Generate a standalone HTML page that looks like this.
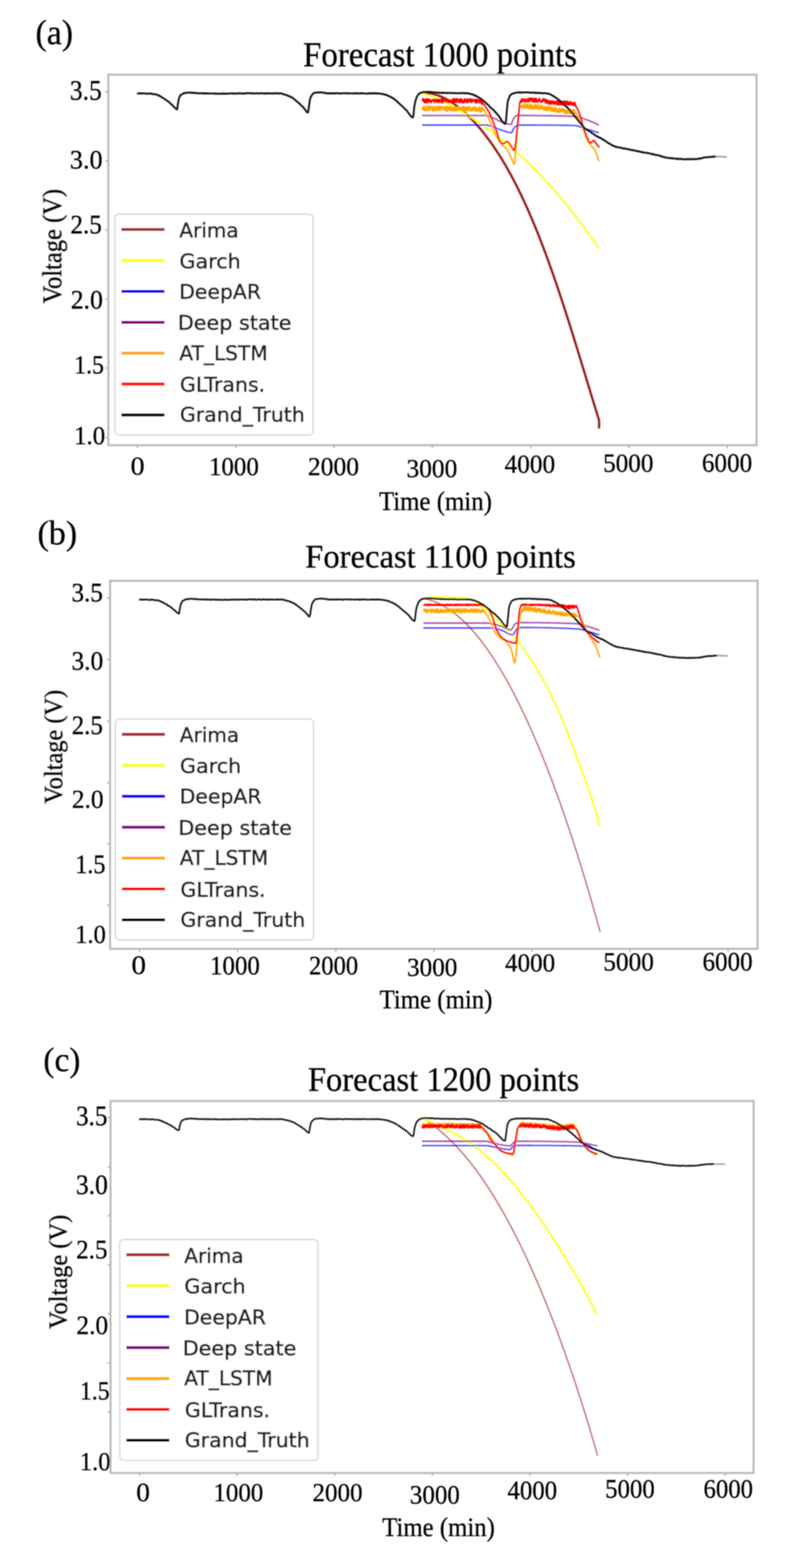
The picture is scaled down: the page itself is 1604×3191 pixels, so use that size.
<!DOCTYPE html>
<html><head><meta charset="utf-8"><title>Forecast comparison</title>
<style>
html,body{margin:0;padding:0;background:#fff;}
body{width:1604px;height:3191px;overflow:hidden;}
svg{display:block;}
</style></head>
<body>
<svg width="1604" height="3191" viewBox="0 0 1604 3191">
<defs><filter id="soft" x="0" y="0" width="1604" height="3191" filterUnits="userSpaceOnUse"><feGaussianBlur stdDeviation="0.9"/></filter></defs>
<rect width="1604" height="3191" fill="#fff"/>
<g filter="url(#soft)">
<g id="chart-a">
<path d="M280.0,907.5v4.5 M480.0,907.5v4.5 M680.0,907.5v4.5 M880.0,907.5v4.5 M1080.0,907.5v4.5 M1280.0,907.5v4.5 M1480.0,907.5v4.5 M219.0,186.6h-4.5 M219.0,327.6h-4.5 M219.0,468.0h-4.5 M219.0,609.0h-4.5 M219.0,749.0h-4.5 M219.0,891.0h-4.5" stroke="#9a9a9a" stroke-width="2.2" fill="none"/>
<rect x="220.5" y="152.0" width="1319.5" height="754.0" fill="none" stroke="#b8b8b8" stroke-width="4"/>
<polyline points="862.0,189.5 863.5,189.5 865.0,189.4 866.5,189.4 868.0,189.5 869.5,189.6 871.0,189.7 872.5,189.8 874.0,190.0 875.5,190.2 877.0,190.4 878.5,190.7 880.0,191.0 881.5,191.3 883.0,191.7 884.5,192.1 886.0,192.5 887.5,192.9 889.0,193.4 890.5,193.9 892.0,194.4 893.5,195.0 895.0,195.5 896.5,196.2 898.0,196.8 899.5,197.4 901.0,198.1 902.5,198.8 904.0,199.6 905.5,200.3 907.0,201.1 908.5,201.9 910.0,202.7 911.5,203.6 913.0,204.4 914.5,205.3 916.0,206.2 917.5,207.2 919.0,208.1 920.5,209.1 922.0,210.1 923.5,211.2 925.0,212.2 926.5,213.3 928.0,214.4 929.5,215.5 931.0,216.6 932.5,217.8 934.0,218.9 935.5,220.1 937.0,221.4 938.5,222.6 940.0,223.9 941.5,225.1 943.0,226.4 944.5,227.8 946.0,229.1 947.5,230.5 949.0,231.8 950.5,233.2 952.0,234.7 953.5,236.1 955.0,237.6 956.5,239.1 958.0,240.6 959.5,242.1 961.0,243.6 962.5,245.2 964.0,246.8 965.5,248.4 967.0,250.0 968.5,251.7 970.0,253.4 971.5,255.0 973.0,256.8 974.5,258.5 976.0,260.2 977.5,262.0 979.0,263.8 980.5,265.6 982.0,267.5 983.5,269.3 985.0,271.2 986.5,273.1 988.0,275.1 989.5,277.0 991.0,279.0 992.5,281.0 994.0,283.0 995.5,285.0 997.0,287.1 998.5,289.2 1000.0,291.3 1001.5,293.4 1003.0,295.5 1004.5,297.7 1006.0,299.9 1007.5,302.1 1009.0,304.4 1010.5,306.6 1012.0,308.9 1013.5,311.2 1015.0,313.6 1016.5,315.9 1018.0,318.3 1019.5,320.7 1021.0,323.2 1022.5,325.6 1024.0,328.1 1025.5,330.6 1027.0,333.1 1028.5,335.7 1030.0,338.3 1031.5,340.9 1033.0,343.5 1034.5,346.2 1036.0,348.9 1037.5,351.6 1039.0,354.3 1040.5,357.1 1042.0,359.8 1043.5,362.7 1045.0,365.5 1046.5,368.4 1048.0,371.3 1049.5,374.2 1051.0,377.1 1052.5,380.1 1054.0,383.1 1055.5,386.1 1057.0,389.2 1058.5,392.3 1060.0,395.4 1061.5,398.5 1063.0,401.7 1064.5,404.8 1066.0,408.1 1067.5,411.3 1069.0,414.6 1070.5,417.9 1072.0,421.2 1073.5,424.5 1075.0,427.9 1076.5,431.3 1078.0,434.8 1079.5,438.2 1081.0,441.7 1082.5,445.2 1084.0,448.8 1085.5,452.4 1087.0,456.0 1088.5,459.6 1090.0,463.2 1091.5,466.9 1093.0,470.6 1094.5,474.4 1096.0,478.1 1097.5,481.9 1099.0,485.7 1100.5,489.6 1102.0,493.5 1103.5,497.4 1105.0,501.3 1106.5,505.2 1108.0,509.2 1109.5,513.2 1111.0,517.2 1112.5,521.3 1114.0,525.4 1115.5,529.5 1117.0,533.6 1118.5,537.8 1120.0,542.0 1121.5,546.2 1123.0,550.4 1124.5,554.7 1126.0,559.0 1127.5,563.3 1129.0,567.6 1130.5,572.0 1132.0,576.3 1133.5,580.7 1135.0,585.2 1136.5,589.6 1138.0,594.1 1139.5,598.6 1141.0,603.1 1142.5,607.6 1144.0,612.1 1145.5,616.7 1147.0,621.3 1148.5,625.9 1150.0,630.5 1151.5,635.2 1153.0,639.9 1154.5,644.5 1156.0,649.2 1157.5,654.0 1159.0,658.7 1160.5,663.4 1162.0,668.2 1163.5,673.0 1165.0,677.8 1166.5,682.6 1168.0,687.4 1169.5,692.2 1171.0,697.1 1172.5,701.9 1174.0,706.8 1175.5,711.7 1177.0,716.6 1178.5,721.5 1180.0,726.4 1181.5,731.3 1183.0,736.2 1184.5,741.1 1186.0,746.0 1187.5,751.0 1189.0,755.9 1190.5,760.8 1192.0,765.8 1193.5,770.7 1195.0,775.6 1196.5,780.6 1198.0,785.5 1199.5,790.5 1201.0,795.4 1202.5,800.3 1204.0,805.2 1205.5,810.1 1207.0,815.0 1208.5,819.9 1210.0,824.8 1211.5,829.7 1213.0,834.6 1214.5,839.4 1216.0,844.3 1217.5,849.1 1219.0,853.9 1219.5,855.5 1219.6,864.0 1219.2,872.0" fill="none" stroke="#981e1e" stroke-width="4.6" stroke-opacity="1.0" stroke-linejoin="round" stroke-linecap="butt"/>
<polyline points="862.0,191.0 863.5,191.4 865.0,191.7 866.5,192.1 868.0,192.6 869.5,193.0 871.0,193.4 872.5,193.9 874.0,194.4 875.5,194.9 877.0,195.4 878.5,195.9 880.0,196.5 881.5,197.0 883.0,197.6 884.5,198.2 886.0,198.8 887.5,199.4 889.0,200.0 890.5,200.6 892.0,201.3 893.5,201.9 895.0,202.6 896.5,203.2 898.0,203.9 899.5,204.6 901.0,205.3 902.5,206.1 904.0,206.8 905.5,207.5 907.0,208.3 908.5,209.0 910.0,209.8 911.5,210.6 913.0,211.4 914.5,212.2 916.0,213.0 917.5,213.8 919.0,214.6 920.5,215.4 922.0,216.3 923.5,217.1 925.0,217.9 926.5,218.8 928.0,219.7 929.5,220.5 931.0,221.4 932.5,222.3 934.0,223.2 935.5,224.1 937.0,225.0 938.5,225.9 940.0,226.8 941.5,227.8 943.0,228.7 944.5,229.6 946.0,230.6 947.5,231.5 949.0,232.5 950.5,233.4 952.0,234.4 953.5,235.4 955.0,236.3 956.5,237.3 958.0,238.3 959.5,239.3 961.0,240.3 962.5,241.3 964.0,242.3 965.5,243.3 967.0,244.3 968.5,245.4 970.0,246.4 971.5,247.4 973.0,248.5 974.5,249.5 976.0,250.6 977.5,251.6 979.0,252.7 980.5,253.7 982.0,254.8 983.5,255.9 985.0,257.0 986.5,258.0 988.0,259.1 989.5,260.2 991.0,261.3 992.5,262.4 994.0,263.5 995.5,264.6 997.0,265.8 998.5,266.9 1000.0,268.0 1001.5,269.1 1003.0,270.3 1004.5,271.4 1006.0,272.6 1007.5,273.7 1009.0,274.9 1010.5,276.0 1012.0,277.2 1013.5,278.4 1015.0,279.5 1016.5,280.7 1018.0,281.9 1019.5,283.1 1021.0,284.3 1022.5,285.5 1024.0,286.7 1025.5,287.9 1027.0,289.2 1028.5,290.4 1030.0,291.6 1031.5,292.8 1033.0,294.1 1034.5,295.3 1036.0,296.6 1037.5,297.9 1039.0,299.1 1040.5,300.4 1042.0,301.7 1043.5,303.0 1045.0,304.2 1046.5,305.5 1048.0,306.8 1049.5,308.1 1051.0,309.5 1052.5,310.8 1054.0,312.1 1055.5,313.4 1057.0,314.8 1058.5,316.1 1060.0,317.5 1061.5,318.9 1063.0,320.2 1064.5,321.6 1066.0,323.0 1067.5,324.4 1069.0,325.8 1070.5,327.2 1072.0,328.6 1073.5,330.0 1075.0,331.4 1076.5,332.8 1078.0,334.3 1079.5,335.7 1081.0,337.2 1082.5,338.6 1084.0,340.1 1085.5,341.6 1087.0,343.1 1088.5,344.6 1090.0,346.1 1091.5,347.6 1093.0,349.1 1094.5,350.6 1096.0,352.1 1097.5,353.7 1099.0,355.2 1100.5,356.8 1102.0,358.4 1103.5,359.9 1105.0,361.5 1106.5,363.1 1108.0,364.7 1109.5,366.3 1111.0,367.9 1112.5,369.5 1114.0,371.2 1115.5,372.8 1117.0,374.4 1118.5,376.1 1120.0,377.8 1121.5,379.4 1123.0,381.1 1124.5,382.8 1126.0,384.5 1127.5,386.2 1129.0,387.9 1130.5,389.7 1132.0,391.4 1133.5,393.1 1135.0,394.9 1136.5,396.6 1138.0,398.4 1139.5,400.2 1141.0,402.0 1142.5,403.7 1144.0,405.5 1145.5,407.4 1147.0,409.2 1148.5,411.0 1150.0,412.8 1151.5,414.7 1153.0,416.5 1154.5,418.4 1156.0,420.2 1157.5,422.1 1159.0,424.0 1160.5,425.9 1162.0,427.8 1163.5,429.7 1165.0,431.6 1166.5,433.5 1168.0,435.5 1169.5,437.4 1171.0,439.4 1172.5,441.3 1174.0,443.3 1175.5,445.2 1177.0,447.2 1178.5,449.2 1180.0,451.2 1181.5,453.2 1183.0,455.2 1184.5,457.2 1186.0,459.2 1187.5,461.2 1189.0,463.3 1190.5,465.3 1192.0,467.4 1193.5,469.4 1195.0,471.5 1196.5,473.5 1198.0,475.6 1199.5,477.6 1201.0,479.7 1202.5,481.8 1204.0,483.9 1205.5,486.0 1207.0,488.1 1208.5,490.2 1210.0,492.3 1211.5,494.4 1213.0,496.5 1214.5,498.6 1216.0,500.7 1217.5,502.9 1219.0,505.0" fill="none" stroke="#ffff00" stroke-width="3.2" stroke-opacity="1.0" stroke-linejoin="round" stroke-linecap="butt"/>
<polyline points="859.0,254.5 860.5,254.5 862.0,254.5 863.5,254.5 865.0,254.5 866.5,254.5 868.0,254.5 869.5,254.5 871.0,254.5 872.5,254.5 874.0,254.5 875.5,254.5 877.0,254.5 878.5,254.5 880.0,254.5 881.5,254.5 883.0,254.5 884.5,254.5 886.0,254.5 887.5,254.5 889.0,254.5 890.5,254.5 892.0,254.5 893.5,254.5 895.0,254.5 896.5,254.5 898.0,254.5 899.5,254.5 901.0,254.5 902.5,254.5 904.0,254.5 905.5,254.5 907.0,254.5 908.5,254.5 910.0,254.5 911.5,254.5 913.0,254.5 914.5,254.5 916.0,254.5 917.5,254.5 919.0,254.5 920.5,254.5 922.0,254.5 923.5,254.5 925.0,254.5 926.5,254.5 928.0,254.5 929.5,254.5 931.0,254.5 932.5,254.5 934.0,254.5 935.5,254.5 937.0,254.5 938.5,254.5 940.0,254.5 941.5,254.5 943.0,254.5 944.5,254.5 946.0,254.5 947.5,254.5 949.0,254.5 950.5,254.5 952.0,254.5 953.5,254.5 955.0,254.5 956.5,254.5 958.0,254.5 959.5,254.5 961.0,254.5 962.5,254.5 964.0,254.5 965.5,254.5 967.0,254.5 968.5,254.5 970.0,254.5 971.5,254.5 973.0,254.5 974.5,254.5 976.0,254.5 977.5,254.5 979.0,254.5 980.5,254.5 982.0,254.5 983.5,254.5 985.0,254.5 986.5,254.5 988.0,254.5 989.5,254.5 991.0,254.6 992.5,254.8 994.0,255.2 995.5,255.6 997.0,256.0 998.5,256.5 1000.0,257.0 1001.5,257.6 1003.0,258.1 1004.5,258.6 1006.0,259.1 1007.5,259.6 1009.0,260.2 1010.5,260.9 1012.0,261.5 1013.5,262.1 1015.0,262.8 1016.5,263.4 1018.0,263.9 1019.5,264.4 1021.0,264.9 1022.5,265.4 1024.0,265.9 1025.5,266.4 1027.0,266.9 1028.5,267.4 1030.0,267.9 1031.5,268.3 1033.0,268.8 1034.5,269.1 1036.0,269.4 1037.5,269.7 1039.0,269.9 1040.5,270.0 1042.0,269.6 1043.5,265.7 1045.0,262.4 1046.5,260.4 1048.0,258.7 1049.5,257.4 1051.0,256.3 1052.5,255.2 1054.0,254.6 1055.5,254.5 1057.0,254.5 1058.5,254.5 1060.0,254.5 1061.5,254.5 1063.0,254.5 1064.5,254.5 1066.0,254.5 1067.5,254.5 1069.0,254.5 1070.5,254.5 1072.0,254.5 1073.5,254.5 1075.0,254.5 1076.5,254.5 1078.0,254.5 1079.5,254.5 1081.0,254.5 1082.5,254.5 1084.0,254.5 1085.5,254.5 1087.0,254.5 1088.5,254.5 1090.0,254.5 1091.5,254.6 1093.0,254.6 1094.5,254.6 1096.0,254.6 1097.5,254.6 1099.0,254.6 1100.5,254.6 1102.0,254.6 1103.5,254.6 1105.0,254.6 1106.5,254.6 1108.0,254.6 1109.5,254.6 1111.0,254.6 1112.5,254.6 1114.0,254.7 1115.5,254.7 1117.0,254.7 1118.5,254.7 1120.0,254.7 1121.5,254.7 1123.0,254.7 1124.5,254.7 1126.0,254.7 1127.5,254.8 1129.0,254.8 1130.5,254.8 1132.0,254.8 1133.5,254.8 1135.0,254.8 1136.5,254.8 1138.0,254.9 1139.5,254.9 1141.0,254.9 1142.5,254.9 1144.0,254.9 1145.5,254.9 1147.0,255.0 1148.5,255.0 1150.0,255.0 1151.5,255.0 1153.0,255.0 1154.5,255.1 1156.0,255.1 1157.5,255.1 1159.0,255.1 1160.5,255.2 1162.0,255.2 1163.5,255.2 1165.0,255.2 1166.5,255.3 1168.0,255.3 1169.5,255.3 1171.0,255.4 1172.5,255.7 1174.0,256.0 1175.5,256.4 1177.0,256.8 1178.5,257.3 1180.0,257.8 1181.5,258.3 1183.0,258.8 1184.5,259.2 1186.0,259.7 1187.5,260.2 1189.0,260.7 1190.5,261.2 1192.0,261.8 1193.5,262.3 1195.0,262.9 1196.5,263.4 1198.0,263.9 1199.5,264.4 1201.0,264.9 1202.5,265.4 1204.0,265.8 1205.5,266.3 1207.0,266.7 1208.5,267.1 1210.0,267.6 1211.5,268.0 1213.0,268.4 1214.5,268.8 1216.0,269.2 1217.5,269.6 1219.0,270.0 1219.2,270.0" fill="none" stroke="#0000ff" stroke-width="2.8" stroke-opacity="0.72" stroke-linejoin="round" stroke-linecap="butt"/>
<polyline points="859.0,235.2 860.5,235.2 862.0,235.2 863.5,235.2 865.0,235.2 866.5,235.2 868.0,235.2 869.5,235.2 871.0,235.2 872.5,235.2 874.0,235.2 875.5,235.2 877.0,235.2 878.5,235.2 880.0,235.2 881.5,235.2 883.0,235.2 884.5,235.2 886.0,235.2 887.5,235.2 889.0,235.2 890.5,235.2 892.0,235.2 893.5,235.2 895.0,235.2 896.5,235.2 898.0,235.2 899.5,235.2 901.0,235.2 902.5,235.2 904.0,235.2 905.5,235.2 907.0,235.2 908.5,235.2 910.0,235.2 911.5,235.2 913.0,235.2 914.5,235.2 916.0,235.2 917.5,235.2 919.0,235.2 920.5,235.2 922.0,235.2 923.5,235.2 925.0,235.2 926.5,235.2 928.0,235.2 929.5,235.2 931.0,235.2 932.5,235.2 934.0,235.2 935.5,235.2 937.0,235.2 938.5,235.2 940.0,235.2 941.5,235.2 943.0,235.2 944.5,235.2 946.0,235.2 947.5,235.2 949.0,235.2 950.5,235.2 952.0,235.2 953.5,235.2 955.0,235.2 956.5,235.2 958.0,235.2 959.5,235.2 961.0,235.2 962.5,235.2 964.0,235.2 965.5,235.2 967.0,235.2 968.5,235.2 970.0,235.2 971.5,235.2 973.0,235.2 974.5,235.2 976.0,235.2 977.5,235.2 979.0,235.2 980.5,235.2 982.0,235.2 983.5,235.2 985.0,235.2 986.5,235.2 988.0,235.2 989.5,235.2 991.0,235.3 992.5,235.6 994.0,236.0 995.5,236.5 997.0,237.1 998.5,237.7 1000.0,238.3 1001.5,239.0 1003.0,239.6 1004.5,240.2 1006.0,240.8 1007.5,241.5 1009.0,242.3 1010.5,243.1 1012.0,243.9 1013.5,244.7 1015.0,245.4 1016.5,246.2 1018.0,246.8 1019.5,247.4 1021.0,248.0 1022.5,248.5 1024.0,249.1 1025.5,249.6 1027.0,250.2 1028.5,250.7 1030.0,251.2 1031.5,251.6 1033.0,252.0 1034.5,252.4 1036.0,252.7 1037.5,252.9 1039.0,253.0 1040.5,252.8 1042.0,249.8 1043.5,245.5 1045.0,242.3 1046.5,239.8 1048.0,237.6 1049.5,236.1 1051.0,235.4 1052.5,235.0 1054.0,235.0 1055.5,235.0 1057.0,235.0 1058.5,235.0 1060.0,235.0 1061.5,235.0 1063.0,235.0 1064.5,235.0 1066.0,235.0 1067.5,235.0 1069.0,235.0 1070.5,235.0 1072.0,235.0 1073.5,235.0 1075.0,235.0 1076.5,235.1 1078.0,235.1 1079.5,235.1 1081.0,235.1 1082.5,235.1 1084.0,235.1 1085.5,235.1 1087.0,235.1 1088.5,235.1 1090.0,235.1 1091.5,235.2 1093.0,235.2 1094.5,235.2 1096.0,235.2 1097.5,235.2 1099.0,235.2 1100.5,235.2 1102.0,235.3 1103.5,235.3 1105.0,235.3 1106.5,235.3 1108.0,235.3 1109.5,235.3 1111.0,235.4 1112.5,235.4 1114.0,235.4 1115.5,235.4 1117.0,235.5 1118.5,235.5 1120.0,235.5 1121.5,235.5 1123.0,235.6 1124.5,235.6 1126.0,235.6 1127.5,235.6 1129.0,235.7 1130.5,235.7 1132.0,235.7 1133.5,235.8 1135.0,235.8 1136.5,235.8 1138.0,235.9 1139.5,235.9 1141.0,235.9 1142.5,236.0 1144.0,236.0 1145.5,236.1 1147.0,236.1 1148.5,236.1 1150.0,236.2 1151.5,236.2 1153.0,236.3 1154.5,236.3 1156.0,236.4 1157.5,236.4 1159.0,236.5 1160.5,236.5 1162.0,236.6 1163.5,236.6 1165.0,236.7 1166.5,236.7 1168.0,236.8 1169.5,236.8 1171.0,236.9 1172.5,237.1 1174.0,237.4 1175.5,237.7 1177.0,238.1 1178.5,238.5 1180.0,238.9 1181.5,239.4 1183.0,239.9 1184.5,240.4 1186.0,240.9 1187.5,241.5 1189.0,242.0 1190.5,242.5 1192.0,243.0 1193.5,243.5 1195.0,244.0 1196.5,244.6 1198.0,245.1 1199.5,245.7 1201.0,246.3 1202.5,246.9 1204.0,247.6 1205.5,248.2 1207.0,248.8 1208.5,249.5 1210.0,250.1 1211.5,250.8 1213.0,251.5 1214.5,252.2 1216.0,252.9 1217.5,253.7 1219.0,254.4 1219.2,254.5" fill="none" stroke="#800080" stroke-width="2.8" stroke-opacity="0.72" stroke-linejoin="round" stroke-linecap="butt"/>
<polyline points="859.0,221.0 859.5,221.0 860.0,222.9 860.5,219.2 861.0,223.5 861.5,219.2 862.0,217.1 862.5,218.9 863.0,221.3 863.5,216.3 864.0,225.3 864.5,223.6 865.0,220.3 865.5,225.0 866.0,219.9 866.5,219.6 867.0,218.5 867.5,219.3 868.0,218.3 868.5,224.0 869.0,217.7 869.5,216.2 870.0,220.8 870.5,217.9 871.0,224.6 871.5,219.9 872.0,224.5 872.5,217.9 873.0,219.4 873.5,216.1 874.0,223.8 874.5,223.9 875.0,221.0 875.5,223.9 876.0,217.4 876.5,218.2 877.0,222.0 877.5,218.9 878.0,216.8 878.5,219.5 879.0,219.5 879.5,218.3 880.0,224.9 880.5,222.2 881.0,218.9 881.5,219.3 882.0,216.8 882.5,225.8 883.0,224.6 883.5,220.5 884.0,224.7 884.5,217.1 885.0,222.9 885.5,222.6 886.0,220.4 886.5,218.2 887.0,220.6 887.5,225.8 888.0,220.1 888.5,221.2 889.0,223.4 889.5,216.6 890.0,216.8 890.5,224.1 891.0,217.4 891.5,216.9 892.0,218.3 892.5,223.9 893.0,217.5 893.5,224.8 894.0,218.2 894.5,216.3 895.0,223.6 895.5,216.8 896.0,216.7 896.5,224.7 897.0,220.7 897.5,223.6 898.0,216.8 898.5,218.8 899.0,220.7 899.5,217.7 900.0,217.7 900.5,219.9 901.0,219.1 901.5,217.4 902.0,221.9 902.5,219.8 903.0,223.0 903.5,218.5 904.0,220.9 904.5,221.1 905.0,223.9 905.5,217.4 906.0,223.1 906.5,225.0 907.0,217.3 907.5,219.5 908.0,222.0 908.5,217.0 909.0,220.2 909.5,225.8 910.0,217.4 910.5,224.1 911.0,226.2 911.5,216.3 912.0,224.8 912.5,218.9 913.0,221.5 913.5,218.4 914.0,220.5 914.5,221.2 915.0,218.6 915.5,218.8 916.0,224.4 916.5,217.4 917.0,225.1 917.5,217.1 918.0,218.8 918.5,223.9 919.0,218.4 919.5,218.8 920.0,225.2 920.5,220.3 921.0,219.3 921.5,222.0 922.0,220.7 922.5,222.0 923.0,218.9 923.5,226.3 924.0,219.4 924.5,220.0 925.0,226.1 925.5,219.8 926.0,216.8 926.5,224.0 927.0,222.4 927.5,219.3 928.0,223.5 928.5,223.6 929.0,225.7 929.5,223.1 930.0,222.7 930.5,222.9 931.0,223.7 931.5,220.0 932.0,216.9 932.5,222.6 933.0,224.8 933.5,222.1 934.0,217.5 934.5,222.0 935.0,222.0 935.5,223.1 936.0,222.8 936.5,218.3 937.0,223.1 937.5,221.8 938.0,221.4 938.5,221.1 939.0,219.9 939.5,220.3 940.0,217.8 940.5,219.6 941.0,217.6 941.5,224.7 942.0,219.1 942.5,216.9 943.0,226.4 943.5,216.6 944.0,220.9 944.5,221.8 945.0,225.0 945.5,224.9 946.0,219.1 946.5,218.5 947.0,220.8 947.5,223.5 948.0,222.9 948.5,224.7 949.0,217.5 949.5,225.4 950.0,220.9 950.5,219.3 951.0,218.1 951.5,225.5 952.0,219.8 952.5,225.4 953.0,224.0 953.5,224.4 954.0,219.0 954.5,217.8 955.0,219.0 955.5,217.1 956.0,219.2 956.5,218.3 957.0,219.9 957.5,226.0 958.0,221.8 958.5,220.7 959.0,224.2 959.5,225.3 960.0,222.1 960.5,220.9 961.0,225.9 961.5,218.5 962.0,219.2 962.5,224.1 963.0,223.4 963.5,224.7 964.0,220.3 964.5,221.0 965.0,218.3 965.5,219.9 966.0,217.7 966.5,219.4 967.0,225.4 967.5,225.3 968.0,217.3 968.5,218.5 969.0,226.9 969.5,221.2 970.0,221.7 970.5,226.5 971.0,224.3 971.5,220.7 972.0,221.1 972.5,220.8 973.0,223.0 973.5,225.1 974.0,224.5 974.5,221.3 975.0,223.7 975.5,219.1 976.0,226.8 976.5,217.6 977.0,225.8 977.5,222.4 978.0,227.2 978.5,225.2 979.0,226.8 979.5,220.8 980.0,222.3 980.5,227.0 981.0,224.7 981.5,226.9 982.0,217.9 982.5,222.9 983.0,222.9 983.5,223.0 984.0,223.0 984.5,223.1 985.0,223.5 985.5,224.0 986.0,224.6 986.5,225.4 987.0,226.3 987.5,227.2 988.0,228.2 988.5,229.2 989.0,230.2 989.5,231.1 990.0,232.0 990.5,232.9 991.0,233.8 991.5,234.7 992.0,235.7 992.5,236.7 993.0,237.7 993.5,238.7 994.0,239.8 994.5,240.8 995.0,241.9 995.5,242.9 996.0,244.0 996.5,245.1 997.0,246.2 997.5,247.3 998.0,248.4 998.5,249.6 999.0,250.7 999.5,251.9 1000.0,253.1 1000.5,254.2 1001.0,255.4 1001.5,256.6 1002.0,257.7 1002.5,258.9 1003.0,260.0 1003.5,261.1 1004.0,262.3 1004.5,263.5 1005.0,264.7 1005.5,265.8 1006.0,267.0 1006.5,268.2 1007.0,269.4 1007.5,270.6 1008.0,271.8 1008.5,272.9 1009.0,274.0 1009.5,275.1 1010.0,276.2 1010.5,277.2 1011.0,278.2 1011.5,279.1 1012.0,280.0 1012.5,280.9 1013.0,281.7 1013.5,282.5 1014.0,283.3 1014.5,284.1 1015.0,284.8 1015.5,285.6 1016.0,286.3 1016.5,287.0 1017.0,287.7 1017.5,288.4 1018.0,289.0 1018.5,289.7 1019.0,290.3 1019.5,291.0 1020.0,291.6 1020.5,292.2 1021.0,292.8 1021.5,293.4 1022.0,294.0 1022.5,294.6 1023.0,295.1 1023.5,295.6 1024.0,296.1 1024.5,296.6 1025.0,297.0 1025.5,297.5 1026.0,297.9 1026.5,298.3 1027.0,298.8 1027.5,299.2 1028.0,299.7 1028.5,300.1 1029.0,300.6 1029.5,301.1 1030.0,301.6 1030.5,302.2 1031.0,302.7 1031.5,303.3 1032.0,304.0 1032.5,304.7 1033.0,305.5 1033.5,306.4 1034.0,307.3 1034.5,308.2 1035.0,309.2 1035.5,310.3 1036.0,311.4 1036.5,312.4 1037.0,313.5 1037.5,314.7 1038.0,315.8 1038.5,316.9 1039.0,317.9 1039.5,319.0 1040.0,320.0 1040.5,321.1 1041.0,322.2 1041.5,323.5 1042.0,324.8 1042.5,326.1 1043.0,327.5 1043.5,328.8 1044.0,330.0 1044.5,331.1 1045.0,332.0 1045.5,332.9 1046.0,333.5 1046.5,333.9 1047.0,334.0 1047.5,331.9 1048.0,326.7 1048.5,320.2 1049.0,314.0 1049.5,308.4 1050.0,302.5 1050.5,296.4 1051.0,290.0 1051.5,283.1 1052.0,275.8 1052.5,268.6 1053.0,262.0 1053.5,255.9 1054.0,250.0 1054.5,244.5 1055.0,239.4 1055.5,235.0 1056.0,230.8 1056.5,226.7 1057.0,223.0 1057.5,220.3 1058.0,219.0 1058.5,218.6 1059.0,218.1 1059.5,217.8 1060.0,216.2 1060.5,215.3 1061.0,216.8 1061.5,215.5 1062.0,217.8 1062.5,213.8 1063.0,216.6 1063.5,217.4 1064.0,216.4 1064.5,213.3 1065.0,219.6 1065.5,216.5 1066.0,216.7 1066.5,217.4 1067.0,217.5 1067.5,219.0 1068.0,219.2 1068.5,211.2 1069.0,216.3 1069.5,218.8 1070.0,212.6 1070.5,216.0 1071.0,218.5 1071.5,213.4 1072.0,220.1 1072.5,219.6 1073.0,214.0 1073.5,214.0 1074.0,218.9 1074.5,211.5 1075.0,216.1 1075.5,221.3 1076.0,220.0 1076.5,220.8 1077.0,215.6 1077.5,220.9 1078.0,218.4 1078.5,220.7 1079.0,212.1 1079.5,218.3 1080.0,216.8 1080.5,219.0 1081.0,216.7 1081.5,221.7 1082.0,213.7 1082.5,221.2 1083.0,221.7 1083.5,221.4 1084.0,214.3 1084.5,220.0 1085.0,216.5 1085.5,219.7 1086.0,220.7 1086.5,219.5 1087.0,221.9 1087.5,220.5 1088.0,214.5 1088.5,218.5 1089.0,214.4 1089.5,221.1 1090.0,216.6 1090.5,212.8 1091.0,217.9 1091.5,216.0 1092.0,221.9 1092.5,215.7 1093.0,215.7 1093.5,217.8 1094.0,219.7 1094.5,213.9 1095.0,220.9 1095.5,215.4 1096.0,213.4 1096.5,219.3 1097.0,218.9 1097.5,222.8 1098.0,217.3 1098.5,218.7 1099.0,219.9 1099.5,220.4 1100.0,221.1 1100.5,219.1 1101.0,214.6 1101.5,221.2 1102.0,216.1 1102.5,217.9 1103.0,214.9 1103.5,221.0 1104.0,215.8 1104.5,221.7 1105.0,220.0 1105.5,224.0 1106.0,222.4 1106.5,218.1 1107.0,218.0 1107.5,220.4 1108.0,220.8 1108.5,220.0 1109.0,224.1 1109.5,216.5 1110.0,224.4 1110.5,221.1 1111.0,216.4 1111.5,220.3 1112.0,224.6 1112.5,220.9 1113.0,221.3 1113.5,219.8 1114.0,224.9 1114.5,220.8 1115.0,216.5 1115.5,219.2 1116.0,223.1 1116.5,216.7 1117.0,222.3 1117.5,224.9 1118.0,221.9 1118.5,220.6 1119.0,217.8 1119.5,221.1 1120.0,220.0 1120.5,219.4 1121.0,221.9 1121.5,217.6 1122.0,226.3 1122.5,224.6 1123.0,221.3 1123.5,220.3 1124.0,219.8 1124.5,219.2 1125.0,226.0 1125.5,220.0 1126.0,223.9 1126.5,220.7 1127.0,222.0 1127.5,227.3 1128.0,225.4 1128.5,226.2 1129.0,218.9 1129.5,219.1 1130.0,224.0 1130.5,226.4 1131.0,219.3 1131.5,223.9 1132.0,222.0 1132.5,226.6 1133.0,222.4 1133.5,221.8 1134.0,225.2 1134.5,222.4 1135.0,228.4 1135.5,227.6 1136.0,226.1 1136.5,228.8 1137.0,227.9 1137.5,221.8 1138.0,220.3 1138.5,226.6 1139.0,227.5 1139.5,223.3 1140.0,228.0 1140.5,224.0 1141.0,223.7 1141.5,226.3 1142.0,225.7 1142.5,221.1 1143.0,221.6 1143.5,221.2 1144.0,223.3 1144.5,227.5 1145.0,225.4 1145.5,226.2 1146.0,221.8 1146.5,220.8 1147.0,225.7 1147.5,226.7 1148.0,224.4 1148.5,229.0 1149.0,229.7 1149.5,223.7 1150.0,227.1 1150.5,223.9 1151.0,230.4 1151.5,230.0 1152.0,222.4 1152.5,230.8 1153.0,230.2 1153.5,229.8 1154.0,229.5 1154.5,231.3 1155.0,228.7 1155.5,228.8 1156.0,224.8 1156.5,226.7 1157.0,229.7 1157.5,224.3 1158.0,228.0 1158.5,228.9 1159.0,225.3 1159.5,221.9 1160.0,223.7 1160.5,223.4 1161.0,231.7 1161.5,229.9 1162.0,228.8 1162.5,230.6 1163.0,224.5 1163.5,229.4 1164.0,227.9 1164.5,227.9 1165.0,230.4 1165.5,227.6 1166.0,223.2 1166.5,228.5 1167.0,224.6 1167.5,232.5 1168.0,229.2 1168.5,230.1 1169.0,229.0 1169.5,223.7 1170.0,231.9 1170.5,228.2 1171.0,228.5 1171.5,228.9 1172.0,229.4 1172.5,230.0 1173.0,230.7 1173.5,231.5 1174.0,232.3 1174.5,233.3 1175.0,234.2 1175.5,235.2 1176.0,236.3 1176.5,237.4 1177.0,238.5 1177.5,239.6 1178.0,240.7 1178.5,241.8 1179.0,242.9 1179.5,244.0 1180.0,245.0 1180.5,246.0 1181.0,247.1 1181.5,248.2 1182.0,249.3 1182.5,250.5 1183.0,251.7 1183.5,252.9 1184.0,254.2 1184.5,255.4 1185.0,256.7 1185.5,258.0 1186.0,259.3 1186.5,260.6 1187.0,262.0 1187.5,263.3 1188.0,264.6 1188.5,266.0 1189.0,267.3 1189.5,268.7 1190.0,270.0 1190.5,271.4 1191.0,272.8 1191.5,274.3 1192.0,275.9 1192.5,277.4 1193.0,278.9 1193.5,280.3 1194.0,281.7 1194.5,282.9 1195.0,284.0 1195.5,285.0 1196.0,285.9 1196.5,286.8 1197.0,287.6 1197.5,288.4 1198.0,289.2 1198.5,289.9 1199.0,290.6 1199.5,291.3 1200.0,292.0 1200.5,292.7 1201.0,293.3 1201.5,294.0 1202.0,294.7 1202.5,295.3 1203.0,296.0 1203.5,296.7 1204.0,297.3 1204.5,297.9 1205.0,298.5 1205.5,299.0 1206.0,299.6 1206.5,300.1 1207.0,300.6 1207.5,301.2 1208.0,301.8 1208.5,302.4 1209.0,303.0 1209.5,303.7 1210.0,304.4 1210.5,305.2 1211.0,306.0 1211.5,306.9 1212.0,307.9 1212.5,308.9 1213.0,310.1 1213.5,311.3 1214.0,312.5 1214.5,313.8 1215.0,315.2 1215.5,316.7 1216.0,318.1 1216.5,319.7 1217.0,321.3 1217.5,322.9 1218.0,324.6 1218.5,326.3 1219.0,328.0" fill="none" stroke="#ffa500" stroke-width="3.0" stroke-opacity="1.0" stroke-linejoin="round" stroke-linecap="butt"/>
<polyline points="859.0,205.0 859.5,205.0 860.0,205.0 860.5,201.0 861.0,203.2 861.5,200.9 862.0,202.3 862.5,206.5 863.0,203.7 863.5,208.1 864.0,202.3 864.5,207.9 865.0,209.2 865.5,204.0 866.0,208.9 866.5,203.3 867.0,209.2 867.5,201.0 868.0,208.6 868.5,208.5 869.0,203.9 869.5,201.9 870.0,209.2 870.5,203.6 871.0,207.7 871.5,202.2 872.0,203.8 872.5,201.7 873.0,201.2 873.5,206.7 874.0,205.1 874.5,206.3 875.0,207.9 875.5,203.3 876.0,205.2 876.5,206.3 877.0,205.7 877.5,205.9 878.0,208.7 878.5,204.7 879.0,204.0 879.5,204.6 880.0,204.5 880.5,203.2 881.0,204.2 881.5,203.4 882.0,201.9 882.5,205.4 883.0,204.3 883.5,204.0 884.0,206.7 884.5,209.1 885.0,202.5 885.5,202.2 886.0,203.4 886.5,205.3 887.0,205.1 887.5,202.9 888.0,203.7 888.5,201.9 889.0,207.8 889.5,207.7 890.0,203.5 890.5,207.9 891.0,202.2 891.5,207.2 892.0,207.3 892.5,207.6 893.0,204.9 893.5,208.8 894.0,202.1 894.5,202.2 895.0,206.0 895.5,204.9 896.0,204.8 896.5,203.0 897.0,202.5 897.5,202.3 898.0,208.4 898.5,203.5 899.0,206.5 899.5,201.6 900.0,208.7 900.5,204.0 901.0,201.6 901.5,208.1 902.0,208.9 902.5,202.1 903.0,205.5 903.5,204.1 904.0,201.9 904.5,204.4 905.0,205.0 905.5,203.2 906.0,201.6 906.5,201.0 907.0,206.6 907.5,202.3 908.0,203.1 908.5,207.2 909.0,204.8 909.5,201.1 910.0,201.9 910.5,204.4 911.0,204.4 911.5,208.6 912.0,205.8 912.5,207.6 913.0,208.5 913.5,203.8 914.0,208.6 914.5,206.3 915.0,205.6 915.5,207.4 916.0,203.3 916.5,208.5 917.0,207.4 917.5,204.3 918.0,205.6 918.5,207.8 919.0,206.1 919.5,207.6 920.0,208.2 920.5,204.2 921.0,202.8 921.5,202.5 922.0,204.2 922.5,201.1 923.0,207.7 923.5,209.1 924.0,201.0 924.5,204.2 925.0,204.1 925.5,201.5 926.0,207.6 926.5,206.4 927.0,201.7 927.5,201.6 928.0,206.1 928.5,208.5 929.0,204.3 929.5,201.0 930.0,207.6 930.5,206.8 931.0,204.6 931.5,202.1 932.0,204.8 932.5,201.9 933.0,205.5 933.5,205.0 934.0,201.8 934.5,208.5 935.0,202.7 935.5,205.8 936.0,209.0 936.5,201.9 937.0,207.0 937.5,205.7 938.0,206.1 938.5,201.6 939.0,207.3 939.5,201.2 940.0,203.5 940.5,204.6 941.0,209.4 941.5,204.0 942.0,208.6 942.5,208.0 943.0,207.0 943.5,209.2 944.0,207.5 944.5,203.3 945.0,205.1 945.5,205.5 946.0,201.2 946.5,208.1 947.0,201.4 947.5,207.3 948.0,202.7 948.5,206.2 949.0,206.8 949.5,207.1 950.0,203.7 950.5,206.0 951.0,209.1 951.5,201.3 952.0,206.1 952.5,203.1 953.0,207.4 953.5,202.2 954.0,206.9 954.5,202.9 955.0,202.3 955.5,205.3 956.0,201.8 956.5,204.3 957.0,203.8 957.5,207.6 958.0,201.4 958.5,208.1 959.0,201.5 959.5,208.3 960.0,205.3 960.5,207.2 961.0,203.6 961.5,202.7 962.0,205.7 962.5,202.7 963.0,204.4 963.5,203.4 964.0,204.0 964.5,203.5 965.0,205.3 965.5,206.5 966.0,206.8 966.5,207.2 967.0,205.5 967.5,202.1 968.0,202.4 968.5,209.1 969.0,202.7 969.5,202.6 970.0,205.2 970.5,208.9 971.0,209.3 971.5,204.1 972.0,202.3 972.5,204.8 973.0,206.5 973.5,205.6 974.0,206.1 974.5,206.9 975.0,204.6 975.5,208.9 976.0,203.5 976.5,205.1 977.0,203.3 977.5,208.3 978.0,208.9 978.5,208.7 979.0,206.0 979.5,204.4 980.0,208.6 980.5,206.5 981.0,211.3 981.5,212.7 982.0,206.1 982.5,209.6 983.0,210.0 983.5,210.4 984.0,210.9 984.5,211.5 985.0,212.1 985.5,212.8 986.0,213.5 986.5,214.2 987.0,214.9 987.5,215.7 988.0,216.5 988.5,217.2 989.0,218.0 989.5,218.8 990.0,219.5 990.5,220.3 991.0,221.1 991.5,221.9 992.0,222.8 992.5,223.6 993.0,224.5 993.5,225.3 994.0,226.2 994.5,227.1 995.0,228.1 995.5,229.0 996.0,230.0 996.5,230.9 997.0,231.9 997.5,233.0 998.0,234.0 998.5,235.1 999.0,236.2 999.5,237.4 1000.0,238.6 1000.5,239.9 1001.0,241.1 1001.5,242.4 1002.0,243.7 1002.5,245.1 1003.0,246.4 1003.5,247.7 1004.0,249.0 1004.5,250.3 1005.0,251.6 1005.5,252.9 1006.0,254.3 1006.5,255.6 1007.0,257.0 1007.5,258.3 1008.0,259.7 1008.5,261.1 1009.0,262.5 1009.5,263.8 1010.0,265.2 1010.5,266.6 1011.0,268.0 1011.5,269.5 1012.0,271.0 1012.5,272.7 1013.0,274.4 1013.5,276.1 1014.0,277.8 1014.5,279.5 1015.0,281.1 1015.5,282.6 1016.0,284.1 1016.5,285.3 1017.0,286.4 1017.5,287.3 1018.0,288.0 1018.5,288.5 1019.0,289.1 1019.5,289.6 1020.0,290.0 1020.5,290.5 1021.0,290.9 1021.5,291.3 1022.0,291.6 1022.5,291.9 1023.0,292.1 1023.5,292.3 1024.0,292.4 1024.5,292.4 1025.0,292.3 1025.5,292.2 1026.0,291.9 1026.5,291.6 1027.0,291.3 1027.5,290.9 1028.0,290.4 1028.5,290.0 1029.0,289.5 1029.5,289.1 1030.0,288.8 1030.5,288.5 1031.0,288.2 1031.5,288.1 1032.0,288.0 1032.5,288.1 1033.0,288.3 1033.5,288.6 1034.0,289.0 1034.5,289.4 1035.0,290.0 1035.5,290.6 1036.0,291.3 1036.5,292.0 1037.0,292.7 1037.5,293.5 1038.0,294.2 1038.5,295.0 1039.0,295.7 1039.5,296.4 1040.0,297.0 1040.5,297.6 1041.0,298.4 1041.5,299.2 1042.0,300.0 1042.5,300.9 1043.0,301.7 1043.5,302.6 1044.0,303.3 1044.5,304.1 1045.0,304.7 1045.5,305.2 1046.0,305.6 1046.5,305.9 1047.0,306.0 1047.5,305.1 1048.0,302.9 1048.5,300.0 1049.0,297.0 1049.5,293.8 1050.0,290.1 1050.5,286.0 1051.0,281.4 1051.5,276.2 1052.0,270.8 1052.5,265.3 1053.0,260.0 1053.5,254.9 1054.0,249.7 1054.5,244.5 1055.0,239.5 1055.5,234.6 1056.0,230.0 1056.5,225.2 1057.0,220.1 1057.5,215.0 1058.0,210.7 1058.5,207.5 1059.0,206.0 1059.5,205.5 1060.0,206.0 1060.5,207.5 1061.0,202.9 1061.5,206.1 1062.0,201.4 1062.5,207.7 1063.0,206.8 1063.5,202.4 1064.0,204.9 1064.5,204.6 1065.0,201.4 1065.5,201.3 1066.0,205.2 1066.5,201.5 1067.0,201.6 1067.5,204.0 1068.0,205.5 1068.5,207.8 1069.0,205.1 1069.5,204.4 1070.0,203.2 1070.5,206.7 1071.0,205.8 1071.5,206.2 1072.0,201.3 1072.5,204.8 1073.0,201.5 1073.5,206.0 1074.0,204.7 1074.5,207.1 1075.0,203.8 1075.5,205.9 1076.0,206.4 1076.5,200.1 1077.0,200.7 1077.5,200.1 1078.0,204.9 1078.5,206.0 1079.0,205.0 1079.5,199.7 1080.0,202.5 1080.5,203.3 1081.0,203.3 1081.5,202.2 1082.0,200.4 1082.5,201.7 1083.0,205.0 1083.5,199.5 1084.0,207.0 1084.5,202.0 1085.0,201.9 1085.5,204.8 1086.0,207.2 1086.5,205.1 1087.0,201.4 1087.5,202.3 1088.0,199.8 1088.5,203.7 1089.0,207.9 1089.5,202.6 1090.0,201.6 1090.5,200.8 1091.0,206.9 1091.5,200.6 1092.0,205.2 1092.5,201.9 1093.0,205.9 1093.5,203.4 1094.0,207.6 1094.5,207.6 1095.0,204.4 1095.5,207.8 1096.0,205.2 1096.5,205.4 1097.0,204.9 1097.5,200.6 1098.0,200.1 1098.5,202.0 1099.0,204.8 1099.5,204.5 1100.0,206.4 1100.5,206.6 1101.0,206.0 1101.5,208.0 1102.0,208.3 1102.5,205.6 1103.0,207.4 1103.5,205.2 1104.0,206.1 1104.5,206.5 1105.0,201.5 1105.5,204.0 1106.0,203.0 1106.5,205.6 1107.0,201.1 1107.5,204.6 1108.0,202.4 1108.5,203.4 1109.0,203.7 1109.5,206.8 1110.0,202.1 1110.5,209.6 1111.0,205.3 1111.5,208.0 1112.0,205.9 1112.5,203.1 1113.0,203.0 1113.5,206.7 1114.0,210.7 1114.5,208.7 1115.0,207.9 1115.5,204.7 1116.0,207.6 1116.5,209.1 1117.0,209.5 1117.5,205.3 1118.0,212.0 1118.5,212.5 1119.0,207.5 1119.5,205.6 1120.0,207.8 1120.5,209.9 1121.0,205.5 1121.5,210.1 1122.0,208.4 1122.5,209.3 1123.0,212.3 1123.5,209.5 1124.0,205.6 1124.5,210.0 1125.0,211.0 1125.5,208.6 1126.0,206.9 1126.5,207.8 1127.0,205.7 1127.5,208.1 1128.0,211.3 1128.5,206.8 1129.0,212.6 1129.5,212.3 1130.0,208.0 1130.5,210.9 1131.0,210.5 1131.5,208.6 1132.0,206.3 1132.5,207.0 1133.0,211.0 1133.5,211.3 1134.0,207.8 1134.5,213.5 1135.0,205.2 1135.5,205.6 1136.0,210.4 1136.5,212.6 1137.0,205.6 1137.5,212.9 1138.0,205.3 1138.5,212.2 1139.0,205.5 1139.5,213.3 1140.0,213.2 1140.5,211.5 1141.0,205.9 1141.5,210.8 1142.0,212.3 1142.5,212.7 1143.0,207.8 1143.5,206.7 1144.0,213.6 1144.5,210.5 1145.0,211.2 1145.5,213.7 1146.0,206.5 1146.5,211.4 1147.0,207.5 1147.5,207.2 1148.0,206.6 1148.5,210.9 1149.0,213.5 1149.5,205.7 1150.0,207.9 1150.5,206.3 1151.0,211.0 1151.5,207.5 1152.0,210.3 1152.5,212.0 1153.0,206.9 1153.5,208.9 1154.0,212.6 1154.5,206.8 1155.0,205.8 1155.5,213.0 1156.0,212.4 1156.5,208.4 1157.0,211.5 1157.5,213.8 1158.0,207.7 1158.5,210.9 1159.0,212.9 1159.5,212.8 1160.0,211.1 1160.5,210.4 1161.0,208.7 1161.5,206.6 1162.0,210.2 1162.5,209.6 1163.0,213.8 1163.5,209.4 1164.0,211.0 1164.5,212.5 1165.0,209.5 1165.5,213.6 1166.0,209.3 1166.5,211.3 1167.0,213.6 1167.5,210.3 1168.0,213.2 1168.5,209.0 1169.0,210.5 1169.5,215.5 1170.0,208.1 1170.5,212.5 1171.0,213.1 1171.5,213.9 1172.0,214.8 1172.5,215.8 1173.0,216.8 1173.5,217.8 1174.0,218.8 1174.5,219.8 1175.0,220.8 1175.5,221.9 1176.0,223.0 1176.5,224.1 1177.0,225.3 1177.5,226.5 1178.0,227.7 1178.5,229.0 1179.0,230.3 1179.5,231.6 1180.0,233.0 1180.5,234.4 1181.0,235.8 1181.5,237.3 1182.0,238.9 1182.5,240.7 1183.0,242.6 1183.5,244.5 1184.0,246.6 1184.5,248.6 1185.0,250.7 1185.5,252.7 1186.0,254.7 1186.5,256.6 1187.0,258.4 1187.5,260.0 1188.0,261.5 1188.5,263.0 1189.0,264.5 1189.5,265.9 1190.0,267.3 1190.5,268.6 1191.0,269.9 1191.5,271.2 1192.0,272.5 1192.5,273.7 1193.0,274.9 1193.5,276.0 1194.0,277.2 1194.5,278.3 1195.0,279.4 1195.5,280.4 1196.0,281.6 1196.5,282.7 1197.0,283.9 1197.5,285.2 1198.0,286.3 1198.5,287.4 1199.0,288.4 1199.5,289.3 1200.0,290.0 1200.5,290.6 1201.0,290.9 1201.5,291.0 1202.0,290.9 1202.5,290.7 1203.0,290.4 1203.5,290.1 1204.0,289.6 1204.5,289.2 1205.0,288.7 1205.5,288.2 1206.0,287.7 1206.5,287.3 1207.0,286.9 1207.5,286.5 1208.0,286.2 1208.5,286.1 1209.0,286.0 1209.5,286.2 1210.0,286.7 1210.5,287.5 1211.0,288.4 1211.5,289.3 1212.0,290.0 1212.5,290.6 1213.0,291.3 1213.5,291.9 1214.0,292.6 1214.5,293.2 1215.0,293.8 1215.5,294.5 1216.0,295.1 1216.5,295.7 1217.0,296.4 1217.5,297.0 1218.0,297.6 1218.5,298.2 1219.0,298.8 1219.5,299.4 1220.0,300.0" fill="none" stroke="#ff0000" stroke-width="3.0" stroke-opacity="1.0" stroke-linejoin="round" stroke-linecap="butt"/>
<polyline points="279.0,190.1 280.2,190.4 281.4,190.3 282.6,189.7 283.8,189.8 285.0,190.4 286.2,189.5 287.4,190.4 288.6,190.4 289.8,190.1 291.0,189.9 292.2,189.9 293.4,189.9 294.6,190.2 295.8,190.3 297.0,190.4 298.2,190.9 299.4,190.7 300.6,190.6 301.8,191.0 303.0,190.2 304.2,190.2 305.4,190.8 306.6,190.3 307.8,190.4 309.0,191.1 310.2,191.1 311.4,191.8 312.6,191.6 313.8,191.7 315.0,191.8 316.2,191.8 317.4,191.8 318.6,192.3 319.8,193.3 321.0,193.2 322.2,193.9 323.4,194.1 324.6,195.6 325.8,195.5 327.0,196.2 328.2,197.5 329.4,197.8 330.6,198.8 331.8,199.4 333.0,200.3 334.2,200.4 335.4,201.7 336.6,202.5 337.8,203.8 339.0,204.1 340.2,205.3 341.4,205.6 342.6,206.8 343.8,207.7 345.0,208.5 346.2,210.2 347.4,210.7 348.6,212.3 349.8,212.9 351.0,214.1 352.2,215.4 353.4,216.9 354.6,217.7 355.8,219.4 357.0,220.4 358.2,221.5 359.4,221.8 360.6,222.7 361.8,213.9 363.0,206.9 364.2,200.4 365.4,197.6 366.6,195.2 367.8,193.0 369.0,192.7 370.2,192.0 371.4,191.4 372.6,190.5 373.8,189.6 375.0,189.3 376.2,189.8 377.4,189.2 378.6,188.5 379.8,189.1 381.0,188.6 382.2,188.5 383.4,188.3 384.6,188.4 385.8,188.2 387.0,188.1 388.2,189.1 389.4,188.7 390.6,188.9 391.8,188.7 393.0,189.3 394.2,188.6 395.4,189.1 396.6,188.8 397.8,189.0 399.0,190.0 400.2,189.7 401.4,189.5 402.6,189.6 403.8,190.0 405.0,189.5 406.2,189.8 407.4,189.9 408.6,189.6 409.8,189.8 411.0,190.1 412.2,190.3 413.4,189.5 414.6,190.4 415.8,189.4 417.0,190.3 418.2,190.4 419.4,189.7 420.6,190.0 421.8,190.5 423.0,189.6 424.2,190.3 425.4,190.5 426.6,190.3 427.8,190.5 429.0,190.0 430.2,190.0 431.4,190.2 432.6,190.0 433.8,190.2 435.0,190.9 436.2,190.5 437.4,190.2 438.6,190.2 439.8,190.9 441.0,190.4 442.2,191.0 443.4,190.5 444.6,190.5 445.8,190.9 447.0,190.8 448.2,190.6 449.4,190.4 450.6,190.9 451.8,190.4 453.0,191.0 454.2,190.0 455.4,190.4 456.6,190.5 457.8,191.0 459.0,190.2 460.2,190.8 461.4,190.6 462.6,190.7 463.8,190.5 465.0,190.9 466.2,190.2 467.4,190.2 468.6,190.0 469.8,189.8 471.0,190.0 472.2,190.7 473.4,190.6 474.6,189.8 475.8,190.4 477.0,190.2 478.2,190.3 479.4,190.4 480.6,190.0 481.8,190.7 483.0,190.1 484.2,190.3 485.4,190.3 486.6,189.7 487.8,189.6 489.0,190.0 490.2,190.3 491.4,190.4 492.6,190.3 493.8,189.6 495.0,190.5 496.2,190.3 497.4,190.4 498.6,190.0 499.8,190.5 501.0,189.5 502.2,189.5 503.4,189.5 504.6,189.7 505.8,189.7 507.0,189.7 508.2,190.1 509.4,189.5 510.6,190.1 511.8,189.6 513.0,190.2 514.2,189.5 515.4,189.8 516.6,190.5 517.8,190.0 519.0,190.3 520.2,190.2 521.4,190.1 522.6,189.7 523.8,190.1 525.0,189.5 526.2,190.3 527.4,190.5 528.6,190.4 529.8,189.5 531.0,189.8 532.2,189.8 533.4,189.6 534.6,190.1 535.8,190.3 537.0,189.8 538.2,190.4 539.4,190.3 540.6,189.6 541.8,190.3 543.0,190.4 544.2,189.7 545.4,190.1 546.6,190.2 547.8,190.1 549.0,189.6 550.2,190.2 551.4,190.1 552.6,190.4 553.8,190.3 555.0,189.8 556.2,190.2 557.4,190.4 558.6,190.4 559.8,189.6 561.0,189.5 562.2,190.2 563.4,189.7 564.6,190.1 565.8,190.5 567.0,189.9 568.2,189.7 569.4,190.0 570.6,190.3 571.8,189.8 573.0,190.4 574.2,190.4 575.4,191.3 576.6,191.9 577.8,191.8 579.0,192.2 580.2,192.8 581.4,192.8 582.6,193.2 583.8,193.7 585.0,194.3 586.2,194.4 587.4,195.6 588.6,195.9 589.8,196.2 591.0,196.5 592.2,197.9 593.4,197.8 594.6,198.5 595.8,199.3 597.0,200.1 598.2,201.9 599.4,202.1 600.6,203.1 601.8,204.7 603.0,205.5 604.2,206.0 605.4,207.3 606.6,208.8 607.8,209.2 609.0,210.7 610.2,211.1 611.4,212.9 612.6,214.0 613.8,215.2 615.0,216.2 616.2,217.1 617.4,217.9 618.6,219.9 619.8,221.8 621.0,223.0 622.2,224.8 623.4,226.6 624.6,228.1 625.8,229.1 627.0,228.6 628.2,222.2 629.4,213.4 630.6,204.1 631.8,199.6 633.0,196.8 634.2,194.6 635.4,192.9 636.6,191.5 637.8,190.0 639.0,189.5 640.2,188.6 641.4,189.1 642.6,188.9 643.8,188.7 645.0,188.3 646.2,188.1 647.4,188.1 648.6,187.6 649.8,188.4 651.0,188.1 652.2,187.9 653.4,188.1 654.6,188.3 655.8,188.0 657.0,188.7 658.2,189.0 659.4,188.6 660.6,188.5 661.8,189.4 663.0,189.9 664.2,189.2 665.4,190.0 666.6,190.2 667.8,190.4 669.0,189.6 670.2,189.6 671.4,190.5 672.6,189.6 673.8,189.6 675.0,190.1 676.2,189.9 677.4,190.3 678.6,189.7 679.8,190.5 681.0,189.7 682.2,190.3 683.4,189.5 684.6,190.0 685.8,189.5 687.0,189.8 688.2,189.8 689.4,190.2 690.6,190.0 691.8,189.5 693.0,190.5 694.2,190.4 695.4,190.5 696.6,189.7 697.8,189.9 699.0,189.7 700.2,189.6 701.4,189.5 702.6,190.0 703.8,189.6 705.0,189.6 706.2,190.4 707.4,190.0 708.6,189.7 709.8,190.2 711.0,189.7 712.2,190.0 713.4,189.8 714.6,190.0 715.8,190.1 717.0,190.0 718.2,189.9 719.4,190.3 720.6,190.4 721.8,189.6 723.0,189.6 724.2,189.6 725.4,190.5 726.6,190.5 727.8,189.7 729.0,190.5 730.2,189.7 731.4,190.0 732.6,190.0 733.8,190.5 735.0,189.5 736.2,189.8 737.4,190.1 738.6,189.5 739.8,189.7 741.0,190.0 742.2,190.4 743.4,190.3 744.6,190.4 745.8,190.3 747.0,190.2 748.2,190.4 749.4,190.2 750.6,190.3 751.8,189.8 753.0,189.6 754.2,190.3 755.4,189.6 756.6,190.5 757.8,190.1 759.0,189.8 760.2,190.5 761.4,189.6 762.6,190.0 763.8,189.6 765.0,190.5 766.2,190.1 767.4,190.3 768.6,189.8 769.8,190.3 771.0,190.3 772.2,190.3 773.4,190.8 774.6,190.4 775.8,190.6 777.0,191.1 778.2,191.5 779.4,191.2 780.6,191.9 781.8,191.6 783.0,192.3 784.2,192.9 785.4,192.5 786.6,193.6 787.8,193.3 789.0,194.8 790.2,194.8 791.4,195.3 792.6,196.2 793.8,196.6 795.0,197.4 796.2,197.4 797.4,198.6 798.6,199.2 799.8,200.4 801.0,200.1 802.2,201.4 803.4,202.5 804.6,203.4 805.8,203.9 807.0,205.6 808.2,206.3 809.4,207.3 810.6,209.2 811.8,209.5 813.0,210.8 814.2,212.2 815.4,213.2 816.6,214.2 817.8,215.5 819.0,216.3 820.2,217.5 821.4,218.9 822.6,219.9 823.8,221.0 825.0,221.9 826.2,223.3 827.4,224.4 828.6,226.3 829.8,227.5 831.0,229.3 832.2,231.3 833.4,232.7 834.6,234.1 835.8,236.1 837.0,236.8 838.2,238.3 839.4,239.0 840.6,238.9 841.8,233.9 843.0,219.5 844.2,212.2 845.4,206.6 846.6,202.2 847.8,198.9 849.0,196.3 850.2,194.2 851.4,192.7 852.6,191.4 853.8,190.2 855.0,189.5 856.2,188.8 857.4,188.5 858.6,188.8 859.8,187.8 861.0,187.6 862.2,187.2 863.4,187.3 864.6,187.5 865.8,187.4 867.0,186.9 868.2,186.8 869.4,187.5 870.6,187.1 871.8,187.3 873.0,186.7 874.2,187.6 875.4,187.1 876.6,187.4 877.8,187.1 879.0,187.5 880.2,188.0 881.4,188.1 882.6,187.8 883.8,188.2 885.0,188.0 886.2,188.0 887.4,188.3 888.6,188.0 889.8,188.2 891.0,188.7 892.2,188.9 893.4,188.2 894.6,189.0 895.8,189.2 897.0,188.8 898.2,188.5 899.4,189.2 900.6,188.7 901.8,189.2 903.0,188.9 904.2,189.3 905.4,188.9 906.6,189.1 907.8,189.2 909.0,189.4 910.2,188.9 911.4,189.8 912.6,189.0 913.8,189.1 915.0,189.0 916.2,188.8 917.4,189.3 918.6,189.6 919.8,189.6 921.0,189.0 922.2,189.0 923.4,189.2 924.6,189.7 925.8,189.4 927.0,189.9 928.2,189.6 929.4,189.6 930.6,189.8 931.8,189.8 933.0,189.4 934.2,189.3 935.4,189.5 936.6,189.6 937.8,189.2 939.0,189.6 940.2,189.8 941.4,189.3 942.6,189.3 943.8,189.4 945.0,189.6 946.2,190.4 947.4,189.4 948.6,189.6 949.8,189.6 951.0,190.0 952.2,189.6 953.4,190.3 954.6,190.2 955.8,190.5 957.0,191.3 958.2,191.0 959.4,191.7 960.6,191.8 961.8,192.1 963.0,192.9 964.2,192.6 965.4,194.0 966.6,194.4 967.8,194.8 969.0,194.7 970.2,196.0 971.4,196.6 972.6,197.5 973.8,197.6 975.0,199.1 976.2,199.8 977.4,199.8 978.6,200.8 979.8,201.3 981.0,203.0 982.2,203.9 983.4,204.9 984.6,205.4 985.8,206.5 987.0,207.6 988.2,208.6 989.4,210.1 990.6,210.9 991.8,211.8 993.0,213.1 994.2,213.8 995.4,215.7 996.6,216.8 997.8,217.7 999.0,219.3 1000.2,220.3 1001.4,221.0 1002.6,221.9 1003.8,223.1 1005.0,224.3 1006.2,225.7 1007.4,227.0 1008.6,228.8 1009.8,229.3 1011.0,231.3 1012.2,232.3 1013.4,233.9 1014.6,235.0 1015.8,236.3 1017.0,239.0 1018.2,240.3 1019.4,242.1 1020.6,244.7 1021.8,246.3 1023.0,247.4 1024.2,248.9 1025.4,250.9 1026.6,251.1 1027.8,252.2 1029.0,251.8 1030.2,243.0 1031.4,228.7 1032.6,215.1 1033.8,205.4 1035.0,202.0 1036.2,199.1 1037.4,195.7 1038.6,193.9 1039.8,193.1 1041.0,192.0 1042.2,191.0 1043.4,190.8 1044.6,190.1 1045.8,190.2 1047.0,189.2 1048.2,189.4 1049.4,189.0 1050.6,188.8 1051.8,188.1 1053.0,188.4 1054.2,188.3 1055.4,188.0 1056.6,187.6 1057.8,188.6 1059.0,188.4 1060.2,187.8 1061.4,188.4 1062.6,187.9 1063.8,188.1 1065.0,188.6 1066.2,188.1 1067.4,188.0 1068.6,188.0 1069.8,187.8 1071.0,187.9 1072.2,188.0 1073.4,187.9 1074.6,187.9 1075.8,188.3 1077.0,188.1 1078.2,188.7 1079.4,188.9 1080.6,188.2 1081.8,188.6 1083.0,188.6 1084.2,188.1 1085.4,188.2 1086.6,189.1 1087.8,188.7 1089.0,189.1 1090.2,188.4 1091.4,189.0 1092.6,189.4 1093.8,189.4 1095.0,188.5 1096.2,189.2 1097.4,189.1 1098.6,189.5 1099.8,188.9 1101.0,189.1 1102.2,189.8 1103.4,189.5 1104.6,189.6 1105.8,190.2 1107.0,189.6 1108.2,189.4 1109.4,189.8 1110.6,189.7 1111.8,189.7 1113.0,190.3 1114.2,190.8 1115.4,190.5 1116.6,190.8 1117.8,190.8 1119.0,191.5 1120.2,192.2 1121.4,192.7 1122.6,193.6 1123.8,194.0 1125.0,194.4 1126.2,195.6 1127.4,196.3 1128.6,196.7 1129.8,198.0 1131.0,198.9 1132.2,199.0 1133.4,200.3 1134.6,201.3 1135.8,201.9 1137.0,202.7 1138.2,203.8 1139.4,205.0 1140.6,206.1 1141.8,207.0 1143.0,207.6 1144.2,209.4 1145.4,210.6 1146.6,210.8 1147.8,212.0 1149.0,213.1 1150.2,214.9 1151.4,216.2 1152.6,216.4 1153.8,217.9 1155.0,219.0 1156.2,220.5 1157.4,222.3 1158.6,222.6 1159.8,224.0 1161.0,225.7 1162.2,227.0 1163.4,228.6 1164.6,229.7 1165.8,230.8 1167.0,232.4 1168.2,234.6 1169.4,235.8 1170.6,236.6 1171.8,238.8 1173.0,239.8 1174.2,241.8 1175.4,242.4 1176.6,244.8 1177.8,245.5 1179.0,247.4 1180.2,249.2 1181.4,250.6 1182.6,251.9 1183.8,253.5 1185.0,255.2 1186.2,256.5 1187.4,258.1 1188.6,259.4 1189.8,261.0 1191.0,261.9 1192.2,263.1 1193.4,263.5 1194.6,263.9 1195.8,264.8 1197.0,265.8 1198.2,265.8 1199.4,266.6 1200.6,267.6 1201.8,268.1 1203.0,269.5 1204.2,270.4 1205.4,270.7 1206.6,272.1 1207.8,272.5 1209.0,273.3 1210.2,274.4 1211.4,275.4 1212.6,276.4 1213.8,276.2 1215.0,277.5 1216.2,277.9 1217.4,278.1 1218.6,279.6 1219.8,279.9 1221.0,279.9 1222.2,281.4 1223.4,281.1 1224.6,281.8 1225.8,282.7 1227.0,284.1 1228.2,283.8 1229.4,285.6 1230.6,286.0 1231.8,286.3 1233.0,287.6 1234.2,288.3 1235.4,289.2 1236.6,290.2 1237.8,290.9 1239.0,292.0 1240.2,291.7 1241.4,293.1 1242.6,293.4 1243.8,294.5 1245.0,295.3 1246.2,296.0 1247.4,295.8 1248.6,296.6 1249.8,297.7 1251.0,298.1 1252.2,297.9 1253.4,298.9 1254.6,298.7 1255.8,299.0 1257.0,299.7 1258.2,299.7 1259.4,299.9 1260.6,300.2 1261.8,300.5 1263.0,300.4 1264.2,300.5 1265.4,301.5 1266.6,301.6 1267.8,301.9 1269.0,302.3 1270.2,301.9 1271.4,302.1 1272.6,302.4 1273.8,302.6 1275.0,303.3 1276.2,303.1 1277.4,303.3 1278.6,303.9 1279.8,303.7 1281.0,303.8 1282.2,304.7 1283.4,305.0 1284.6,304.8 1285.8,305.4 1287.0,305.0 1288.2,305.6 1289.4,306.1 1290.6,305.9 1291.8,306.3 1293.0,306.8 1294.2,307.0 1295.4,306.8 1296.6,307.6 1297.8,307.2 1299.0,308.4 1300.2,307.8 1301.4,308.1 1302.6,308.3 1303.8,309.4 1305.0,308.9 1306.2,309.5 1307.4,310.1 1308.6,310.3 1309.8,309.6 1311.0,310.3 1312.2,310.7 1313.4,311.0 1314.6,310.8 1315.8,311.1 1317.0,311.0 1318.2,311.2 1319.4,312.0 1320.6,311.8 1321.8,312.1 1323.0,312.5 1324.2,312.5 1325.4,312.7 1326.6,313.9 1327.8,313.6 1329.0,313.6 1330.2,314.4 1331.4,313.9 1332.6,314.4 1333.8,315.5 1335.0,315.7 1336.2,315.7 1337.4,315.4 1338.6,315.9 1339.8,315.9 1341.0,316.5 1342.2,316.6 1343.4,317.0 1344.6,318.0 1345.8,317.7 1347.0,318.1 1348.2,319.3 1349.4,319.0 1350.6,319.3 1351.8,319.4 1353.0,320.4 1354.2,320.5 1355.4,320.6 1356.6,320.9 1357.8,320.5 1359.0,320.8 1360.2,321.3 1361.4,321.9 1362.6,321.9 1363.8,321.8 1365.0,321.8 1366.2,321.4 1367.4,322.5 1368.6,321.7 1369.8,321.9 1371.0,322.7 1372.2,322.9 1373.4,323.0 1374.6,322.8 1375.8,322.6 1377.0,322.5 1378.2,323.5 1379.4,323.8 1380.6,323.1 1381.8,323.8 1383.0,323.4 1384.2,323.4 1385.4,323.7 1386.6,323.2 1387.8,323.7 1389.0,323.5 1390.2,324.1 1391.4,323.9 1392.6,324.4 1393.8,324.4 1395.0,323.8 1396.2,323.8 1397.4,324.5 1398.6,324.0 1399.8,323.5 1401.0,323.5 1402.2,324.5 1403.4,324.0 1404.6,323.4 1405.8,323.9 1407.0,323.9 1408.2,323.8 1409.4,324.3 1410.6,324.3 1411.8,323.3 1413.0,323.3 1414.2,323.5 1415.4,324.0 1416.6,323.7 1417.8,323.8 1419.0,323.5 1420.2,323.0 1421.4,323.5 1422.6,322.5 1423.8,323.0 1425.0,322.2 1426.2,322.3 1427.4,322.6 1428.6,321.8 1429.8,321.1 1431.0,321.2 1432.2,321.2 1433.4,320.3 1434.6,320.4 1435.8,319.9 1437.0,320.4 1438.2,320.0 1439.4,320.0 1440.6,319.7 1441.8,319.9 1443.0,319.3 1444.2,320.0 1445.4,319.9 1446.6,319.3 1447.8,319.1 1449.0,319.5 1450.2,318.7 1451.4,319.2 1452.6,318.6 1453.8,318.9 1455.0,318.4 1456.2,318.7 1457.3,319.0" fill="none" stroke="#111" stroke-width="3.7" stroke-linejoin="round"/>
<polyline points="1457.3,318.5 1479.6,319.4" fill="none" stroke="#9c9c9c" stroke-width="3"/>
<rect x="233.8" y="435.8" width="403.5" height="449.5" rx="8" ry="8" fill="#fff" fill-opacity="0.85" stroke="#dadada" stroke-width="3"/>
<line x1="247.2" y1="466.9" x2="334.8" y2="466.9" stroke="#a52a2a" stroke-width="6"/>
<text transform="translate(364.99,482.90) scale(0.9802,1)" font-family="'DejaVu Sans','Liberation Sans',sans-serif" font-size="41.7" fill="#222" stroke="#222" stroke-width="1.1" stroke-linejoin="round">Arima</text>
<line x1="247.2" y1="530.0" x2="334.8" y2="530.0" stroke="#ffff00" stroke-width="6"/>
<text transform="translate(365.27,545.70) scale(1.0111,1)" font-family="'DejaVu Sans','Liberation Sans',sans-serif" font-size="41.7" fill="#222" stroke="#222" stroke-width="1.1" stroke-linejoin="round">Garch</text>
<line x1="247.2" y1="593.0" x2="334.8" y2="593.0" stroke="#0000ff" stroke-width="6"/>
<text transform="translate(364.65,607.90) scale(0.9957,1)" font-family="'DejaVu Sans','Liberation Sans',sans-serif" font-size="41.7" fill="#222" stroke="#222" stroke-width="1.1" stroke-linejoin="round">DeepAR</text>
<line x1="247.2" y1="655.9" x2="334.8" y2="655.9" stroke="#800080" stroke-width="6"/>
<text transform="translate(361.88,671.40) scale(1.0119,1)" font-family="'DejaVu Sans','Liberation Sans',sans-serif" font-size="41.7" fill="#222" stroke="#222" stroke-width="1.1" stroke-linejoin="round">Deep state</text>
<line x1="247.2" y1="718.8" x2="334.8" y2="718.8" stroke="#ffa500" stroke-width="6"/>
<text transform="translate(364.99,732.60) scale(0.9844,1)" font-family="'DejaVu Sans','Liberation Sans',sans-serif" font-size="41.7" fill="#222" stroke="#222" stroke-width="1.1" stroke-linejoin="round">AT_LSTM</text>
<line x1="247.2" y1="781.6" x2="334.8" y2="781.6" stroke="#ff0000" stroke-width="6"/>
<text transform="translate(366.30,797.20) scale(1.0007,1)" font-family="'DejaVu Sans','Liberation Sans',sans-serif" font-size="41.7" fill="#222" stroke="#222" stroke-width="1.1" stroke-linejoin="round">GLTrans.</text>
<line x1="247.2" y1="844.5" x2="334.8" y2="844.5" stroke="#000000" stroke-width="6"/>
<text transform="translate(366.30,858.30) scale(0.9983,1)" font-family="'DejaVu Sans','Liberation Sans',sans-serif" font-size="41.7" fill="#222" stroke="#222" stroke-width="1.1" stroke-linejoin="round">Grand_Truth</text>
</g>
<g id="chart-b">
<path d="M284.0,1932.5v4.5 M483.7,1932.5v4.5 M683.4,1932.5v4.5 M883.1,1932.5v4.5 M1082.8,1932.5v4.5 M1282.5,1932.5v4.5 M1482.2,1932.5v4.5 M222.5,1216.6h-4.5 M222.5,1342.0h-4.5 M222.5,1468.0h-4.5 M222.5,1593.0h-4.5 M222.5,1717.0h-4.5 M222.5,1842.0h-4.5" stroke="#9a9a9a" stroke-width="2.2" fill="none"/>
<rect x="224.0" y="1182.0" width="1318.0" height="749.0" fill="none" stroke="#b8b8b8" stroke-width="4"/>
<polyline points="862.0,1218.0 863.5,1218.3 865.0,1218.6 866.5,1218.9 868.0,1219.3 869.5,1219.6 871.0,1220.0 872.5,1220.4 874.0,1220.9 875.5,1221.3 877.0,1221.8 878.5,1222.3 880.0,1222.8 881.5,1223.3 883.0,1223.9 884.5,1224.4 886.0,1225.0 887.5,1225.7 889.0,1226.3 890.5,1227.0 892.0,1227.6 893.5,1228.4 895.0,1229.1 896.5,1229.8 898.0,1230.6 899.5,1231.4 901.0,1232.2 902.5,1233.0 904.0,1233.9 905.5,1234.7 907.0,1235.6 908.5,1236.6 910.0,1237.5 911.5,1238.5 913.0,1239.4 914.5,1240.4 916.0,1241.5 917.5,1242.5 919.0,1243.6 920.5,1244.7 922.0,1245.8 923.5,1246.9 925.0,1248.0 926.5,1249.2 928.0,1250.4 929.5,1251.6 931.0,1252.9 932.5,1254.1 934.0,1255.4 935.5,1256.7 937.0,1258.0 938.5,1259.4 940.0,1260.7 941.5,1262.1 943.0,1263.5 944.5,1265.0 946.0,1266.4 947.5,1267.9 949.0,1269.4 950.5,1270.9 952.0,1272.5 953.5,1274.0 955.0,1275.6 956.5,1277.2 958.0,1278.8 959.5,1280.5 961.0,1282.1 962.5,1283.8 964.0,1285.5 965.5,1287.3 967.0,1289.0 968.5,1290.8 970.0,1292.6 971.5,1294.4 973.0,1296.3 974.5,1298.1 976.0,1300.0 977.5,1301.9 979.0,1303.8 980.5,1305.8 982.0,1307.7 983.5,1309.7 985.0,1311.7 986.5,1313.8 988.0,1315.8 989.5,1317.9 991.0,1320.0 992.5,1322.1 994.0,1324.2 995.5,1326.4 997.0,1328.6 998.5,1330.8 1000.0,1333.0 1001.5,1335.3 1003.0,1337.5 1004.5,1339.8 1006.0,1342.1 1007.5,1344.4 1009.0,1346.8 1010.5,1349.2 1012.0,1351.6 1013.5,1354.0 1015.0,1356.4 1016.5,1358.9 1018.0,1361.4 1019.5,1363.9 1021.0,1366.4 1022.5,1368.9 1024.0,1371.5 1025.5,1374.1 1027.0,1376.7 1028.5,1379.3 1030.0,1381.9 1031.5,1384.6 1033.0,1387.3 1034.5,1390.0 1036.0,1392.7 1037.5,1395.5 1039.0,1398.3 1040.5,1401.1 1042.0,1403.9 1043.5,1406.7 1045.0,1409.6 1046.5,1412.5 1048.0,1415.4 1049.5,1418.3 1051.0,1421.2 1052.5,1424.2 1054.0,1427.2 1055.5,1430.2 1057.0,1433.2 1058.5,1436.3 1060.0,1439.3 1061.5,1442.4 1063.0,1445.5 1064.5,1448.7 1066.0,1451.8 1067.5,1455.0 1069.0,1458.2 1070.5,1461.4 1072.0,1464.6 1073.5,1467.9 1075.0,1471.2 1076.5,1474.5 1078.0,1477.8 1079.5,1481.2 1081.0,1484.5 1082.5,1487.9 1084.0,1491.3 1085.5,1494.7 1087.0,1498.2 1088.5,1501.7 1090.0,1505.1 1091.5,1508.7 1093.0,1512.2 1094.5,1515.7 1096.0,1519.3 1097.5,1522.9 1099.0,1526.5 1100.5,1530.2 1102.0,1533.8 1103.5,1537.5 1105.0,1541.2 1106.5,1544.9 1108.0,1548.7 1109.5,1552.5 1111.0,1556.2 1112.5,1560.1 1114.0,1563.9 1115.5,1567.7 1117.0,1571.6 1118.5,1575.5 1120.0,1579.4 1121.5,1583.4 1123.0,1587.3 1124.5,1591.3 1126.0,1595.3 1127.5,1599.3 1129.0,1603.4 1130.5,1607.4 1132.0,1611.5 1133.5,1615.6 1135.0,1619.8 1136.5,1623.9 1138.0,1628.1 1139.5,1632.3 1141.0,1636.5 1142.5,1640.7 1144.0,1645.0 1145.5,1649.3 1147.0,1653.6 1148.5,1657.9 1150.0,1662.3 1151.5,1666.7 1153.0,1671.0 1154.5,1675.5 1156.0,1679.9 1157.5,1684.4 1159.0,1688.8 1160.5,1693.4 1162.0,1697.9 1163.5,1702.4 1165.0,1707.0 1166.5,1711.6 1168.0,1716.2 1169.5,1720.9 1171.0,1725.5 1172.5,1730.2 1174.0,1734.9 1175.5,1739.7 1177.0,1744.4 1178.5,1749.2 1180.0,1754.0 1181.5,1758.8 1183.0,1763.7 1184.5,1768.5 1186.0,1773.4 1187.5,1778.3 1189.0,1783.3 1190.5,1788.2 1192.0,1793.2 1193.5,1798.2 1195.0,1803.3 1196.5,1808.3 1198.0,1813.4 1199.5,1818.5 1201.0,1823.7 1202.5,1828.8 1204.0,1834.0 1205.5,1839.2 1207.0,1844.4 1208.5,1849.7 1210.0,1855.0 1211.5,1860.3 1213.0,1865.6 1214.5,1870.9 1216.0,1876.3 1217.5,1881.7 1219.0,1887.1 1220.5,1892.6 1221.7,1897.0" fill="none" stroke="#a52a2a" stroke-width="2.6" stroke-opacity="0.7" stroke-linejoin="round" stroke-linecap="butt"/>
<polyline points="862.0,1217.0 863.5,1216.8 865.0,1216.7 866.5,1216.6 868.0,1216.4 869.5,1216.3 871.0,1216.2 872.5,1216.1 874.0,1216.0 875.5,1215.8 877.0,1215.7 878.5,1215.7 880.0,1215.6 881.5,1215.5 883.0,1215.4 884.5,1215.3 886.0,1215.3 887.5,1215.2 889.0,1215.2 890.5,1215.1 892.0,1215.1 893.5,1215.1 895.0,1215.0 896.5,1215.0 898.0,1215.0 899.5,1215.0 901.0,1215.0 902.5,1215.0 904.0,1215.0 905.5,1215.0 907.0,1215.1 908.5,1215.1 910.0,1215.2 911.5,1215.2 913.0,1215.3 914.5,1215.3 916.0,1215.4 917.5,1215.4 919.0,1215.5 920.5,1215.6 922.0,1215.7 923.5,1215.8 925.0,1215.9 926.5,1216.0 928.0,1216.1 929.5,1216.2 931.0,1216.3 932.5,1216.4 934.0,1216.5 935.5,1216.6 937.0,1216.7 938.5,1216.9 940.0,1217.0 941.5,1217.1 943.0,1217.3 944.5,1217.5 946.0,1217.7 947.5,1218.0 949.0,1218.3 950.5,1218.6 952.0,1218.9 953.5,1219.2 955.0,1219.6 956.5,1220.0 958.0,1220.4 959.5,1220.9 961.0,1221.3 962.5,1221.9 964.0,1222.6 965.5,1223.3 967.0,1224.1 968.5,1225.0 970.0,1226.0 971.5,1227.0 973.0,1228.0 974.5,1229.1 976.0,1230.1 977.5,1231.2 979.0,1232.3 980.5,1233.4 982.0,1234.5 983.5,1235.6 985.0,1236.8 986.5,1238.0 988.0,1239.3 989.5,1240.6 991.0,1241.9 992.5,1243.3 994.0,1244.7 995.5,1246.1 997.0,1247.5 998.5,1248.9 1000.0,1250.3 1001.5,1251.7 1003.0,1253.2 1004.5,1254.6 1006.0,1256.0 1007.5,1257.4 1009.0,1258.8 1010.5,1260.3 1012.0,1261.7 1013.5,1263.2 1015.0,1264.6 1016.5,1266.1 1018.0,1267.6 1019.5,1269.0 1021.0,1270.5 1022.5,1272.0 1024.0,1273.5 1025.5,1275.1 1027.0,1276.6 1028.5,1278.1 1030.0,1279.6 1031.5,1281.2 1033.0,1282.7 1034.5,1284.3 1036.0,1285.8 1037.5,1287.4 1039.0,1289.0 1040.5,1290.5 1042.0,1292.1 1043.5,1293.6 1045.0,1295.2 1046.5,1296.7 1048.0,1298.3 1049.5,1299.9 1051.0,1301.6 1052.5,1303.3 1054.0,1305.1 1055.5,1307.0 1057.0,1308.9 1058.5,1310.8 1060.0,1312.7 1061.5,1314.7 1063.0,1316.7 1064.5,1318.7 1066.0,1320.7 1067.5,1322.8 1069.0,1324.9 1070.5,1327.0 1072.0,1329.2 1073.5,1331.4 1075.0,1333.6 1076.5,1335.8 1078.0,1338.0 1079.5,1340.3 1081.0,1342.6 1082.5,1345.0 1084.0,1347.3 1085.5,1349.7 1087.0,1352.1 1088.5,1354.5 1090.0,1357.0 1091.5,1359.4 1093.0,1361.9 1094.5,1364.5 1096.0,1367.0 1097.5,1369.6 1099.0,1372.2 1100.5,1374.8 1102.0,1377.4 1103.5,1380.1 1105.0,1382.8 1106.5,1385.5 1108.0,1388.2 1109.5,1391.0 1111.0,1393.8 1112.5,1396.6 1114.0,1399.4 1115.5,1402.3 1117.0,1405.2 1118.5,1408.1 1120.0,1411.1 1121.5,1414.1 1123.0,1417.2 1124.5,1420.3 1126.0,1423.5 1127.5,1426.6 1129.0,1429.9 1130.5,1433.1 1132.0,1436.4 1133.5,1439.7 1135.0,1443.1 1136.5,1446.5 1138.0,1449.9 1139.5,1453.4 1141.0,1456.8 1142.5,1460.4 1144.0,1463.9 1145.5,1467.5 1147.0,1471.1 1148.5,1474.7 1150.0,1478.4 1151.5,1482.1 1153.0,1485.8 1154.5,1489.5 1156.0,1493.3 1157.5,1497.1 1159.0,1500.9 1160.5,1504.7 1162.0,1508.6 1163.5,1512.5 1165.0,1516.4 1166.5,1520.3 1168.0,1524.2 1169.5,1528.2 1171.0,1532.2 1172.5,1536.1 1174.0,1540.1 1175.5,1544.2 1177.0,1548.2 1178.5,1552.2 1180.0,1556.3 1181.5,1560.4 1183.0,1564.5 1184.5,1568.6 1186.0,1572.7 1187.5,1576.8 1189.0,1580.9 1190.5,1585.1 1192.0,1589.2 1193.5,1593.3 1195.0,1597.5 1196.5,1601.7 1198.0,1605.9 1199.5,1610.2 1201.0,1614.5 1202.5,1619.0 1204.0,1623.5 1205.5,1628.0 1207.0,1632.7 1208.5,1637.4 1210.0,1642.2 1211.5,1647.0 1213.0,1652.0 1214.5,1657.1 1216.0,1662.3 1217.5,1667.7 1219.0,1673.2 1220.5,1678.7 1221.3,1681.7" fill="none" stroke="#ffff00" stroke-width="3.0" stroke-opacity="1.0" stroke-linejoin="round" stroke-linecap="butt"/>
<polyline points="862.0,1278.0 863.5,1278.0 865.0,1278.0 866.5,1278.0 868.0,1278.0 869.5,1278.0 871.0,1278.0 872.5,1278.0 874.0,1278.0 875.5,1278.0 877.0,1278.0 878.5,1278.0 880.0,1278.0 881.5,1278.0 883.0,1278.0 884.5,1278.0 886.0,1278.0 887.5,1278.0 889.0,1278.0 890.5,1278.0 892.0,1278.0 893.5,1278.0 895.0,1278.0 896.5,1278.0 898.0,1278.0 899.5,1278.0 901.0,1278.0 902.5,1278.0 904.0,1278.0 905.5,1278.0 907.0,1278.0 908.5,1278.0 910.0,1278.0 911.5,1278.0 913.0,1278.0 914.5,1278.0 916.0,1278.0 917.5,1278.0 919.0,1278.0 920.5,1278.0 922.0,1278.0 923.5,1278.0 925.0,1278.0 926.5,1278.0 928.0,1278.0 929.5,1278.0 931.0,1278.0 932.5,1278.0 934.0,1278.0 935.5,1278.0 937.0,1278.0 938.5,1278.0 940.0,1278.0 941.5,1278.0 943.0,1278.0 944.5,1278.0 946.0,1278.0 947.5,1278.0 949.0,1278.0 950.5,1278.0 952.0,1278.0 953.5,1278.0 955.0,1278.0 956.5,1278.0 958.0,1278.0 959.5,1278.0 961.0,1278.0 962.5,1278.0 964.0,1278.0 965.5,1278.0 967.0,1278.0 968.5,1278.0 970.0,1278.0 971.5,1278.0 973.0,1278.0 974.5,1278.0 976.0,1278.0 977.5,1278.0 979.0,1278.0 980.5,1278.0 982.0,1278.0 983.5,1278.0 985.0,1278.0 986.5,1278.0 988.0,1278.0 989.5,1278.0 991.0,1278.0 992.5,1278.0 994.0,1278.0 995.5,1278.0 997.0,1278.0 998.5,1278.1 1000.0,1278.3 1001.5,1278.4 1003.0,1278.6 1004.5,1278.9 1006.0,1279.1 1007.5,1279.4 1009.0,1279.7 1010.5,1280.0 1012.0,1280.4 1013.5,1280.7 1015.0,1281.1 1016.5,1281.4 1018.0,1281.8 1019.5,1282.1 1021.0,1282.6 1022.5,1283.1 1024.0,1283.8 1025.5,1284.5 1027.0,1285.3 1028.5,1286.1 1030.0,1286.9 1031.5,1287.7 1033.0,1288.5 1034.5,1289.3 1036.0,1290.0 1037.5,1290.6 1039.0,1291.1 1040.5,1291.6 1042.0,1291.9 1043.5,1292.0 1045.0,1291.5 1046.5,1289.5 1048.0,1286.5 1049.5,1283.3 1051.0,1280.9 1052.5,1279.8 1054.0,1279.2 1055.5,1278.6 1057.0,1278.1 1058.5,1277.7 1060.0,1277.4 1061.5,1277.2 1063.0,1277.0 1064.5,1277.0 1066.0,1277.0 1067.5,1277.0 1069.0,1277.0 1070.5,1277.0 1072.0,1277.0 1073.5,1277.0 1075.0,1277.0 1076.5,1277.0 1078.0,1277.0 1079.5,1277.0 1081.0,1277.1 1082.5,1277.1 1084.0,1277.1 1085.5,1277.1 1087.0,1277.1 1088.5,1277.1 1090.0,1277.1 1091.5,1277.2 1093.0,1277.2 1094.5,1277.2 1096.0,1277.2 1097.5,1277.2 1099.0,1277.3 1100.5,1277.3 1102.0,1277.3 1103.5,1277.3 1105.0,1277.4 1106.5,1277.4 1108.0,1277.4 1109.5,1277.4 1111.0,1277.5 1112.5,1277.5 1114.0,1277.5 1115.5,1277.6 1117.0,1277.6 1118.5,1277.6 1120.0,1277.7 1121.5,1277.7 1123.0,1277.8 1124.5,1277.8 1126.0,1277.8 1127.5,1277.9 1129.0,1277.9 1130.5,1278.0 1132.0,1278.0 1133.5,1278.1 1135.0,1278.1 1136.5,1278.2 1138.0,1278.2 1139.5,1278.3 1141.0,1278.3 1142.5,1278.4 1144.0,1278.4 1145.5,1278.5 1147.0,1278.6 1148.5,1278.6 1150.0,1278.7 1151.5,1278.8 1153.0,1278.8 1154.5,1278.9 1156.0,1279.0 1157.5,1279.0 1159.0,1279.1 1160.5,1279.2 1162.0,1279.2 1163.5,1279.3 1165.0,1279.4 1166.5,1279.5 1168.0,1279.6 1169.5,1279.6 1171.0,1279.7 1172.5,1279.8 1174.0,1279.9 1175.5,1280.0 1177.0,1280.1 1178.5,1280.2 1180.0,1280.5 1181.5,1280.7 1183.0,1281.0 1184.5,1281.4 1186.0,1281.8 1187.5,1282.2 1189.0,1282.7 1190.5,1283.1 1192.0,1283.6 1193.5,1284.0 1195.0,1284.5 1196.5,1285.0 1198.0,1285.4 1199.5,1285.9 1201.0,1286.3 1202.5,1286.7 1204.0,1287.1 1205.5,1287.5 1207.0,1288.0 1208.5,1288.4 1210.0,1288.9 1211.5,1289.3 1213.0,1289.8 1214.5,1290.3 1216.0,1290.7 1217.5,1291.2 1219.0,1291.7 1220.0,1292.0" fill="none" stroke="#0000ff" stroke-width="2.8" stroke-opacity="0.72" stroke-linejoin="round" stroke-linecap="butt"/>
<polyline points="862.0,1268.0 863.5,1268.0 865.0,1268.0 866.5,1268.0 868.0,1268.0 869.5,1268.0 871.0,1268.0 872.5,1268.0 874.0,1268.0 875.5,1268.0 877.0,1268.0 878.5,1268.0 880.0,1268.0 881.5,1268.0 883.0,1268.0 884.5,1268.0 886.0,1268.0 887.5,1268.0 889.0,1268.0 890.5,1268.0 892.0,1268.0 893.5,1268.0 895.0,1268.0 896.5,1268.0 898.0,1268.0 899.5,1268.0 901.0,1268.0 902.5,1268.0 904.0,1268.0 905.5,1268.0 907.0,1268.0 908.5,1268.0 910.0,1268.0 911.5,1268.0 913.0,1268.0 914.5,1268.0 916.0,1268.0 917.5,1268.0 919.0,1268.0 920.5,1268.0 922.0,1268.0 923.5,1268.0 925.0,1268.0 926.5,1268.0 928.0,1268.0 929.5,1268.0 931.0,1268.0 932.5,1268.0 934.0,1268.0 935.5,1268.0 937.0,1268.0 938.5,1268.0 940.0,1268.0 941.5,1268.0 943.0,1268.0 944.5,1268.0 946.0,1268.0 947.5,1268.0 949.0,1268.0 950.5,1268.0 952.0,1268.0 953.5,1268.0 955.0,1268.0 956.5,1268.0 958.0,1268.0 959.5,1268.0 961.0,1268.0 962.5,1268.0 964.0,1268.0 965.5,1268.0 967.0,1268.0 968.5,1268.0 970.0,1268.0 971.5,1268.0 973.0,1268.0 974.5,1268.0 976.0,1268.0 977.5,1268.0 979.0,1268.0 980.5,1268.0 982.0,1268.0 983.5,1268.0 985.0,1268.0 986.5,1268.0 988.0,1268.0 989.5,1268.0 991.0,1268.0 992.5,1268.1 994.0,1268.2 995.5,1268.3 997.0,1268.5 998.5,1268.8 1000.0,1269.0 1001.5,1269.3 1003.0,1269.7 1004.5,1270.0 1006.0,1270.4 1007.5,1270.8 1009.0,1271.2 1010.5,1271.6 1012.0,1272.0 1013.5,1272.5 1015.0,1272.9 1016.5,1273.3 1018.0,1273.7 1019.5,1274.1 1021.0,1274.6 1022.5,1275.3 1024.0,1275.9 1025.5,1276.7 1027.0,1277.4 1028.5,1278.2 1030.0,1279.0 1031.5,1279.7 1033.0,1280.3 1034.5,1280.9 1036.0,1281.4 1037.5,1281.8 1039.0,1282.0 1040.5,1281.9 1042.0,1280.3 1043.5,1277.6 1045.0,1274.5 1046.5,1271.7 1048.0,1270.0 1049.5,1269.1 1051.0,1268.3 1052.5,1267.7 1054.0,1267.2 1055.5,1267.0 1057.0,1267.0 1058.5,1267.0 1060.0,1267.0 1061.5,1267.0 1063.0,1267.0 1064.5,1267.0 1066.0,1267.0 1067.5,1267.0 1069.0,1267.0 1070.5,1267.0 1072.0,1267.0 1073.5,1267.0 1075.0,1267.0 1076.5,1267.1 1078.0,1267.1 1079.5,1267.1 1081.0,1267.1 1082.5,1267.1 1084.0,1267.1 1085.5,1267.1 1087.0,1267.1 1088.5,1267.1 1090.0,1267.1 1091.5,1267.2 1093.0,1267.2 1094.5,1267.2 1096.0,1267.2 1097.5,1267.2 1099.0,1267.2 1100.5,1267.3 1102.0,1267.3 1103.5,1267.3 1105.0,1267.3 1106.5,1267.3 1108.0,1267.4 1109.5,1267.4 1111.0,1267.4 1112.5,1267.4 1114.0,1267.5 1115.5,1267.5 1117.0,1267.5 1118.5,1267.5 1120.0,1267.6 1121.5,1267.6 1123.0,1267.6 1124.5,1267.7 1126.0,1267.7 1127.5,1267.7 1129.0,1267.8 1130.5,1267.8 1132.0,1267.8 1133.5,1267.9 1135.0,1267.9 1136.5,1267.9 1138.0,1268.0 1139.5,1268.0 1141.0,1268.0 1142.5,1268.1 1144.0,1268.1 1145.5,1268.2 1147.0,1268.2 1148.5,1268.3 1150.0,1268.3 1151.5,1268.4 1153.0,1268.4 1154.5,1268.4 1156.0,1268.5 1157.5,1268.5 1159.0,1268.6 1160.5,1268.6 1162.0,1268.7 1163.5,1268.8 1165.0,1268.8 1166.5,1268.9 1168.0,1268.9 1169.5,1269.0 1171.0,1269.1 1172.5,1269.2 1174.0,1269.3 1175.5,1269.5 1177.0,1269.8 1178.5,1270.0 1180.0,1270.4 1181.5,1270.7 1183.0,1271.1 1184.5,1271.4 1186.0,1271.9 1187.5,1272.3 1189.0,1272.7 1190.5,1273.2 1192.0,1273.6 1193.5,1274.1 1195.0,1274.5 1196.5,1275.0 1198.0,1275.4 1199.5,1275.9 1201.0,1276.3 1202.5,1276.7 1204.0,1277.2 1205.5,1277.7 1207.0,1278.2 1208.5,1278.7 1210.0,1279.2 1211.5,1279.8 1213.0,1280.3 1214.5,1280.9 1216.0,1281.4 1217.5,1282.0 1219.0,1282.6 1220.0,1283.0" fill="none" stroke="#800080" stroke-width="2.8" stroke-opacity="0.72" stroke-linejoin="round" stroke-linecap="butt"/>
<polyline points="862.0,1243.0 862.5,1243.0 863.0,1240.5 863.5,1242.6 864.0,1243.2 864.5,1239.8 865.0,1242.8 865.5,1245.2 866.0,1241.4 866.5,1242.3 867.0,1240.5 867.5,1242.7 868.0,1247.0 868.5,1243.2 869.0,1244.1 869.5,1241.1 870.0,1245.7 870.5,1244.7 871.0,1240.1 871.5,1245.7 872.0,1243.2 872.5,1243.3 873.0,1243.5 873.5,1242.4 874.0,1243.5 874.5,1243.2 875.0,1242.4 875.5,1243.6 876.0,1241.1 876.5,1242.9 877.0,1241.0 877.5,1246.9 878.0,1246.6 878.5,1245.1 879.0,1239.7 879.5,1245.2 880.0,1239.5 880.5,1239.4 881.0,1242.4 881.5,1243.9 882.0,1243.3 882.5,1246.4 883.0,1246.1 883.5,1243.0 884.0,1241.4 884.5,1241.5 885.0,1244.7 885.5,1241.0 886.0,1240.0 886.5,1244.1 887.0,1246.7 887.5,1243.7 888.0,1245.9 888.5,1240.3 889.0,1241.7 889.5,1239.1 890.0,1241.7 890.5,1246.5 891.0,1242.5 891.5,1239.7 892.0,1246.9 892.5,1242.7 893.0,1246.5 893.5,1245.0 894.0,1246.7 894.5,1244.0 895.0,1241.6 895.5,1243.9 896.0,1241.0 896.5,1245.4 897.0,1244.5 897.5,1239.8 898.0,1245.5 898.5,1246.4 899.0,1245.5 899.5,1241.8 900.0,1243.2 900.5,1241.4 901.0,1244.5 901.5,1241.1 902.0,1246.1 902.5,1243.2 903.0,1246.0 903.5,1242.2 904.0,1246.6 904.5,1243.5 905.0,1246.2 905.5,1240.6 906.0,1240.3 906.5,1241.3 907.0,1240.7 907.5,1240.9 908.0,1241.0 908.5,1242.9 909.0,1246.5 909.5,1243.7 910.0,1241.0 910.5,1245.1 911.0,1245.6 911.5,1239.5 912.0,1244.0 912.5,1243.6 913.0,1242.7 913.5,1244.0 914.0,1243.2 914.5,1245.7 915.0,1241.5 915.5,1242.1 916.0,1239.8 916.5,1244.9 917.0,1239.2 917.5,1240.4 918.0,1243.4 918.5,1244.6 919.0,1246.5 919.5,1241.1 920.0,1245.6 920.5,1239.9 921.0,1239.8 921.5,1246.9 922.0,1243.4 922.5,1240.9 923.0,1240.3 923.5,1243.8 924.0,1243.5 924.5,1241.9 925.0,1240.0 925.5,1246.5 926.0,1240.1 926.5,1246.9 927.0,1243.0 927.5,1239.6 928.0,1242.3 928.5,1241.2 929.0,1244.3 929.5,1240.7 930.0,1245.7 930.5,1239.8 931.0,1239.9 931.5,1244.8 932.0,1241.4 932.5,1240.9 933.0,1239.3 933.5,1239.3 934.0,1244.1 934.5,1240.3 935.0,1246.5 935.5,1245.2 936.0,1245.3 936.5,1239.9 937.0,1246.3 937.5,1240.2 938.0,1246.5 938.5,1246.3 939.0,1242.6 939.5,1239.5 940.0,1243.9 940.5,1243.0 941.0,1243.0 941.5,1246.0 942.0,1242.7 942.5,1246.0 943.0,1240.6 943.5,1239.5 944.0,1241.6 944.5,1244.4 945.0,1245.4 945.5,1243.2 946.0,1246.8 946.5,1239.6 947.0,1246.9 947.5,1244.3 948.0,1240.8 948.5,1240.8 949.0,1239.1 949.5,1241.9 950.0,1244.0 950.5,1242.0 951.0,1242.7 951.5,1244.9 952.0,1241.4 952.5,1243.3 953.0,1242.2 953.5,1246.1 954.0,1244.1 954.5,1246.2 955.0,1244.5 955.5,1241.3 956.0,1244.2 956.5,1245.6 957.0,1242.7 957.5,1241.6 958.0,1243.8 958.5,1239.4 959.0,1241.6 959.5,1243.5 960.0,1245.6 960.5,1243.5 961.0,1240.1 961.5,1240.5 962.0,1245.6 962.5,1246.0 963.0,1240.3 963.5,1243.1 964.0,1240.9 964.5,1245.0 965.0,1242.0 965.5,1239.3 966.0,1245.3 966.5,1240.1 967.0,1240.4 967.5,1244.3 968.0,1240.3 968.5,1240.2 969.0,1246.9 969.5,1241.7 970.0,1243.7 970.5,1240.4 971.0,1240.1 971.5,1246.8 972.0,1244.4 972.5,1243.3 973.0,1243.0 973.5,1243.0 974.0,1241.4 974.5,1239.9 975.0,1240.2 975.5,1241.7 976.0,1241.9 976.5,1247.2 977.0,1246.3 977.5,1244.2 978.0,1245.6 978.5,1243.5 979.0,1246.5 979.5,1243.1 980.0,1242.4 980.5,1241.0 981.0,1240.2 981.5,1244.8 982.0,1243.7 982.5,1241.2 983.0,1243.8 983.5,1244.1 984.0,1245.2 984.5,1243.0 985.0,1241.7 985.5,1244.1 986.0,1244.4 986.5,1244.9 987.0,1245.5 987.5,1246.2 988.0,1246.9 988.5,1247.7 989.0,1248.5 989.5,1249.3 990.0,1250.0 990.5,1250.7 991.0,1251.5 991.5,1252.2 992.0,1253.0 992.5,1253.9 993.0,1254.7 993.5,1255.6 994.0,1256.5 994.5,1257.4 995.0,1258.3 995.5,1259.2 996.0,1260.2 996.5,1261.1 997.0,1262.1 997.5,1263.1 998.0,1264.0 998.5,1265.0 999.0,1266.0 999.5,1267.0 1000.0,1268.0 1000.5,1269.0 1001.0,1270.1 1001.5,1271.2 1002.0,1272.4 1002.5,1273.6 1003.0,1274.9 1003.5,1276.1 1004.0,1277.4 1004.5,1278.7 1005.0,1279.9 1005.5,1281.2 1006.0,1282.4 1006.5,1283.5 1007.0,1284.7 1007.5,1285.8 1008.0,1286.8 1008.5,1287.7 1009.0,1288.6 1009.5,1289.3 1010.0,1290.0 1010.5,1290.6 1011.0,1291.2 1011.5,1291.7 1012.0,1292.3 1012.5,1292.8 1013.0,1293.3 1013.5,1293.7 1014.0,1294.2 1014.5,1294.6 1015.0,1295.0 1015.5,1295.4 1016.0,1295.8 1016.5,1296.1 1017.0,1296.5 1017.5,1296.8 1018.0,1297.2 1018.5,1297.5 1019.0,1297.8 1019.5,1298.2 1020.0,1298.5 1020.5,1298.8 1021.0,1299.1 1021.5,1299.4 1022.0,1299.7 1022.5,1300.0 1023.0,1300.4 1023.5,1300.7 1024.0,1301.0 1024.5,1301.4 1025.0,1301.7 1025.5,1302.1 1026.0,1302.4 1026.5,1302.8 1027.0,1303.2 1027.5,1303.6 1028.0,1304.1 1028.5,1304.5 1029.0,1305.0 1029.5,1305.5 1030.0,1306.0 1030.5,1306.5 1031.0,1307.1 1031.5,1307.6 1032.0,1308.2 1032.5,1308.7 1033.0,1309.3 1033.5,1309.9 1034.0,1310.5 1034.5,1311.1 1035.0,1311.8 1035.5,1312.5 1036.0,1313.2 1036.5,1313.9 1037.0,1314.7 1037.5,1315.5 1038.0,1316.3 1038.5,1317.2 1039.0,1318.1 1039.5,1319.0 1040.0,1320.0 1040.5,1321.2 1041.0,1322.7 1041.5,1324.5 1042.0,1326.5 1042.5,1328.7 1043.0,1331.0 1043.5,1333.4 1044.0,1335.8 1044.5,1338.1 1045.0,1340.4 1045.5,1342.4 1046.0,1344.3 1046.5,1345.9 1047.0,1347.2 1047.5,1348.2 1048.0,1348.7 1048.5,1348.5 1049.0,1345.8 1049.5,1341.1 1050.0,1335.4 1050.5,1330.0 1051.0,1324.5 1051.5,1318.3 1052.0,1311.9 1052.5,1305.6 1053.0,1300.0 1053.5,1294.9 1054.0,1290.0 1054.5,1285.3 1055.0,1280.8 1055.5,1276.5 1056.0,1272.4 1056.5,1268.6 1057.0,1265.0 1057.5,1261.6 1058.0,1258.1 1058.5,1254.9 1059.0,1252.0 1059.5,1249.7 1060.0,1248.0 1060.5,1246.8 1061.0,1245.6 1061.5,1244.5 1062.0,1240.2 1062.5,1245.5 1063.0,1243.5 1063.5,1239.9 1064.0,1240.4 1064.5,1241.8 1065.0,1242.9 1065.5,1241.0 1066.0,1235.4 1066.5,1236.1 1067.0,1235.3 1067.5,1240.5 1068.0,1241.1 1068.5,1243.0 1069.0,1237.6 1069.5,1236.5 1070.0,1242.9 1070.5,1237.5 1071.0,1238.0 1071.5,1236.6 1072.0,1236.0 1072.5,1241.1 1073.0,1241.6 1073.5,1241.0 1074.0,1236.2 1074.5,1240.4 1075.0,1239.1 1075.5,1237.3 1076.0,1242.9 1076.5,1235.8 1077.0,1242.3 1077.5,1236.0 1078.0,1241.1 1078.5,1235.8 1079.0,1241.8 1079.5,1236.0 1080.0,1243.5 1080.5,1242.1 1081.0,1239.6 1081.5,1238.2 1082.0,1236.2 1082.5,1238.0 1083.0,1237.3 1083.5,1241.3 1084.0,1238.3 1084.5,1239.9 1085.0,1242.4 1085.5,1238.2 1086.0,1244.0 1086.5,1237.8 1087.0,1236.8 1087.5,1238.5 1088.0,1243.8 1088.5,1237.6 1089.0,1239.8 1089.5,1244.6 1090.0,1237.1 1090.5,1239.7 1091.0,1244.6 1091.5,1245.3 1092.0,1244.0 1092.5,1245.3 1093.0,1243.8 1093.5,1240.1 1094.0,1244.1 1094.5,1243.2 1095.0,1243.7 1095.5,1238.7 1096.0,1241.6 1096.5,1243.0 1097.0,1238.7 1097.5,1238.3 1098.0,1243.8 1098.5,1246.0 1099.0,1238.5 1099.5,1241.3 1100.0,1243.6 1100.5,1241.2 1101.0,1240.4 1101.5,1243.5 1102.0,1243.6 1102.5,1245.8 1103.0,1242.2 1103.5,1246.7 1104.0,1244.0 1104.5,1240.8 1105.0,1243.7 1105.5,1242.4 1106.0,1245.9 1106.5,1246.4 1107.0,1242.7 1107.5,1239.9 1108.0,1246.9 1108.5,1240.6 1109.0,1247.8 1109.5,1243.1 1110.0,1243.2 1110.5,1242.2 1111.0,1243.1 1111.5,1247.6 1112.0,1243.7 1112.5,1246.0 1113.0,1245.9 1113.5,1244.8 1114.0,1248.2 1114.5,1244.6 1115.0,1246.4 1115.5,1245.8 1116.0,1248.7 1116.5,1242.7 1117.0,1241.2 1117.5,1247.1 1118.0,1241.2 1118.5,1246.3 1119.0,1244.6 1119.5,1248.9 1120.0,1248.3 1120.5,1244.7 1121.0,1244.8 1121.5,1246.0 1122.0,1244.8 1122.5,1246.5 1123.0,1249.5 1123.5,1244.7 1124.0,1247.6 1124.5,1245.4 1125.0,1245.4 1125.5,1244.1 1126.0,1242.5 1126.5,1247.0 1127.0,1247.5 1127.5,1244.3 1128.0,1250.0 1128.5,1244.2 1129.0,1246.1 1129.5,1248.4 1130.0,1247.3 1130.5,1249.9 1131.0,1248.6 1131.5,1246.9 1132.0,1249.7 1132.5,1247.0 1133.0,1250.6 1133.5,1244.3 1134.0,1247.7 1134.5,1248.0 1135.0,1248.2 1135.5,1251.5 1136.0,1249.1 1136.5,1248.7 1137.0,1246.5 1137.5,1247.8 1138.0,1248.0 1138.5,1248.3 1139.0,1245.5 1139.5,1245.6 1140.0,1251.8 1140.5,1247.1 1141.0,1245.9 1141.5,1251.5 1142.0,1252.6 1142.5,1252.2 1143.0,1246.9 1143.5,1246.1 1144.0,1248.6 1144.5,1247.3 1145.0,1249.9 1145.5,1245.9 1146.0,1246.4 1146.5,1249.6 1147.0,1252.0 1147.5,1249.5 1148.0,1253.3 1148.5,1251.3 1149.0,1250.4 1149.5,1251.9 1150.0,1247.5 1150.5,1247.6 1151.0,1249.2 1151.5,1250.4 1152.0,1247.0 1152.5,1253.2 1153.0,1251.5 1153.5,1254.2 1154.0,1252.3 1154.5,1249.0 1155.0,1250.3 1155.5,1248.7 1156.0,1251.6 1156.5,1246.6 1157.0,1248.1 1157.5,1247.7 1158.0,1248.1 1158.5,1250.0 1159.0,1248.2 1159.5,1250.2 1160.0,1252.9 1160.5,1249.1 1161.0,1254.3 1161.5,1249.1 1162.0,1253.5 1162.5,1250.0 1163.0,1247.5 1163.5,1248.8 1164.0,1249.7 1164.5,1249.4 1165.0,1255.0 1165.5,1253.7 1166.0,1251.3 1166.5,1252.6 1167.0,1251.3 1167.5,1248.7 1168.0,1248.1 1168.5,1251.5 1169.0,1253.7 1169.5,1248.1 1170.0,1255.7 1170.5,1249.5 1171.0,1250.1 1171.5,1255.2 1172.0,1253.6 1172.5,1252.6 1173.0,1252.7 1173.5,1252.9 1174.0,1253.0 1174.5,1253.2 1175.0,1253.4 1175.5,1253.6 1176.0,1253.8 1176.5,1254.0 1177.0,1254.3 1177.5,1254.5 1178.0,1254.8 1178.5,1255.1 1179.0,1255.4 1179.5,1255.7 1180.0,1256.0 1180.5,1256.4 1181.0,1256.9 1181.5,1257.5 1182.0,1258.2 1182.5,1259.0 1183.0,1259.9 1183.5,1260.8 1184.0,1261.8 1184.5,1262.9 1185.0,1264.0 1185.5,1265.1 1186.0,1266.2 1186.5,1267.4 1187.0,1268.5 1187.5,1269.7 1188.0,1270.8 1188.5,1271.9 1189.0,1273.0 1189.5,1274.0 1190.0,1275.0 1190.5,1276.0 1191.0,1276.9 1191.5,1277.9 1192.0,1278.8 1192.5,1279.8 1193.0,1280.8 1193.5,1281.7 1194.0,1282.7 1194.5,1283.7 1195.0,1284.7 1195.5,1285.6 1196.0,1286.6 1196.5,1287.5 1197.0,1288.5 1197.5,1289.4 1198.0,1290.4 1198.5,1291.3 1199.0,1292.2 1199.5,1293.1 1200.0,1294.0 1200.5,1294.9 1201.0,1295.7 1201.5,1296.6 1202.0,1297.4 1202.5,1298.2 1203.0,1299.0 1203.5,1299.7 1204.0,1300.5 1204.5,1301.3 1205.0,1302.0 1205.5,1302.8 1206.0,1303.6 1206.5,1304.3 1207.0,1305.1 1207.5,1305.9 1208.0,1306.7 1208.5,1307.5 1209.0,1308.4 1209.5,1309.2 1210.0,1310.1 1210.5,1311.1 1211.0,1312.0 1211.5,1313.0 1212.0,1314.0 1212.5,1315.1 1213.0,1316.2 1213.5,1317.3 1214.0,1318.5 1214.5,1319.7 1215.0,1320.9 1215.5,1322.2 1216.0,1323.5 1216.5,1324.9 1217.0,1326.2 1217.5,1327.6 1218.0,1329.0 1218.5,1330.5 1219.0,1331.9 1219.5,1333.4 1220.0,1334.9 1220.5,1336.5 1221.0,1338.0" fill="none" stroke="#ffa500" stroke-width="3.0" stroke-opacity="1.0" stroke-linejoin="round" stroke-linecap="butt"/>
<polyline points="862.0,1231.0 862.5,1231.0 863.0,1231.5 863.5,1231.1 864.0,1231.0 864.5,1230.9 865.0,1230.4 865.5,1231.1 866.0,1230.2 866.5,1229.8 867.0,1232.1 867.5,1231.5 868.0,1231.4 868.5,1230.8 869.0,1230.0 869.5,1230.9 870.0,1231.8 870.5,1232.1 871.0,1230.8 871.5,1230.5 872.0,1230.0 872.5,1231.8 873.0,1230.0 873.5,1232.0 874.0,1231.5 874.5,1231.7 875.0,1231.6 875.5,1230.7 876.0,1229.8 876.5,1230.8 877.0,1229.9 877.5,1230.2 878.0,1231.9 878.5,1231.2 879.0,1230.6 879.5,1230.9 880.0,1230.6 880.5,1231.1 881.0,1231.7 881.5,1230.9 882.0,1230.7 882.5,1231.4 883.0,1230.2 883.5,1230.0 884.0,1231.0 884.5,1231.9 885.0,1231.2 885.5,1230.1 886.0,1229.8 886.5,1231.0 887.0,1231.0 887.5,1231.6 888.0,1231.0 888.5,1231.7 889.0,1232.0 889.5,1231.3 890.0,1230.9 890.5,1230.0 891.0,1231.5 891.5,1231.3 892.0,1230.1 892.5,1231.7 893.0,1231.6 893.5,1231.2 894.0,1231.0 894.5,1229.8 895.0,1231.6 895.5,1231.2 896.0,1231.4 896.5,1232.0 897.0,1231.1 897.5,1230.0 898.0,1230.3 898.5,1231.9 899.0,1230.5 899.5,1230.7 900.0,1231.1 900.5,1232.0 901.0,1230.9 901.5,1230.6 902.0,1230.4 902.5,1230.7 903.0,1231.7 903.5,1231.7 904.0,1231.9 904.5,1231.8 905.0,1231.7 905.5,1230.1 906.0,1231.9 906.5,1231.5 907.0,1230.8 907.5,1231.3 908.0,1231.0 908.5,1230.7 909.0,1230.4 909.5,1230.4 910.0,1232.0 910.5,1230.0 911.0,1230.5 911.5,1231.6 912.0,1231.6 912.5,1229.8 913.0,1232.2 913.5,1231.4 914.0,1230.6 914.5,1231.1 915.0,1231.5 915.5,1230.4 916.0,1230.0 916.5,1230.1 917.0,1232.2 917.5,1229.9 918.0,1230.5 918.5,1230.4 919.0,1231.3 919.5,1232.0 920.0,1230.5 920.5,1230.6 921.0,1230.6 921.5,1230.9 922.0,1231.6 922.5,1230.5 923.0,1231.2 923.5,1232.1 924.0,1230.6 924.5,1232.0 925.0,1231.0 925.5,1230.5 926.0,1230.4 926.5,1230.0 927.0,1232.1 927.5,1230.1 928.0,1229.9 928.5,1231.4 929.0,1232.2 929.5,1230.9 930.0,1231.0 930.5,1232.1 931.0,1230.2 931.5,1231.5 932.0,1230.4 932.5,1230.6 933.0,1231.2 933.5,1230.3 934.0,1231.4 934.5,1229.8 935.0,1231.1 935.5,1231.8 936.0,1231.5 936.5,1230.1 937.0,1232.1 937.5,1230.7 938.0,1232.1 938.5,1232.1 939.0,1230.7 939.5,1230.3 940.0,1230.3 940.5,1230.8 941.0,1232.0 941.5,1232.0 942.0,1231.3 942.5,1231.5 943.0,1231.9 943.5,1230.7 944.0,1229.9 944.5,1230.4 945.0,1231.0 945.5,1230.7 946.0,1230.9 946.5,1231.7 947.0,1230.3 947.5,1231.7 948.0,1230.9 948.5,1229.8 949.0,1232.1 949.5,1230.0 950.0,1232.2 950.5,1230.2 951.0,1231.4 951.5,1231.3 952.0,1230.8 952.5,1232.2 953.0,1229.9 953.5,1231.4 954.0,1231.1 954.5,1232.0 955.0,1231.8 955.5,1230.0 956.0,1230.8 956.5,1231.5 957.0,1231.3 957.5,1231.6 958.0,1232.2 958.5,1230.1 959.0,1231.0 959.5,1231.0 960.0,1231.1 960.5,1230.5 961.0,1229.9 961.5,1230.7 962.0,1230.8 962.5,1231.8 963.0,1232.1 963.5,1232.1 964.0,1230.8 964.5,1230.8 965.0,1230.1 965.5,1230.5 966.0,1231.4 966.5,1231.3 967.0,1231.9 967.5,1230.0 968.0,1230.3 968.5,1230.4 969.0,1231.6 969.5,1231.6 970.0,1230.6 970.5,1231.9 971.0,1230.0 971.5,1231.0 972.0,1230.2 972.5,1231.8 973.0,1231.3 973.5,1230.1 974.0,1230.3 974.5,1230.2 975.0,1232.0 975.5,1231.1 976.0,1230.1 976.5,1230.9 977.0,1231.7 977.5,1231.2 978.0,1231.2 978.5,1230.2 979.0,1231.6 979.5,1229.9 980.0,1231.9 980.5,1232.1 981.0,1230.7 981.5,1230.5 982.0,1232.3 982.5,1230.5 983.0,1231.7 983.5,1232.9 984.0,1232.7 984.5,1231.7 985.0,1232.4 985.5,1232.9 986.0,1233.2 986.5,1233.5 987.0,1233.8 987.5,1234.2 988.0,1234.5 988.5,1234.9 989.0,1235.3 989.5,1235.6 990.0,1236.0 990.5,1236.4 991.0,1236.8 991.5,1237.3 992.0,1237.8 992.5,1238.4 993.0,1238.9 993.5,1239.6 994.0,1240.2 994.5,1240.9 995.0,1241.6 995.5,1242.3 996.0,1243.1 996.5,1243.9 997.0,1244.7 997.5,1245.5 998.0,1246.4 998.5,1247.3 999.0,1248.2 999.5,1249.1 1000.0,1250.0 1000.5,1251.0 1001.0,1252.1 1001.5,1253.3 1002.0,1254.6 1002.5,1256.0 1003.0,1257.4 1003.5,1258.9 1004.0,1260.5 1004.5,1262.1 1005.0,1263.7 1005.5,1265.4 1006.0,1267.1 1006.5,1268.7 1007.0,1270.4 1007.5,1272.0 1008.0,1273.6 1008.5,1275.2 1009.0,1276.7 1009.5,1278.1 1010.0,1279.5 1010.5,1280.8 1011.0,1281.9 1011.5,1283.0 1012.0,1284.0 1012.5,1284.9 1013.0,1285.8 1013.5,1286.7 1014.0,1287.5 1014.5,1288.4 1015.0,1289.2 1015.5,1290.0 1016.0,1290.8 1016.5,1291.5 1017.0,1292.3 1017.5,1293.0 1018.0,1293.7 1018.5,1294.4 1019.0,1295.0 1019.5,1295.7 1020.0,1296.3 1020.5,1296.8 1021.0,1297.4 1021.5,1297.9 1022.0,1298.4 1022.5,1298.8 1023.0,1299.3 1023.5,1299.6 1024.0,1300.0 1024.5,1300.3 1025.0,1300.7 1025.5,1301.0 1026.0,1301.3 1026.5,1301.6 1027.0,1301.9 1027.5,1302.1 1028.0,1302.4 1028.5,1302.7 1029.0,1302.9 1029.5,1303.2 1030.0,1303.4 1030.5,1303.7 1031.0,1303.9 1031.5,1304.1 1032.0,1304.3 1032.5,1304.5 1033.0,1304.7 1033.5,1304.9 1034.0,1305.1 1034.5,1305.3 1035.0,1305.5 1035.5,1305.6 1036.0,1305.8 1036.5,1306.0 1037.0,1306.1 1037.5,1306.3 1038.0,1306.4 1038.5,1306.6 1039.0,1306.7 1039.5,1306.9 1040.0,1307.0 1040.5,1307.1 1041.0,1307.3 1041.5,1307.4 1042.0,1307.5 1042.5,1307.7 1043.0,1307.8 1043.5,1308.0 1044.0,1308.1 1044.5,1308.2 1045.0,1308.3 1045.5,1308.4 1046.0,1308.6 1046.5,1308.6 1047.0,1308.7 1047.5,1308.8 1048.0,1308.9 1048.5,1308.9 1049.0,1309.0 1049.5,1309.0 1050.0,1309.0 1050.5,1307.5 1051.0,1303.8 1051.5,1299.2 1052.0,1295.0 1052.5,1291.4 1053.0,1287.8 1053.5,1284.0 1054.0,1280.0 1054.5,1275.3 1055.0,1269.7 1055.5,1263.7 1056.0,1257.6 1056.5,1251.8 1057.0,1246.7 1057.5,1242.7 1058.0,1240.0 1058.5,1238.2 1059.0,1236.5 1059.5,1235.0 1060.0,1233.7 1060.5,1232.6 1061.0,1231.7 1061.5,1231.2 1062.0,1231.9 1062.5,1230.9 1063.0,1231.7 1063.5,1232.1 1064.0,1230.1 1064.5,1230.1 1065.0,1230.4 1065.5,1229.9 1066.0,1231.1 1066.5,1230.0 1067.0,1232.0 1067.5,1230.1 1068.0,1230.9 1068.5,1232.1 1069.0,1230.7 1069.5,1231.9 1070.0,1230.9 1070.5,1229.9 1071.0,1230.2 1071.5,1230.1 1072.0,1229.9 1072.5,1230.0 1073.0,1231.3 1073.5,1231.2 1074.0,1231.4 1074.5,1231.2 1075.0,1231.0 1075.5,1231.6 1076.0,1231.8 1076.5,1230.6 1077.0,1231.1 1077.5,1231.6 1078.0,1231.3 1078.5,1231.6 1079.0,1230.3 1079.5,1231.0 1080.0,1230.4 1080.5,1232.2 1081.0,1231.9 1081.5,1229.9 1082.0,1231.8 1082.5,1232.1 1083.0,1231.9 1083.5,1230.2 1084.0,1231.4 1084.5,1230.4 1085.0,1230.2 1085.5,1232.2 1086.0,1231.6 1086.5,1230.4 1087.0,1231.1 1087.5,1232.0 1088.0,1230.4 1088.5,1230.7 1089.0,1231.2 1089.5,1230.0 1090.0,1230.5 1090.5,1231.3 1091.0,1230.5 1091.5,1230.0 1092.0,1230.8 1092.5,1230.9 1093.0,1231.1 1093.5,1231.5 1094.0,1230.7 1094.5,1230.2 1095.0,1231.9 1095.5,1230.5 1096.0,1230.5 1096.5,1231.8 1097.0,1229.9 1097.5,1231.1 1098.0,1230.1 1098.5,1230.9 1099.0,1231.4 1099.5,1231.4 1100.0,1230.3 1100.5,1231.5 1101.0,1230.2 1101.5,1231.7 1102.0,1230.1 1102.5,1232.3 1103.0,1231.2 1103.5,1230.6 1104.0,1230.6 1104.5,1232.3 1105.0,1232.3 1105.5,1230.7 1106.0,1230.7 1106.5,1230.7 1107.0,1231.8 1107.5,1232.1 1108.0,1231.8 1108.5,1231.5 1109.0,1230.9 1109.5,1230.7 1110.0,1231.9 1110.5,1232.8 1111.0,1232.7 1111.5,1230.4 1112.0,1231.6 1112.5,1232.9 1113.0,1230.8 1113.5,1231.2 1114.0,1232.0 1114.5,1231.1 1115.0,1231.7 1115.5,1232.5 1116.0,1231.5 1116.5,1230.2 1117.0,1233.0 1117.5,1231.9 1118.0,1230.7 1118.5,1230.9 1119.0,1230.7 1119.5,1232.2 1120.0,1231.8 1120.5,1234.0 1121.0,1232.5 1121.5,1231.3 1122.0,1232.9 1122.5,1232.6 1123.0,1233.4 1123.5,1233.7 1124.0,1233.0 1124.5,1233.0 1125.0,1232.1 1125.5,1230.9 1126.0,1232.9 1126.5,1233.8 1127.0,1231.5 1127.5,1230.7 1128.0,1230.9 1128.5,1233.4 1129.0,1232.1 1129.5,1234.0 1130.0,1232.4 1130.5,1232.4 1131.0,1231.8 1131.5,1234.1 1132.0,1232.7 1132.5,1232.2 1133.0,1231.2 1133.5,1233.5 1134.0,1232.7 1134.5,1232.7 1135.0,1234.1 1135.5,1232.7 1136.0,1231.9 1136.5,1232.7 1137.0,1233.1 1137.5,1231.1 1138.0,1233.2 1138.5,1235.4 1139.0,1231.7 1139.5,1231.8 1140.0,1231.2 1140.5,1231.9 1141.0,1232.8 1141.5,1231.4 1142.0,1233.9 1142.5,1236.0 1143.0,1234.0 1143.5,1231.1 1144.0,1235.0 1144.5,1236.2 1145.0,1234.4 1145.5,1233.9 1146.0,1231.0 1146.5,1233.4 1147.0,1231.0 1147.5,1235.9 1148.0,1231.8 1148.5,1234.8 1149.0,1233.2 1149.5,1234.4 1150.0,1232.7 1150.5,1235.6 1151.0,1232.8 1151.5,1234.3 1152.0,1235.8 1152.5,1233.5 1153.0,1237.3 1153.5,1234.0 1154.0,1236.2 1154.5,1233.1 1155.0,1234.5 1155.5,1238.1 1156.0,1233.4 1156.5,1236.1 1157.0,1232.1 1157.5,1236.8 1158.0,1238.9 1158.5,1232.6 1159.0,1239.0 1159.5,1234.3 1160.0,1234.7 1160.5,1231.8 1161.0,1233.7 1161.5,1232.8 1162.0,1237.2 1162.5,1236.5 1163.0,1234.2 1163.5,1233.2 1164.0,1236.7 1164.5,1235.6 1165.0,1237.1 1165.5,1233.5 1166.0,1236.0 1166.5,1231.5 1167.0,1232.7 1167.5,1237.1 1168.0,1232.4 1168.5,1233.5 1169.0,1236.1 1169.5,1235.4 1170.0,1233.8 1170.5,1236.1 1171.0,1235.7 1171.5,1235.8 1172.0,1235.2 1172.5,1232.2 1173.0,1232.7 1173.5,1233.4 1174.0,1234.4 1174.5,1235.6 1175.0,1237.0 1175.5,1238.4 1176.0,1239.9 1176.5,1241.5 1177.0,1243.1 1177.5,1244.6 1178.0,1246.0 1178.5,1247.5 1179.0,1249.0 1179.5,1250.7 1180.0,1252.5 1180.5,1254.3 1181.0,1256.2 1181.5,1258.0 1182.0,1259.8 1182.5,1261.5 1183.0,1263.1 1183.5,1264.6 1184.0,1266.0 1184.5,1267.2 1185.0,1268.5 1185.5,1269.6 1186.0,1270.8 1186.5,1271.9 1187.0,1273.0 1187.5,1274.0 1188.0,1275.0 1188.5,1276.0 1189.0,1277.0 1189.5,1277.9 1190.0,1278.8 1190.5,1279.6 1191.0,1280.4 1191.5,1281.2 1192.0,1282.0 1192.5,1282.7 1193.0,1283.5 1193.5,1284.2 1194.0,1284.9 1194.5,1285.5 1195.0,1286.2 1195.5,1286.8 1196.0,1287.5 1196.5,1288.1 1197.0,1288.7 1197.5,1289.3 1198.0,1289.9 1198.5,1290.4 1199.0,1291.0 1199.5,1291.5 1200.0,1292.1 1200.5,1292.6 1201.0,1293.1 1201.5,1293.6 1202.0,1294.1 1202.5,1294.6 1203.0,1295.1 1203.5,1295.5 1204.0,1296.0 1204.5,1296.5 1205.0,1296.9 1205.5,1297.4 1206.0,1297.8 1206.5,1298.3 1207.0,1298.7 1207.5,1299.1 1208.0,1299.6 1208.5,1300.0 1209.0,1300.4 1209.5,1300.8 1210.0,1301.2 1210.5,1301.6 1211.0,1302.0 1211.5,1302.4 1212.0,1302.8 1212.5,1303.2 1213.0,1303.6 1213.5,1303.9 1214.0,1304.3 1214.5,1304.7 1215.0,1305.0 1215.5,1305.3 1216.0,1305.7 1216.5,1306.0 1217.0,1306.3 1217.5,1306.6 1218.0,1306.9 1218.5,1307.2 1219.0,1307.5 1219.5,1307.7 1220.0,1308.0" fill="none" stroke="#ff0000" stroke-width="3.0" stroke-opacity="1.0" stroke-linejoin="round" stroke-linecap="butt"/>
<polyline points="283.0,1220.2 284.2,1220.5 285.4,1220.4 286.6,1219.8 287.8,1219.9 289.0,1220.5 290.2,1219.6 291.4,1220.5 292.6,1220.5 293.8,1220.1 295.0,1220.0 296.2,1220.0 297.4,1220.0 298.6,1220.2 299.8,1220.3 301.0,1220.4 302.2,1220.9 303.4,1220.7 304.6,1220.6 305.8,1221.0 307.0,1220.2 308.2,1220.2 309.4,1220.8 310.6,1220.3 311.8,1220.4 313.0,1221.0 314.2,1221.1 315.4,1221.7 316.6,1221.5 317.8,1221.5 319.0,1221.7 320.2,1221.6 321.4,1221.6 322.6,1222.1 323.8,1223.0 325.0,1222.9 326.2,1223.5 327.4,1223.7 328.6,1225.1 329.8,1224.9 331.0,1225.6 332.2,1226.8 333.4,1227.0 334.6,1228.0 335.8,1228.4 337.0,1229.2 338.2,1229.2 339.4,1230.5 340.6,1231.2 341.8,1232.4 343.0,1232.6 344.2,1233.7 345.4,1233.9 346.6,1235.0 347.8,1235.8 349.0,1236.5 350.2,1238.1 351.4,1238.5 352.6,1240.0 353.8,1240.5 355.0,1241.5 356.2,1242.7 357.4,1244.0 358.6,1244.7 359.8,1246.2 361.0,1247.1 362.2,1248.1 363.4,1248.2 364.6,1248.7 365.8,1240.4 367.0,1234.4 368.2,1228.8 369.4,1226.6 370.6,1224.5 371.8,1222.6 373.0,1222.4 374.2,1221.8 375.4,1221.2 376.6,1220.5 377.8,1219.6 379.0,1219.4 380.2,1219.9 381.4,1219.3 382.6,1218.7 383.8,1219.2 385.0,1218.8 386.2,1218.7 387.4,1218.5 388.6,1218.6 389.8,1218.4 391.0,1218.3 392.2,1219.3 393.4,1218.9 394.6,1219.1 395.8,1218.9 397.0,1219.5 398.2,1218.8 399.4,1219.2 400.6,1218.9 401.8,1219.1 403.0,1220.1 404.2,1219.8 405.4,1219.6 406.6,1219.7 407.8,1220.1 409.0,1219.6 410.2,1219.9 411.4,1220.0 412.6,1219.7 413.8,1219.9 415.0,1220.2 416.2,1220.4 417.4,1219.6 418.6,1220.5 419.8,1219.5 421.0,1220.3 422.2,1220.4 423.4,1219.7 424.6,1220.1 425.8,1220.5 427.0,1219.7 428.2,1220.4 429.4,1220.6 430.6,1220.3 431.8,1220.5 433.0,1220.0 434.2,1220.0 435.4,1220.2 436.6,1220.0 437.8,1220.2 439.0,1220.9 440.2,1220.5 441.4,1220.2 442.6,1220.2 443.8,1220.9 445.0,1220.4 446.2,1221.0 447.4,1220.5 448.6,1220.5 449.8,1220.9 451.0,1220.8 452.2,1220.6 453.4,1220.4 454.6,1220.9 455.8,1220.4 457.0,1221.0 458.2,1220.0 459.4,1220.4 460.6,1220.5 461.8,1221.0 463.0,1220.2 464.2,1220.8 465.4,1220.6 466.6,1220.7 467.8,1220.5 469.0,1220.9 470.2,1220.2 471.4,1220.3 472.6,1220.0 473.8,1219.8 475.0,1220.0 476.2,1220.8 477.4,1220.7 478.6,1219.8 479.8,1220.4 481.0,1220.2 482.2,1220.3 483.4,1220.4 484.6,1220.0 485.8,1220.7 487.0,1220.1 488.2,1220.3 489.4,1220.3 490.6,1219.8 491.8,1219.6 493.0,1220.0 494.2,1220.4 495.4,1220.4 496.6,1220.3 497.8,1219.6 499.0,1220.5 500.2,1220.4 501.4,1220.5 502.6,1220.1 503.8,1220.5 505.0,1219.6 506.2,1219.5 507.4,1219.5 508.6,1219.8 509.8,1219.8 511.0,1219.7 512.2,1220.1 513.4,1219.5 514.6,1220.1 515.8,1219.7 517.0,1220.2 518.2,1219.5 519.4,1219.8 520.6,1220.5 521.8,1220.1 523.0,1220.4 524.2,1220.2 525.4,1220.2 526.6,1219.7 527.8,1220.1 529.0,1219.5 530.2,1220.4 531.4,1220.6 532.6,1220.4 533.8,1219.6 535.0,1219.9 536.2,1219.8 537.4,1219.6 538.6,1220.2 539.8,1220.4 541.0,1219.8 542.2,1220.4 543.4,1220.4 544.6,1219.6 545.8,1220.3 547.0,1220.5 548.2,1219.7 549.4,1220.1 550.6,1220.2 551.8,1220.2 553.0,1219.6 554.2,1220.2 555.4,1220.2 556.6,1220.4 557.8,1220.4 559.0,1219.9 560.2,1220.3 561.4,1220.5 562.6,1220.5 563.8,1219.7 565.0,1219.5 566.2,1220.2 567.4,1219.7 568.6,1220.1 569.8,1220.5 571.0,1219.9 572.2,1219.8 573.4,1220.0 574.6,1220.3 575.8,1219.9 577.0,1220.5 578.2,1220.5 579.4,1221.4 580.6,1221.9 581.8,1221.8 583.0,1222.1 584.2,1222.7 585.4,1222.6 586.6,1223.0 587.8,1223.5 589.0,1224.0 590.2,1224.0 591.4,1225.2 592.6,1225.5 593.8,1225.7 595.0,1226.0 596.2,1227.3 597.4,1227.2 598.6,1227.8 599.8,1228.5 601.0,1229.3 602.2,1231.0 603.4,1231.1 604.6,1232.0 605.8,1233.5 607.0,1234.1 608.2,1234.6 609.4,1235.7 610.6,1237.1 611.8,1237.5 613.0,1238.8 614.2,1239.1 615.4,1240.8 616.6,1241.8 617.8,1242.9 619.0,1243.8 620.2,1244.5 621.4,1245.3 622.6,1247.2 623.8,1249.0 625.0,1249.9 626.2,1251.5 627.4,1253.1 628.6,1254.3 629.8,1255.0 631.0,1252.9 632.2,1244.6 633.4,1237.1 634.6,1230.5 635.8,1227.3 637.0,1225.2 638.2,1223.5 639.4,1222.1 640.6,1221.0 641.8,1219.7 643.0,1219.4 644.2,1218.7 645.4,1219.2 646.6,1219.1 647.8,1218.9 649.0,1218.5 650.2,1218.3 651.4,1218.3 652.6,1217.8 653.8,1218.7 655.0,1218.3 656.2,1218.2 657.4,1218.3 658.6,1218.6 659.8,1218.3 661.0,1219.0 662.2,1219.3 663.4,1218.9 664.6,1218.8 665.8,1219.7 667.0,1220.1 668.2,1219.4 669.4,1220.1 670.6,1220.3 671.8,1220.5 673.0,1219.6 674.2,1219.6 675.4,1220.6 676.6,1219.6 677.8,1219.7 679.0,1220.1 680.2,1220.0 681.4,1220.3 682.6,1219.7 683.8,1220.5 685.0,1219.7 686.2,1220.3 687.4,1219.6 688.6,1220.0 689.8,1219.5 691.0,1219.8 692.2,1219.8 693.4,1220.3 694.6,1220.0 695.8,1219.6 697.0,1220.6 698.2,1220.5 699.4,1220.5 700.6,1219.8 701.8,1219.9 703.0,1219.7 704.2,1219.6 705.4,1219.5 706.6,1220.1 707.8,1219.6 709.0,1219.7 710.2,1220.4 711.4,1220.0 712.6,1219.7 713.8,1220.2 715.0,1219.8 716.2,1220.1 717.4,1219.8 718.6,1220.1 719.8,1220.2 721.0,1220.1 722.2,1219.9 723.4,1220.4 724.6,1220.5 725.8,1219.7 727.0,1219.6 728.2,1219.6 729.4,1220.6 730.6,1220.5 731.8,1219.8 733.0,1220.6 734.2,1219.7 735.4,1220.1 736.6,1220.0 737.8,1220.5 739.0,1219.5 740.2,1219.8 741.4,1220.2 742.6,1219.6 743.8,1219.8 745.0,1220.0 746.2,1220.5 747.4,1220.3 748.6,1220.4 749.8,1220.3 751.0,1220.3 752.2,1220.4 753.4,1220.2 754.6,1220.3 755.8,1219.8 757.0,1219.7 758.2,1220.3 759.4,1219.7 760.6,1220.5 761.8,1220.2 763.0,1219.9 764.2,1220.5 765.4,1219.7 766.6,1220.1 767.8,1219.6 769.0,1220.6 770.2,1220.1 771.4,1220.4 772.6,1219.8 773.8,1220.4 775.0,1220.4 776.2,1220.4 777.4,1220.9 778.6,1220.5 779.8,1220.7 781.0,1221.2 782.2,1221.6 783.4,1221.3 784.6,1221.9 785.8,1221.6 787.0,1222.3 788.2,1222.8 789.4,1222.4 790.6,1223.5 791.8,1223.2 793.0,1224.6 794.2,1224.6 795.4,1225.0 796.6,1225.9 797.8,1226.2 799.0,1227.0 800.2,1226.9 801.4,1228.0 802.6,1228.7 803.8,1229.7 805.0,1229.4 806.2,1230.7 807.4,1231.7 808.6,1232.6 809.8,1233.0 811.0,1234.5 812.2,1235.1 813.4,1236.0 814.6,1237.7 815.8,1237.9 817.0,1239.2 818.2,1240.4 819.4,1241.3 820.6,1242.1 821.8,1243.4 823.0,1244.0 824.2,1245.2 825.4,1246.4 826.6,1247.3 827.8,1248.3 829.0,1249.1 830.2,1250.4 831.4,1251.5 832.6,1253.3 833.8,1254.4 835.0,1256.0 836.2,1257.8 837.4,1258.9 838.6,1260.1 839.8,1261.8 841.0,1262.2 842.2,1263.4 843.4,1263.8 844.6,1261.8 845.8,1249.8 847.0,1241.2 848.2,1235.7 849.4,1232.2 850.6,1228.7 851.8,1226.1 853.0,1224.2 854.2,1222.9 855.4,1221.7 856.6,1220.6 857.8,1219.6 859.0,1219.1 860.2,1218.7 861.4,1218.5 862.6,1218.8 863.8,1217.8 865.0,1217.7 866.2,1217.5 867.4,1217.6 868.6,1217.9 869.8,1217.8 871.0,1217.3 872.2,1217.2 873.4,1217.9 874.6,1217.5 875.8,1217.7 877.0,1217.1 878.2,1218.1 879.4,1217.5 880.6,1217.8 881.8,1217.5 883.0,1217.9 884.2,1218.4 885.4,1218.5 886.6,1218.2 887.8,1218.6 889.0,1218.3 890.2,1218.3 891.4,1218.6 892.6,1218.3 893.8,1218.5 895.0,1219.0 896.2,1219.2 897.4,1218.4 898.6,1219.2 899.8,1219.4 901.0,1219.0 902.2,1218.7 903.4,1219.4 904.6,1218.9 905.8,1219.4 907.0,1219.1 908.2,1219.4 909.4,1219.0 910.6,1219.3 911.8,1219.4 913.0,1219.5 914.2,1219.1 915.4,1219.9 916.6,1219.2 917.8,1219.2 919.0,1219.2 920.2,1219.0 921.4,1219.4 922.6,1219.8 923.8,1219.7 925.0,1219.2 926.2,1219.1 927.4,1219.3 928.6,1219.8 929.8,1219.5 931.0,1220.0 932.2,1219.8 933.4,1219.7 934.6,1219.9 935.8,1219.9 937.0,1219.5 938.2,1219.4 939.4,1219.6 940.6,1219.7 941.8,1219.3 943.0,1219.7 944.2,1219.9 945.4,1219.4 946.6,1219.4 947.8,1219.5 949.0,1219.7 950.2,1220.5 951.4,1219.5 952.6,1219.7 953.8,1219.7 955.0,1220.2 956.2,1219.8 957.4,1220.4 958.6,1220.3 959.8,1220.7 961.0,1221.5 962.2,1221.1 963.4,1221.8 964.6,1221.9 965.8,1222.2 967.0,1223.0 968.2,1222.7 969.4,1224.0 970.6,1224.5 971.8,1224.8 973.0,1224.6 974.2,1225.9 975.4,1226.4 976.6,1227.3 977.8,1227.3 979.0,1228.8 980.2,1229.4 981.4,1229.3 982.6,1230.2 983.8,1230.6 985.0,1232.2 986.2,1233.1 987.4,1234.1 988.6,1234.5 989.8,1235.5 991.0,1236.5 992.2,1237.4 993.4,1238.9 994.6,1239.5 995.8,1240.3 997.0,1241.5 998.2,1242.0 999.4,1243.8 1000.6,1244.8 1001.8,1245.5 1003.0,1247.0 1004.2,1247.9 1005.4,1248.5 1006.6,1249.2 1007.8,1250.3 1009.0,1251.4 1010.2,1252.6 1011.4,1253.9 1012.6,1255.5 1013.8,1255.9 1015.0,1257.7 1016.2,1258.7 1017.4,1260.3 1018.6,1261.4 1019.8,1262.6 1021.0,1265.1 1022.2,1266.2 1023.4,1267.8 1024.6,1270.1 1025.8,1271.4 1027.0,1272.2 1028.2,1273.3 1029.4,1274.9 1030.6,1274.7 1031.8,1275.5 1033.0,1267.2 1034.2,1255.9 1035.4,1242.5 1036.6,1234.4 1037.8,1230.3 1039.0,1228.0 1040.2,1226.0 1041.4,1223.4 1042.6,1222.3 1043.8,1222.0 1045.0,1221.3 1046.2,1220.4 1047.4,1220.4 1048.6,1219.8 1049.8,1220.0 1051.0,1219.1 1052.2,1219.3 1053.4,1218.9 1054.6,1218.8 1055.8,1218.2 1057.0,1218.6 1058.2,1218.6 1059.4,1218.2 1060.6,1217.9 1061.8,1218.9 1063.0,1218.6 1064.2,1218.1 1065.4,1218.7 1066.6,1218.2 1067.8,1218.4 1069.0,1218.8 1070.2,1218.4 1071.4,1218.2 1072.6,1218.3 1073.8,1218.0 1075.0,1218.2 1076.2,1218.3 1077.4,1218.2 1078.6,1218.1 1079.8,1218.6 1081.0,1218.3 1082.2,1218.9 1083.4,1219.2 1084.6,1218.5 1085.8,1218.9 1087.0,1218.8 1088.2,1218.4 1089.4,1218.5 1090.6,1219.4 1091.8,1219.0 1093.0,1219.4 1094.2,1218.6 1095.4,1219.2 1096.6,1219.6 1097.8,1219.6 1099.0,1218.7 1100.2,1219.4 1101.4,1219.3 1102.6,1219.7 1103.8,1219.1 1105.0,1219.3 1106.2,1220.0 1107.4,1219.7 1108.6,1219.7 1109.8,1220.4 1111.0,1219.7 1112.2,1219.5 1113.4,1220.0 1114.6,1219.8 1115.8,1219.8 1117.0,1220.4 1118.2,1221.0 1119.4,1220.7 1120.6,1221.1 1121.8,1221.2 1123.0,1221.9 1124.2,1222.6 1125.4,1223.1 1126.6,1223.9 1127.8,1224.3 1129.0,1224.6 1130.2,1225.7 1131.4,1226.3 1132.6,1226.7 1133.8,1227.8 1135.0,1228.8 1136.2,1228.8 1137.4,1230.0 1138.6,1231.0 1139.8,1231.5 1141.0,1232.2 1142.2,1233.2 1143.4,1234.3 1144.6,1235.4 1145.8,1236.2 1147.0,1236.6 1148.2,1238.4 1149.4,1239.4 1150.6,1239.5 1151.8,1240.6 1153.0,1241.6 1154.2,1243.4 1155.4,1244.5 1156.6,1244.6 1157.8,1246.0 1159.0,1246.9 1160.2,1248.4 1161.4,1250.0 1162.6,1250.2 1163.8,1251.5 1165.0,1253.0 1166.2,1254.2 1167.4,1255.7 1168.6,1256.6 1169.8,1257.6 1171.0,1259.1 1172.2,1261.1 1173.4,1262.2 1174.6,1262.8 1175.8,1264.9 1177.0,1265.7 1178.2,1267.5 1179.4,1267.9 1180.6,1270.2 1181.8,1270.8 1183.0,1272.5 1184.2,1274.2 1185.4,1275.5 1186.6,1276.5 1187.8,1277.9 1189.0,1279.4 1190.2,1280.4 1191.4,1281.8 1192.6,1282.8 1193.8,1284.1 1195.0,1284.8 1196.2,1285.7 1197.4,1285.9 1198.6,1286.1 1199.8,1286.9 1201.0,1287.9 1202.2,1287.9 1203.4,1288.7 1204.6,1289.8 1205.8,1290.2 1207.0,1291.5 1208.2,1292.4 1209.4,1292.6 1210.6,1293.9 1211.8,1294.1 1213.0,1294.7 1214.2,1295.7 1215.4,1296.5 1216.6,1297.5 1217.8,1297.2 1219.0,1298.4 1220.2,1298.7 1221.4,1298.8 1222.6,1300.3 1223.8,1300.5 1225.0,1300.4 1226.2,1301.8 1227.4,1301.5 1228.6,1302.1 1229.8,1303.0 1231.0,1304.4 1232.2,1304.1 1233.4,1305.7 1234.6,1306.1 1235.8,1306.3 1237.0,1307.5 1238.2,1308.1 1239.4,1308.9 1240.6,1309.8 1241.8,1310.4 1243.0,1311.3 1244.2,1311.0 1245.4,1312.3 1246.6,1312.5 1247.8,1313.5 1249.0,1314.2 1250.2,1314.8 1251.4,1314.5 1252.6,1315.2 1253.8,1316.1 1255.0,1316.5 1256.2,1316.2 1257.4,1317.1 1258.6,1316.8 1259.8,1317.1 1261.0,1317.7 1262.2,1317.7 1263.4,1317.9 1264.6,1318.0 1265.8,1318.3 1267.0,1318.2 1268.2,1318.3 1269.4,1319.3 1270.6,1319.3 1271.8,1319.6 1273.0,1319.9 1274.2,1319.5 1275.4,1319.7 1276.6,1320.0 1277.8,1320.2 1279.0,1320.9 1280.2,1320.7 1281.4,1320.8 1282.6,1321.4 1283.8,1321.1 1285.0,1321.3 1286.2,1322.1 1287.4,1322.4 1288.6,1322.1 1289.8,1322.7 1291.0,1322.3 1292.2,1322.9 1293.4,1323.3 1294.6,1323.1 1295.8,1323.5 1297.0,1324.0 1298.2,1324.2 1299.4,1323.9 1300.6,1324.7 1301.8,1324.2 1303.0,1325.4 1304.2,1324.8 1305.4,1325.1 1306.6,1325.2 1307.8,1326.3 1309.0,1325.8 1310.2,1326.3 1311.4,1327.0 1312.6,1327.1 1313.8,1326.3 1315.0,1327.1 1316.2,1327.4 1317.4,1327.7 1318.6,1327.5 1319.8,1327.7 1321.0,1327.6 1322.2,1327.8 1323.4,1328.6 1324.6,1328.3 1325.8,1328.7 1327.0,1329.0 1328.2,1329.0 1329.4,1329.1 1330.6,1330.3 1331.8,1330.0 1333.0,1330.0 1334.2,1330.8 1335.4,1330.2 1336.6,1330.7 1337.8,1331.8 1339.0,1331.9 1340.2,1331.9 1341.4,1331.6 1342.6,1332.1 1343.8,1332.1 1345.0,1332.6 1346.2,1332.7 1347.4,1333.1 1348.6,1334.0 1349.8,1333.7 1351.0,1334.1 1352.2,1335.2 1353.4,1334.9 1354.6,1335.1 1355.8,1335.1 1357.0,1336.1 1358.2,1336.2 1359.4,1336.2 1360.6,1336.4 1361.8,1336.0 1363.0,1336.3 1364.2,1336.8 1365.4,1337.3 1366.6,1337.3 1367.8,1337.2 1369.0,1337.2 1370.2,1336.8 1371.4,1337.8 1372.6,1337.0 1373.8,1337.2 1375.0,1338.0 1376.2,1338.2 1377.4,1338.3 1378.6,1338.0 1379.8,1337.8 1381.0,1337.7 1382.2,1338.7 1383.4,1338.9 1384.6,1338.2 1385.8,1338.9 1387.0,1338.5 1388.2,1338.5 1389.4,1338.7 1390.6,1338.2 1391.8,1338.7 1393.0,1338.5 1394.2,1339.1 1395.4,1338.9 1396.6,1339.3 1397.8,1339.4 1399.0,1338.7 1400.2,1338.7 1401.4,1339.4 1402.6,1338.9 1403.8,1338.5 1405.0,1338.4 1406.2,1339.4 1407.4,1338.9 1408.6,1338.3 1409.8,1338.8 1411.0,1338.8 1412.2,1338.7 1413.4,1339.2 1414.6,1339.2 1415.8,1338.2 1417.0,1338.2 1418.2,1338.5 1419.4,1338.9 1420.6,1338.6 1421.8,1338.7 1423.0,1338.4 1424.2,1337.8 1425.4,1338.3 1426.6,1337.2 1427.8,1337.8 1429.0,1337.0 1430.2,1337.1 1431.4,1337.4 1432.6,1336.7 1433.8,1336.0 1435.0,1336.2 1436.2,1336.2 1437.4,1335.4 1438.6,1335.5 1439.8,1335.1 1441.0,1335.5 1442.2,1335.2 1443.4,1335.3 1444.6,1334.9 1445.8,1335.2 1447.0,1334.6 1448.2,1335.3 1449.4,1335.2 1450.6,1334.6 1451.8,1334.5 1453.0,1334.8 1454.2,1334.1 1455.4,1334.6 1456.6,1334.0 1457.8,1334.4 1459.0,1333.9 1459.5,1334.2" fill="none" stroke="#111" stroke-width="3.3" stroke-linejoin="round"/>
<polyline points="1459.5,1334.1 1481.8,1334.9" fill="none" stroke="#9c9c9c" stroke-width="3"/>
<rect x="234.8" y="1463.3" width="403.5" height="449.5" rx="8" ry="8" fill="#fff" fill-opacity="0.85" stroke="#dadada" stroke-width="3"/>
<line x1="248.2" y1="1494.4" x2="335.8" y2="1494.4" stroke="#a52a2a" stroke-width="6"/>
<text transform="translate(365.99,1510.40) scale(0.9802,1)" font-family="'DejaVu Sans','Liberation Sans',sans-serif" font-size="41.7" fill="#222" stroke="#222" stroke-width="1.1" stroke-linejoin="round">Arima</text>
<line x1="248.2" y1="1557.5" x2="335.8" y2="1557.5" stroke="#ffff00" stroke-width="6"/>
<text transform="translate(366.27,1573.20) scale(1.0111,1)" font-family="'DejaVu Sans','Liberation Sans',sans-serif" font-size="41.7" fill="#222" stroke="#222" stroke-width="1.1" stroke-linejoin="round">Garch</text>
<line x1="248.2" y1="1620.5" x2="335.8" y2="1620.5" stroke="#0000ff" stroke-width="6"/>
<text transform="translate(365.65,1635.40) scale(0.9957,1)" font-family="'DejaVu Sans','Liberation Sans',sans-serif" font-size="41.7" fill="#222" stroke="#222" stroke-width="1.1" stroke-linejoin="round">DeepAR</text>
<line x1="248.2" y1="1683.4" x2="335.8" y2="1683.4" stroke="#800080" stroke-width="6"/>
<text transform="translate(362.88,1698.90) scale(1.0119,1)" font-family="'DejaVu Sans','Liberation Sans',sans-serif" font-size="41.7" fill="#222" stroke="#222" stroke-width="1.1" stroke-linejoin="round">Deep state</text>
<line x1="248.2" y1="1746.3" x2="335.8" y2="1746.3" stroke="#ffa500" stroke-width="6"/>
<text transform="translate(365.99,1760.10) scale(0.9844,1)" font-family="'DejaVu Sans','Liberation Sans',sans-serif" font-size="41.7" fill="#222" stroke="#222" stroke-width="1.1" stroke-linejoin="round">AT_LSTM</text>
<line x1="248.2" y1="1809.1" x2="335.8" y2="1809.1" stroke="#ff0000" stroke-width="6"/>
<text transform="translate(367.30,1824.70) scale(1.0007,1)" font-family="'DejaVu Sans','Liberation Sans',sans-serif" font-size="41.7" fill="#222" stroke="#222" stroke-width="1.1" stroke-linejoin="round">GLTrans.</text>
<line x1="248.2" y1="1872.0" x2="335.8" y2="1872.0" stroke="#000000" stroke-width="6"/>
<text transform="translate(367.30,1885.80) scale(0.9983,1)" font-family="'DejaVu Sans','Liberation Sans',sans-serif" font-size="41.7" fill="#222" stroke="#222" stroke-width="1.1" stroke-linejoin="round">Grand_Truth</text>
</g>
<g id="chart-c">
<path d="M284.0,2999.1v4.5 M482.7,2999.1v4.5 M681.4,2999.1v4.5 M880.1,2999.1v4.5 M1078.8,2999.1v4.5 M1277.5,2999.1v4.5 M1476.2,2999.1v4.5 M223.5,2274.7h-4.5 M223.5,2375.1h-4.5 M223.5,2474.0h-4.5 M223.5,2574.4h-4.5 M223.5,2673.7h-4.5 M223.5,2773.8h-4.5 M223.5,2874.0h-4.5 M223.5,2974.0h-4.5" stroke="#9a9a9a" stroke-width="2.2" fill="none"/>
<rect x="225.0" y="2240.6" width="1309.0" height="757.0" fill="none" stroke="#b8b8b8" stroke-width="4"/>
<polyline points="862.0,2276.0 863.5,2277.0 865.0,2278.0 866.5,2279.1 868.0,2280.1 869.5,2281.2 871.0,2282.2 872.5,2283.3 874.0,2284.4 875.5,2285.5 877.0,2286.6 878.5,2287.7 880.0,2288.8 881.5,2290.0 883.0,2291.1 884.5,2292.3 886.0,2293.5 887.5,2294.6 889.0,2295.9 890.5,2297.1 892.0,2298.3 893.5,2299.5 895.0,2300.8 896.5,2302.1 898.0,2303.3 899.5,2304.6 901.0,2305.9 902.5,2307.3 904.0,2308.6 905.5,2309.9 907.0,2311.3 908.5,2312.7 910.0,2314.1 911.5,2315.5 913.0,2316.9 914.5,2318.3 916.0,2319.8 917.5,2321.3 919.0,2322.7 920.5,2324.2 922.0,2325.7 923.5,2327.3 925.0,2328.8 926.5,2330.4 928.0,2331.9 929.5,2333.5 931.0,2335.1 932.5,2336.7 934.0,2338.4 935.5,2340.0 937.0,2341.7 938.5,2343.4 940.0,2345.1 941.5,2346.8 943.0,2348.5 944.5,2350.2 946.0,2352.0 947.5,2353.8 949.0,2355.6 950.5,2357.4 952.0,2359.2 953.5,2361.1 955.0,2362.9 956.5,2364.8 958.0,2366.7 959.5,2368.6 961.0,2370.5 962.5,2372.5 964.0,2374.4 965.5,2376.4 967.0,2378.4 968.5,2380.4 970.0,2382.4 971.5,2384.5 973.0,2386.5 974.5,2388.6 976.0,2390.7 977.5,2392.8 979.0,2394.9 980.5,2397.1 982.0,2399.2 983.5,2401.4 985.0,2403.6 986.5,2405.8 988.0,2408.0 989.5,2410.3 991.0,2412.6 992.5,2414.8 994.0,2417.1 995.5,2419.4 997.0,2421.8 998.5,2424.1 1000.0,2426.5 1001.5,2428.9 1003.0,2431.3 1004.5,2433.7 1006.0,2436.1 1007.5,2438.6 1009.0,2441.1 1010.5,2443.6 1012.0,2446.1 1013.5,2448.6 1015.0,2451.1 1016.5,2453.7 1018.0,2456.3 1019.5,2458.9 1021.0,2461.5 1022.5,2464.1 1024.0,2466.7 1025.5,2469.4 1027.0,2472.1 1028.5,2474.8 1030.0,2477.5 1031.5,2480.2 1033.0,2483.0 1034.5,2485.8 1036.0,2488.5 1037.5,2491.3 1039.0,2494.2 1040.5,2497.0 1042.0,2499.9 1043.5,2502.7 1045.0,2505.6 1046.5,2508.5 1048.0,2511.5 1049.5,2514.4 1051.0,2517.4 1052.5,2520.4 1054.0,2523.4 1055.5,2526.4 1057.0,2529.4 1058.5,2532.5 1060.0,2535.5 1061.5,2538.6 1063.0,2541.7 1064.5,2544.8 1066.0,2548.0 1067.5,2551.1 1069.0,2554.3 1070.5,2557.5 1072.0,2560.7 1073.5,2564.0 1075.0,2567.2 1076.5,2570.5 1078.0,2573.8 1079.5,2577.1 1081.0,2580.4 1082.5,2583.7 1084.0,2587.1 1085.5,2590.4 1087.0,2593.8 1088.5,2597.2 1090.0,2600.7 1091.5,2604.1 1093.0,2607.6 1094.5,2611.1 1096.0,2614.6 1097.5,2618.1 1099.0,2621.6 1100.5,2625.2 1102.0,2628.8 1103.5,2632.4 1105.0,2636.0 1106.5,2639.6 1108.0,2643.3 1109.5,2646.9 1111.0,2650.6 1112.5,2654.3 1114.0,2658.0 1115.5,2661.8 1117.0,2665.6 1118.5,2669.3 1120.0,2673.1 1121.5,2677.0 1123.0,2680.8 1124.5,2684.7 1126.0,2688.5 1127.5,2692.4 1129.0,2696.4 1130.5,2700.3 1132.0,2704.3 1133.5,2708.2 1135.0,2712.2 1136.5,2716.3 1138.0,2720.3 1139.5,2724.4 1141.0,2728.4 1142.5,2732.5 1144.0,2736.7 1145.5,2740.8 1147.0,2745.0 1148.5,2749.1 1150.0,2753.3 1151.5,2757.6 1153.0,2761.8 1154.5,2766.1 1156.0,2770.4 1157.5,2774.7 1159.0,2779.0 1160.5,2783.3 1162.0,2787.7 1163.5,2792.1 1165.0,2796.5 1166.5,2801.0 1168.0,2805.4 1169.5,2809.9 1171.0,2814.4 1172.5,2819.0 1174.0,2823.5 1175.5,2828.1 1177.0,2832.7 1178.5,2837.3 1180.0,2841.9 1181.5,2846.6 1183.0,2851.3 1184.5,2856.0 1186.0,2860.8 1187.5,2865.5 1189.0,2870.3 1190.5,2875.1 1192.0,2880.0 1193.5,2884.8 1195.0,2889.7 1196.5,2894.6 1198.0,2899.6 1199.5,2904.5 1201.0,2909.5 1202.5,2914.6 1204.0,2919.6 1205.5,2924.7 1207.0,2929.8 1208.5,2934.9 1210.0,2940.0 1211.5,2945.2 1213.0,2950.4 1214.5,2955.7 1216.0,2960.9 1216.6,2963.0" fill="none" stroke="#a52a2a" stroke-width="2.6" stroke-opacity="0.7" stroke-linejoin="round" stroke-linecap="butt"/>
<polyline points="862.0,2277.0 863.5,2277.7 865.0,2278.4 866.5,2279.1 868.0,2279.8 869.5,2280.5 871.0,2281.2 872.5,2281.9 874.0,2282.6 875.5,2283.3 877.0,2283.9 878.5,2284.6 880.0,2285.3 881.5,2286.0 883.0,2286.7 884.5,2287.3 886.0,2288.0 887.5,2288.7 889.0,2289.4 890.5,2290.1 892.0,2290.7 893.5,2291.4 895.0,2292.1 896.5,2292.8 898.0,2293.5 899.5,2294.2 901.0,2294.9 902.5,2295.6 904.0,2296.4 905.5,2297.1 907.0,2297.8 908.5,2298.5 910.0,2299.3 911.5,2300.0 913.0,2300.8 914.5,2301.5 916.0,2302.3 917.5,2303.1 919.0,2303.8 920.5,2304.6 922.0,2305.4 923.5,2306.2 925.0,2307.0 926.5,2307.9 928.0,2308.7 929.5,2309.5 931.0,2310.4 932.5,2311.2 934.0,2312.1 935.5,2313.0 937.0,2313.8 938.5,2314.7 940.0,2315.6 941.5,2316.5 943.0,2317.5 944.5,2318.4 946.0,2319.4 947.5,2320.3 949.0,2321.3 950.5,2322.3 952.0,2323.2 953.5,2324.2 955.0,2325.3 956.5,2326.3 958.0,2327.3 959.5,2328.4 961.0,2329.4 962.5,2330.5 964.0,2331.6 965.5,2332.7 967.0,2333.8 968.5,2334.9 970.0,2336.0 971.5,2337.2 973.0,2338.3 974.5,2339.5 976.0,2340.7 977.5,2341.9 979.0,2343.1 980.5,2344.3 982.0,2345.5 983.5,2346.8 985.0,2348.0 986.5,2349.3 988.0,2350.6 989.5,2351.9 991.0,2353.2 992.5,2354.5 994.0,2355.9 995.5,2357.2 997.0,2358.6 998.5,2360.0 1000.0,2361.3 1001.5,2362.7 1003.0,2364.2 1004.5,2365.6 1006.0,2367.0 1007.5,2368.5 1009.0,2369.9 1010.5,2371.4 1012.0,2372.9 1013.5,2374.4 1015.0,2375.9 1016.5,2377.5 1018.0,2379.0 1019.5,2380.6 1021.0,2382.1 1022.5,2383.7 1024.0,2385.3 1025.5,2386.9 1027.0,2388.5 1028.5,2390.2 1030.0,2391.8 1031.5,2393.5 1033.0,2395.1 1034.5,2396.8 1036.0,2398.5 1037.5,2400.2 1039.0,2401.9 1040.5,2403.7 1042.0,2405.4 1043.5,2407.2 1045.0,2408.9 1046.5,2410.7 1048.0,2412.5 1049.5,2414.3 1051.0,2416.1 1052.5,2418.0 1054.0,2419.8 1055.5,2421.6 1057.0,2423.5 1058.5,2425.4 1060.0,2427.3 1061.5,2429.2 1063.0,2431.1 1064.5,2433.0 1066.0,2434.9 1067.5,2436.8 1069.0,2438.8 1070.5,2440.8 1072.0,2442.7 1073.5,2444.7 1075.0,2446.7 1076.5,2448.7 1078.0,2450.7 1079.5,2452.8 1081.0,2454.8 1082.5,2456.8 1084.0,2458.9 1085.5,2461.0 1087.0,2463.0 1088.5,2465.1 1090.0,2467.2 1091.5,2469.3 1093.0,2471.5 1094.5,2473.6 1096.0,2475.7 1097.5,2477.9 1099.0,2480.0 1100.5,2482.2 1102.0,2484.4 1103.5,2486.6 1105.0,2488.8 1106.5,2491.0 1108.0,2493.2 1109.5,2495.4 1111.0,2497.6 1112.5,2499.9 1114.0,2502.1 1115.5,2504.4 1117.0,2506.6 1118.5,2508.9 1120.0,2511.2 1121.5,2513.5 1123.0,2515.8 1124.5,2518.1 1126.0,2520.4 1127.5,2522.8 1129.0,2525.1 1130.5,2527.5 1132.0,2529.8 1133.5,2532.2 1135.0,2534.6 1136.5,2536.9 1138.0,2539.3 1139.5,2541.7 1141.0,2544.1 1142.5,2546.6 1144.0,2549.0 1145.5,2551.4 1147.0,2553.9 1148.5,2556.3 1150.0,2558.8 1151.5,2561.2 1153.0,2563.7 1154.5,2566.2 1156.0,2568.7 1157.5,2571.2 1159.0,2573.7 1160.5,2576.2 1162.0,2578.8 1163.5,2581.3 1165.0,2583.8 1166.5,2586.4 1168.0,2589.0 1169.5,2591.5 1171.0,2594.1 1172.5,2596.7 1174.0,2599.3 1175.5,2601.9 1177.0,2604.5 1178.5,2607.1 1180.0,2609.8 1181.5,2612.4 1183.0,2615.1 1184.5,2617.7 1186.0,2620.4 1187.5,2623.1 1189.0,2625.8 1190.5,2628.5 1192.0,2631.2 1193.5,2633.9 1195.0,2636.7 1196.5,2639.4 1198.0,2642.2 1199.5,2644.9 1201.0,2647.7 1202.5,2650.5 1204.0,2653.3 1205.5,2656.1 1207.0,2658.9 1208.5,2661.7 1210.0,2664.6 1211.5,2667.4 1213.0,2670.3 1214.5,2673.1 1215.9,2675.8" fill="none" stroke="#ffff00" stroke-width="3.2" stroke-opacity="1.0" stroke-linejoin="round" stroke-linecap="butt"/>
<polyline points="859.0,2331.4 860.5,2331.4 862.0,2331.4 863.5,2331.4 865.0,2331.4 866.5,2331.4 868.0,2331.4 869.5,2331.4 871.0,2331.4 872.5,2331.4 874.0,2331.4 875.5,2331.4 877.0,2331.4 878.5,2331.4 880.0,2331.4 881.5,2331.4 883.0,2331.4 884.5,2331.4 886.0,2331.4 887.5,2331.4 889.0,2331.4 890.5,2331.4 892.0,2331.4 893.5,2331.4 895.0,2331.4 896.5,2331.4 898.0,2331.4 899.5,2331.4 901.0,2331.4 902.5,2331.4 904.0,2331.4 905.5,2331.4 907.0,2331.4 908.5,2331.4 910.0,2331.4 911.5,2331.4 913.0,2331.4 914.5,2331.4 916.0,2331.4 917.5,2331.4 919.0,2331.4 920.5,2331.4 922.0,2331.4 923.5,2331.4 925.0,2331.4 926.5,2331.4 928.0,2331.4 929.5,2331.4 931.0,2331.4 932.5,2331.4 934.0,2331.4 935.5,2331.4 937.0,2331.4 938.5,2331.4 940.0,2331.4 941.5,2331.4 943.0,2331.4 944.5,2331.4 946.0,2331.4 947.5,2331.4 949.0,2331.4 950.5,2331.4 952.0,2331.4 953.5,2331.4 955.0,2331.4 956.5,2331.4 958.0,2331.4 959.5,2331.4 961.0,2331.4 962.5,2331.4 964.0,2331.4 965.5,2331.4 967.0,2331.4 968.5,2331.4 970.0,2331.4 971.5,2331.4 973.0,2331.4 974.5,2331.4 976.0,2331.4 977.5,2331.4 979.0,2331.4 980.5,2331.4 982.0,2331.4 983.5,2331.4 985.0,2331.4 986.5,2331.4 988.0,2331.4 989.5,2331.4 991.0,2331.5 992.5,2331.7 994.0,2331.9 995.5,2332.2 997.0,2332.5 998.5,2332.8 1000.0,2333.2 1001.5,2333.5 1003.0,2333.8 1004.5,2334.1 1006.0,2334.4 1007.5,2334.7 1009.0,2334.9 1010.5,2335.2 1012.0,2335.6 1013.5,2335.9 1015.0,2336.2 1016.5,2336.5 1018.0,2336.8 1019.5,2337.1 1021.0,2337.4 1022.5,2337.7 1024.0,2338.0 1025.5,2338.3 1027.0,2338.5 1028.5,2338.7 1030.0,2338.9 1031.5,2339.1 1033.0,2339.3 1034.5,2339.4 1036.0,2339.4 1037.5,2339.5 1039.0,2339.3 1040.5,2337.8 1042.0,2335.5 1043.5,2333.4 1045.0,2332.5 1046.5,2331.9 1048.0,2331.5 1049.5,2331.2 1051.0,2331.0 1052.5,2331.0 1054.0,2331.0 1055.5,2331.0 1057.0,2331.0 1058.5,2331.0 1060.0,2331.0 1061.5,2331.0 1063.0,2331.0 1064.5,2331.0 1066.0,2331.0 1067.5,2331.0 1069.0,2331.0 1070.5,2331.0 1072.0,2331.0 1073.5,2331.0 1075.0,2331.0 1076.5,2331.0 1078.0,2331.0 1079.5,2331.0 1081.0,2331.0 1082.5,2331.0 1084.0,2331.0 1085.5,2331.1 1087.0,2331.1 1088.5,2331.1 1090.0,2331.1 1091.5,2331.1 1093.0,2331.1 1094.5,2331.1 1096.0,2331.1 1097.5,2331.1 1099.0,2331.1 1100.5,2331.1 1102.0,2331.1 1103.5,2331.1 1105.0,2331.1 1106.5,2331.1 1108.0,2331.2 1109.5,2331.2 1111.0,2331.2 1112.5,2331.2 1114.0,2331.2 1115.5,2331.2 1117.0,2331.2 1118.5,2331.2 1120.0,2331.2 1121.5,2331.2 1123.0,2331.3 1124.5,2331.3 1126.0,2331.3 1127.5,2331.3 1129.0,2331.3 1130.5,2331.3 1132.0,2331.3 1133.5,2331.4 1135.0,2331.4 1136.5,2331.4 1138.0,2331.4 1139.5,2331.4 1141.0,2331.4 1142.5,2331.4 1144.0,2331.5 1145.5,2331.5 1147.0,2331.5 1148.5,2331.5 1150.0,2331.5 1151.5,2331.6 1153.0,2331.6 1154.5,2331.6 1156.0,2331.6 1157.5,2331.6 1159.0,2331.7 1160.5,2331.7 1162.0,2331.7 1163.5,2331.7 1165.0,2331.7 1166.5,2331.8 1168.0,2331.8 1169.5,2331.8 1171.0,2331.8 1172.5,2331.9 1174.0,2331.9 1175.5,2331.9 1177.0,2331.9 1178.5,2332.0 1180.0,2332.0 1181.5,2332.1 1183.0,2332.2 1184.5,2332.3 1186.0,2332.5 1187.5,2332.7 1189.0,2333.0 1190.5,2333.3 1192.0,2333.6 1193.5,2334.0 1195.0,2334.4 1196.5,2334.8 1198.0,2335.2 1199.5,2335.7 1201.0,2336.1 1202.5,2336.6 1204.0,2337.1 1205.5,2337.6 1207.0,2338.1 1208.5,2338.6 1210.0,2339.1 1211.5,2339.6 1213.0,2340.1 1214.5,2340.5 1216.0,2341.0" fill="none" stroke="#0000ff" stroke-width="2.8" stroke-opacity="0.72" stroke-linejoin="round" stroke-linecap="butt"/>
<polyline points="859.0,2322.5 860.5,2322.5 862.0,2322.5 863.5,2322.5 865.0,2322.5 866.5,2322.5 868.0,2322.5 869.5,2322.5 871.0,2322.5 872.5,2322.5 874.0,2322.5 875.5,2322.5 877.0,2322.5 878.5,2322.5 880.0,2322.5 881.5,2322.5 883.0,2322.5 884.5,2322.5 886.0,2322.5 887.5,2322.5 889.0,2322.5 890.5,2322.5 892.0,2322.5 893.5,2322.5 895.0,2322.5 896.5,2322.5 898.0,2322.5 899.5,2322.5 901.0,2322.5 902.5,2322.5 904.0,2322.5 905.5,2322.5 907.0,2322.5 908.5,2322.5 910.0,2322.5 911.5,2322.5 913.0,2322.5 914.5,2322.5 916.0,2322.5 917.5,2322.5 919.0,2322.5 920.5,2322.5 922.0,2322.5 923.5,2322.5 925.0,2322.5 926.5,2322.5 928.0,2322.5 929.5,2322.5 931.0,2322.5 932.5,2322.5 934.0,2322.5 935.5,2322.5 937.0,2322.5 938.5,2322.5 940.0,2322.5 941.5,2322.5 943.0,2322.5 944.5,2322.5 946.0,2322.5 947.5,2322.5 949.0,2322.5 950.5,2322.5 952.0,2322.5 953.5,2322.5 955.0,2322.5 956.5,2322.5 958.0,2322.5 959.5,2322.5 961.0,2322.5 962.5,2322.5 964.0,2322.5 965.5,2322.5 967.0,2322.5 968.5,2322.5 970.0,2322.5 971.5,2322.5 973.0,2322.5 974.5,2322.5 976.0,2322.5 977.5,2322.5 979.0,2322.5 980.5,2322.5 982.0,2322.5 983.5,2322.5 985.0,2322.5 986.5,2322.5 988.0,2322.5 989.5,2322.5 991.0,2322.6 992.5,2322.9 994.0,2323.2 995.5,2323.7 997.0,2324.2 998.5,2324.7 1000.0,2325.2 1001.5,2325.7 1003.0,2326.1 1004.5,2326.4 1006.0,2326.7 1007.5,2327.0 1009.0,2327.4 1010.5,2327.7 1012.0,2328.0 1013.5,2328.3 1015.0,2328.7 1016.5,2329.0 1018.0,2329.3 1019.5,2329.6 1021.0,2329.9 1022.5,2330.2 1024.0,2330.4 1025.5,2330.7 1027.0,2330.9 1028.5,2331.1 1030.0,2331.3 1031.5,2331.4 1033.0,2331.6 1034.5,2331.7 1036.0,2331.8 1037.5,2331.8 1039.0,2331.7 1040.5,2330.6 1042.0,2329.0 1043.5,2327.5 1045.0,2325.9 1046.5,2324.2 1048.0,2322.9 1049.5,2322.5 1051.0,2322.5 1052.5,2322.5 1054.0,2322.5 1055.5,2322.5 1057.0,2322.5 1058.5,2322.5 1060.0,2322.5 1061.5,2322.5 1063.0,2322.5 1064.5,2322.5 1066.0,2322.5 1067.5,2322.5 1069.0,2322.5 1070.5,2322.5 1072.0,2322.5 1073.5,2322.6 1075.0,2322.6 1076.5,2322.6 1078.0,2322.6 1079.5,2322.6 1081.0,2322.6 1082.5,2322.6 1084.0,2322.6 1085.5,2322.6 1087.0,2322.6 1088.5,2322.6 1090.0,2322.7 1091.5,2322.7 1093.0,2322.7 1094.5,2322.7 1096.0,2322.7 1097.5,2322.7 1099.0,2322.7 1100.5,2322.7 1102.0,2322.8 1103.5,2322.8 1105.0,2322.8 1106.5,2322.8 1108.0,2322.8 1109.5,2322.8 1111.0,2322.9 1112.5,2322.9 1114.0,2322.9 1115.5,2322.9 1117.0,2322.9 1118.5,2323.0 1120.0,2323.0 1121.5,2323.0 1123.0,2323.0 1124.5,2323.1 1126.0,2323.1 1127.5,2323.1 1129.0,2323.1 1130.5,2323.1 1132.0,2323.2 1133.5,2323.2 1135.0,2323.2 1136.5,2323.3 1138.0,2323.3 1139.5,2323.3 1141.0,2323.3 1142.5,2323.4 1144.0,2323.4 1145.5,2323.4 1147.0,2323.5 1148.5,2323.5 1150.0,2323.5 1151.5,2323.6 1153.0,2323.6 1154.5,2323.6 1156.0,2323.7 1157.5,2323.7 1159.0,2323.7 1160.5,2323.8 1162.0,2323.8 1163.5,2323.8 1165.0,2323.9 1166.5,2323.9 1168.0,2323.9 1169.5,2324.0 1171.0,2324.0 1172.5,2324.1 1174.0,2324.2 1175.5,2324.3 1177.0,2324.4 1178.5,2324.6 1180.0,2324.8 1181.5,2325.0 1183.0,2325.2 1184.5,2325.4 1186.0,2325.6 1187.5,2325.9 1189.0,2326.1 1190.5,2326.4 1192.0,2326.7 1193.5,2327.0 1195.0,2327.3 1196.5,2327.6 1198.0,2327.9 1199.5,2328.3 1201.0,2328.6 1202.5,2328.9 1204.0,2329.3 1205.5,2329.6 1207.0,2330.0 1208.5,2330.3 1210.0,2330.7 1211.5,2331.0 1213.0,2331.3 1214.5,2331.7 1216.0,2332.0" fill="none" stroke="#800080" stroke-width="2.8" stroke-opacity="0.72" stroke-linejoin="round" stroke-linecap="butt"/>
<polyline points="859.0,2289.0 859.5,2289.0 860.0,2291.0 860.5,2291.4 861.0,2288.2 861.5,2289.7 862.0,2291.2 862.5,2288.0 863.0,2287.2 863.5,2288.9 864.0,2288.9 864.5,2289.2 865.0,2288.4 865.5,2287.9 866.0,2291.7 866.5,2290.5 867.0,2287.9 867.5,2291.6 868.0,2291.2 868.5,2291.9 869.0,2287.1 869.5,2291.4 870.0,2289.9 870.5,2287.4 871.0,2287.0 871.5,2289.7 872.0,2288.1 872.5,2289.2 873.0,2289.7 873.5,2290.5 874.0,2286.7 874.5,2289.5 875.0,2288.8 875.5,2287.3 876.0,2286.4 876.5,2288.7 877.0,2290.8 877.5,2290.8 878.0,2288.9 878.5,2288.0 879.0,2286.1 879.5,2291.1 880.0,2291.3 880.5,2290.9 881.0,2287.3 881.5,2290.1 882.0,2289.1 882.5,2291.3 883.0,2286.5 883.5,2289.2 884.0,2291.8 884.5,2291.3 885.0,2291.8 885.5,2288.4 886.0,2288.8 886.5,2289.5 887.0,2290.1 887.5,2291.5 888.0,2290.3 888.5,2290.1 889.0,2289.0 889.5,2290.4 890.0,2287.4 890.5,2286.4 891.0,2292.0 891.5,2288.9 892.0,2291.4 892.5,2290.8 893.0,2290.3 893.5,2287.5 894.0,2288.6 894.5,2286.2 895.0,2286.7 895.5,2287.6 896.0,2289.6 896.5,2289.3 897.0,2291.8 897.5,2291.2 898.0,2288.3 898.5,2290.7 899.0,2287.3 899.5,2291.9 900.0,2288.7 900.5,2289.5 901.0,2288.9 901.5,2286.7 902.0,2287.2 902.5,2287.9 903.0,2287.8 903.5,2288.8 904.0,2290.5 904.5,2286.6 905.0,2288.8 905.5,2288.6 906.0,2289.7 906.5,2286.6 907.0,2290.6 907.5,2288.1 908.0,2287.1 908.5,2287.8 909.0,2287.7 909.5,2289.5 910.0,2291.5 910.5,2286.8 911.0,2291.8 911.5,2290.0 912.0,2286.6 912.5,2288.5 913.0,2287.9 913.5,2286.2 914.0,2292.1 914.5,2289.7 915.0,2286.3 915.5,2288.8 916.0,2290.5 916.5,2287.0 917.0,2288.0 917.5,2290.4 918.0,2287.0 918.5,2290.2 919.0,2287.6 919.5,2290.9 920.0,2291.8 920.5,2286.3 921.0,2290.8 921.5,2289.5 922.0,2290.8 922.5,2288.1 923.0,2288.1 923.5,2292.1 924.0,2290.0 924.5,2291.3 925.0,2286.6 925.5,2289.2 926.0,2291.2 926.5,2288.4 927.0,2288.2 927.5,2288.9 928.0,2288.3 928.5,2288.9 929.0,2288.2 929.5,2290.0 930.0,2289.6 930.5,2287.2 931.0,2290.1 931.5,2290.5 932.0,2288.3 932.5,2290.2 933.0,2287.4 933.5,2290.3 934.0,2290.0 934.5,2288.1 935.0,2286.6 935.5,2291.7 936.0,2290.6 936.5,2291.0 937.0,2290.8 937.5,2289.6 938.0,2288.6 938.5,2286.4 939.0,2288.3 939.5,2290.2 940.0,2286.8 940.5,2290.7 941.0,2290.3 941.5,2288.4 942.0,2289.0 942.5,2290.1 943.0,2289.3 943.5,2287.8 944.0,2286.8 944.5,2292.1 945.0,2287.8 945.5,2291.4 946.0,2292.1 946.5,2287.4 947.0,2289.6 947.5,2286.9 948.0,2290.6 948.5,2289.5 949.0,2291.2 949.5,2288.1 950.0,2289.9 950.5,2291.2 951.0,2291.3 951.5,2287.7 952.0,2292.3 952.5,2288.2 953.0,2289.7 953.5,2289.7 954.0,2287.3 954.5,2288.8 955.0,2289.4 955.5,2292.5 956.0,2287.6 956.5,2292.2 957.0,2289.2 957.5,2289.0 958.0,2287.8 958.5,2291.1 959.0,2288.6 959.5,2289.1 960.0,2287.0 960.5,2287.0 961.0,2287.0 961.5,2291.1 962.0,2292.1 962.5,2287.0 963.0,2289.0 963.5,2287.1 964.0,2288.1 964.5,2288.6 965.0,2288.5 965.5,2288.6 966.0,2290.1 966.5,2292.0 967.0,2289.4 967.5,2291.1 968.0,2288.5 968.5,2289.1 969.0,2291.1 969.5,2288.3 970.0,2287.2 970.5,2291.5 971.0,2292.8 971.5,2291.8 972.0,2287.2 972.5,2291.6 973.0,2289.2 973.5,2287.9 974.0,2290.7 974.5,2287.7 975.0,2290.2 975.5,2291.7 976.0,2287.0 976.5,2289.2 977.0,2290.9 977.5,2289.1 978.0,2290.4 978.5,2290.8 979.0,2291.1 979.5,2291.5 980.0,2291.9 980.5,2292.3 981.0,2292.8 981.5,2293.3 982.0,2293.8 982.5,2294.3 983.0,2294.8 983.5,2295.4 984.0,2295.9 984.5,2296.5 985.0,2297.0 985.5,2297.5 986.0,2298.0 986.5,2298.5 987.0,2299.0 987.5,2299.6 988.0,2300.2 988.5,2300.8 989.0,2301.4 989.5,2302.0 990.0,2302.7 990.5,2303.3 991.0,2304.0 991.5,2304.7 992.0,2305.4 992.5,2306.0 993.0,2306.7 993.5,2307.3 994.0,2308.0 994.5,2308.6 995.0,2309.3 995.5,2309.9 996.0,2310.6 996.5,2311.3 997.0,2311.9 997.5,2312.6 998.0,2313.3 998.5,2313.9 999.0,2314.6 999.5,2315.3 1000.0,2316.0 1000.5,2316.7 1001.0,2317.4 1001.5,2318.2 1002.0,2319.0 1002.5,2319.7 1003.0,2320.5 1003.5,2321.3 1004.0,2322.1 1004.5,2322.9 1005.0,2323.7 1005.5,2324.5 1006.0,2325.3 1006.5,2326.1 1007.0,2326.9 1007.5,2327.7 1008.0,2328.5 1008.5,2329.2 1009.0,2330.0 1009.5,2330.7 1010.0,2331.4 1010.5,2332.1 1011.0,2332.8 1011.5,2333.4 1012.0,2334.0 1012.5,2334.6 1013.0,2335.2 1013.5,2335.8 1014.0,2336.4 1014.5,2336.9 1015.0,2337.5 1015.5,2338.1 1016.0,2338.6 1016.5,2339.1 1017.0,2339.6 1017.5,2340.1 1018.0,2340.5 1018.5,2340.9 1019.0,2341.3 1019.5,2341.7 1020.0,2342.0 1020.5,2342.3 1021.0,2342.6 1021.5,2342.8 1022.0,2343.1 1022.5,2343.3 1023.0,2343.6 1023.5,2343.8 1024.0,2344.0 1024.5,2344.2 1025.0,2344.5 1025.5,2344.7 1026.0,2344.8 1026.5,2345.0 1027.0,2345.2 1027.5,2345.4 1028.0,2345.6 1028.5,2345.7 1029.0,2345.9 1029.5,2346.1 1030.0,2346.3 1030.5,2346.4 1031.0,2346.6 1031.5,2346.8 1032.0,2346.9 1032.5,2347.1 1033.0,2347.3 1033.5,2347.4 1034.0,2347.6 1034.5,2347.8 1035.0,2348.0 1035.5,2348.2 1036.0,2348.4 1036.5,2348.7 1037.0,2348.9 1037.5,2349.2 1038.0,2349.4 1038.5,2349.6 1039.0,2349.9 1039.5,2350.1 1040.0,2350.3 1040.5,2350.5 1041.0,2350.7 1041.5,2350.8 1042.0,2350.9 1042.5,2351.0 1043.0,2351.0 1043.5,2350.7 1044.0,2349.8 1044.5,2348.4 1045.0,2346.6 1045.5,2344.6 1046.0,2342.4 1046.5,2340.2 1047.0,2338.0 1047.5,2335.6 1048.0,2332.8 1048.5,2329.6 1049.0,2326.4 1049.5,2323.1 1050.0,2320.0 1050.5,2316.8 1051.0,2313.3 1051.5,2309.8 1052.0,2306.2 1052.5,2302.9 1053.0,2300.0 1053.5,2297.7 1054.0,2296.0 1054.5,2294.8 1055.0,2293.6 1055.5,2292.5 1056.0,2291.4 1056.5,2290.5 1057.0,2289.6 1057.5,2288.9 1058.0,2289.1 1058.5,2290.4 1059.0,2286.0 1059.5,2289.8 1060.0,2289.0 1060.5,2289.8 1061.0,2285.6 1061.5,2285.0 1062.0,2289.5 1062.5,2288.8 1063.0,2285.9 1063.5,2284.3 1064.0,2286.5 1064.5,2285.9 1065.0,2287.2 1065.5,2286.1 1066.0,2289.8 1066.5,2284.5 1067.0,2288.2 1067.5,2285.0 1068.0,2286.9 1068.5,2289.9 1069.0,2287.4 1069.5,2288.6 1070.0,2286.9 1070.5,2289.0 1071.0,2286.7 1071.5,2289.1 1072.0,2288.9 1072.5,2289.0 1073.0,2289.5 1073.5,2287.5 1074.0,2285.0 1074.5,2284.9 1075.0,2287.5 1075.5,2286.2 1076.0,2287.8 1076.5,2288.0 1077.0,2287.6 1077.5,2287.0 1078.0,2289.2 1078.5,2287.0 1079.0,2291.0 1079.5,2286.4 1080.0,2290.9 1080.5,2285.3 1081.0,2289.9 1081.5,2286.2 1082.0,2290.0 1082.5,2285.6 1083.0,2290.1 1083.5,2290.0 1084.0,2290.8 1084.5,2288.9 1085.0,2290.7 1085.5,2291.5 1086.0,2289.7 1086.5,2289.7 1087.0,2286.2 1087.5,2289.9 1088.0,2290.6 1088.5,2289.0 1089.0,2287.1 1089.5,2286.5 1090.0,2286.1 1090.5,2288.2 1091.0,2288.9 1091.5,2287.8 1092.0,2287.0 1092.5,2291.5 1093.0,2288.5 1093.5,2287.2 1094.0,2287.3 1094.5,2287.2 1095.0,2289.1 1095.5,2288.8 1096.0,2292.4 1096.5,2292.5 1097.0,2287.8 1097.5,2288.0 1098.0,2288.9 1098.5,2288.5 1099.0,2287.1 1099.5,2290.7 1100.0,2290.7 1100.5,2292.0 1101.0,2291.0 1101.5,2291.1 1102.0,2288.7 1102.5,2290.0 1103.0,2288.3 1103.5,2289.2 1104.0,2288.9 1104.5,2290.1 1105.0,2291.2 1105.5,2292.4 1106.0,2287.9 1106.5,2291.8 1107.0,2290.3 1107.5,2287.7 1108.0,2290.2 1108.5,2293.0 1109.0,2291.4 1109.5,2291.9 1110.0,2292.5 1110.5,2292.5 1111.0,2293.5 1111.5,2288.2 1112.0,2290.2 1112.5,2290.8 1113.0,2292.3 1113.5,2290.4 1114.0,2294.0 1114.5,2294.3 1115.0,2290.4 1115.5,2292.9 1116.0,2291.9 1116.5,2294.5 1117.0,2293.8 1117.5,2294.4 1118.0,2290.1 1118.5,2288.8 1119.0,2289.4 1119.5,2289.3 1120.0,2289.2 1120.5,2290.1 1121.0,2294.1 1121.5,2292.9 1122.0,2290.6 1122.5,2290.8 1123.0,2290.2 1123.5,2295.0 1124.0,2293.0 1124.5,2289.4 1125.0,2291.1 1125.5,2294.8 1126.0,2294.7 1126.5,2292.4 1127.0,2292.4 1127.5,2290.4 1128.0,2292.0 1128.5,2295.4 1129.0,2290.0 1129.5,2290.1 1130.0,2294.7 1130.5,2293.3 1131.0,2293.8 1131.5,2294.8 1132.0,2294.1 1132.5,2295.6 1133.0,2293.0 1133.5,2291.8 1134.0,2294.1 1134.5,2289.9 1135.0,2290.2 1135.5,2290.2 1136.0,2294.1 1136.5,2293.4 1137.0,2292.2 1137.5,2290.2 1138.0,2291.4 1138.5,2295.9 1139.0,2292.8 1139.5,2290.6 1140.0,2290.3 1140.5,2293.6 1141.0,2295.4 1141.5,2295.0 1142.0,2290.7 1142.5,2295.4 1143.0,2290.2 1143.5,2293.7 1144.0,2291.9 1144.5,2291.0 1145.0,2290.4 1145.5,2289.8 1146.0,2291.0 1146.5,2295.5 1147.0,2295.3 1147.5,2290.8 1148.0,2290.3 1148.5,2290.2 1149.0,2294.2 1149.5,2292.4 1150.0,2293.7 1150.5,2290.2 1151.0,2290.9 1151.5,2290.5 1152.0,2289.2 1152.5,2292.5 1153.0,2294.1 1153.5,2293.7 1154.0,2290.1 1154.5,2289.4 1155.0,2290.4 1155.5,2289.4 1156.0,2290.7 1156.5,2288.1 1157.0,2293.7 1157.5,2289.5 1158.0,2289.5 1158.5,2291.5 1159.0,2289.8 1159.5,2291.3 1160.0,2288.8 1160.5,2288.3 1161.0,2291.4 1161.5,2287.4 1162.0,2292.0 1162.5,2290.4 1163.0,2288.5 1163.5,2291.3 1164.0,2289.0 1164.5,2290.3 1165.0,2288.9 1165.5,2288.6 1166.0,2289.6 1166.5,2287.5 1167.0,2288.2 1167.5,2288.9 1168.0,2289.3 1168.5,2291.1 1169.0,2291.6 1169.5,2292.1 1170.0,2292.6 1170.5,2293.2 1171.0,2293.9 1171.5,2294.5 1172.0,2295.2 1172.5,2295.9 1173.0,2296.6 1173.5,2297.3 1174.0,2298.0 1174.5,2298.7 1175.0,2299.5 1175.5,2300.5 1176.0,2301.4 1176.5,2302.5 1177.0,2303.6 1177.5,2304.7 1178.0,2305.9 1178.5,2307.1 1179.0,2308.4 1179.5,2309.6 1180.0,2310.9 1180.5,2312.1 1181.0,2313.4 1181.5,2314.6 1182.0,2315.8 1182.5,2316.9 1183.0,2318.0 1183.5,2319.0 1184.0,2320.0 1184.5,2320.9 1185.0,2321.8 1185.5,2322.7 1186.0,2323.6 1186.5,2324.5 1187.0,2325.4 1187.5,2326.2 1188.0,2327.0 1188.5,2327.8 1189.0,2328.6 1189.5,2329.4 1190.0,2330.2 1190.5,2330.9 1191.0,2331.6 1191.5,2332.3 1192.0,2333.0 1192.5,2333.7 1193.0,2334.3 1193.5,2335.0 1194.0,2335.6 1194.5,2336.3 1195.0,2336.9 1195.5,2337.5 1196.0,2338.1 1196.5,2338.7 1197.0,2339.2 1197.5,2339.8 1198.0,2340.3 1198.5,2340.8 1199.0,2341.2 1199.5,2341.6 1200.0,2342.0 1200.5,2342.4 1201.0,2342.7 1201.5,2343.1 1202.0,2343.4 1202.5,2343.8 1203.0,2344.1 1203.5,2344.5 1204.0,2344.8 1204.5,2345.1 1205.0,2345.5 1205.5,2345.8 1206.0,2346.1 1206.5,2346.4 1207.0,2346.7 1207.5,2347.0 1208.0,2347.3 1208.5,2347.5 1209.0,2347.8 1209.5,2348.1 1210.0,2348.3 1210.5,2348.5 1211.0,2348.7 1211.5,2348.9 1212.0,2349.1 1212.5,2349.3 1213.0,2349.4 1213.5,2349.6 1214.0,2349.7 1214.5,2349.8 1215.0,2349.9 1215.5,2349.9 1216.0,2350.0" fill="none" stroke="#ffa500" stroke-width="3.0" stroke-opacity="1.0" stroke-linejoin="round" stroke-linecap="butt"/>
<polyline points="859.0,2292.0 859.5,2292.0 860.0,2295.3 860.5,2291.7 861.0,2295.1 861.5,2288.9 862.0,2290.2 862.5,2289.6 863.0,2292.2 863.5,2293.6 864.0,2295.4 864.5,2290.8 865.0,2291.8 865.5,2290.6 866.0,2288.9 866.5,2288.8 867.0,2293.7 867.5,2290.9 868.0,2288.9 868.5,2292.0 869.0,2291.2 869.5,2294.2 870.0,2294.3 870.5,2293.1 871.0,2292.1 871.5,2290.1 872.0,2293.8 872.5,2288.4 873.0,2293.5 873.5,2288.4 874.0,2295.1 874.5,2293.2 875.0,2291.6 875.5,2290.9 876.0,2289.5 876.5,2288.4 877.0,2290.5 877.5,2293.3 878.0,2290.9 878.5,2294.9 879.0,2294.2 879.5,2291.1 880.0,2288.4 880.5,2292.2 881.0,2293.7 881.5,2290.1 882.0,2293.1 882.5,2288.8 883.0,2293.8 883.5,2288.8 884.0,2292.9 884.5,2288.3 885.0,2290.5 885.5,2290.3 886.0,2293.7 886.5,2291.0 887.0,2292.4 887.5,2288.8 888.0,2290.9 888.5,2289.6 889.0,2292.5 889.5,2289.3 890.0,2290.9 890.5,2289.5 891.0,2294.2 891.5,2290.8 892.0,2293.7 892.5,2290.9 893.0,2292.3 893.5,2290.2 894.0,2288.3 894.5,2294.6 895.0,2292.9 895.5,2293.6 896.0,2292.0 896.5,2291.9 897.0,2289.4 897.5,2290.5 898.0,2292.4 898.5,2288.5 899.0,2291.5 899.5,2289.1 900.0,2291.2 900.5,2295.3 901.0,2292.4 901.5,2290.8 902.0,2290.9 902.5,2293.4 903.0,2294.5 903.5,2292.4 904.0,2295.4 904.5,2291.6 905.0,2293.8 905.5,2291.0 906.0,2292.0 906.5,2293.8 907.0,2288.9 907.5,2295.3 908.0,2291.5 908.5,2295.0 909.0,2293.0 909.5,2293.2 910.0,2288.7 910.5,2288.9 911.0,2294.9 911.5,2294.5 912.0,2288.5 912.5,2292.8 913.0,2290.8 913.5,2292.4 914.0,2291.7 914.5,2290.3 915.0,2290.1 915.5,2289.6 916.0,2289.7 916.5,2294.5 917.0,2292.8 917.5,2295.0 918.0,2290.3 918.5,2289.0 919.0,2291.0 919.5,2288.9 920.0,2293.6 920.5,2289.2 921.0,2288.7 921.5,2291.9 922.0,2288.2 922.5,2292.6 923.0,2291.6 923.5,2295.4 924.0,2292.5 924.5,2291.3 925.0,2294.3 925.5,2292.1 926.0,2294.1 926.5,2291.9 927.0,2295.2 927.5,2292.8 928.0,2289.0 928.5,2293.7 929.0,2292.8 929.5,2292.2 930.0,2294.4 930.5,2288.8 931.0,2290.5 931.5,2291.1 932.0,2291.5 932.5,2293.7 933.0,2292.4 933.5,2291.7 934.0,2292.4 934.5,2293.9 935.0,2295.5 935.5,2290.7 936.0,2291.5 936.5,2288.8 937.0,2294.9 937.5,2295.6 938.0,2294.0 938.5,2290.4 939.0,2289.6 939.5,2294.0 940.0,2295.2 940.5,2291.5 941.0,2294.1 941.5,2289.6 942.0,2290.7 942.5,2292.1 943.0,2295.1 943.5,2288.8 944.0,2291.9 944.5,2290.6 945.0,2295.5 945.5,2289.0 946.0,2293.7 946.5,2294.9 947.0,2293.8 947.5,2293.9 948.0,2290.1 948.5,2290.6 949.0,2292.6 949.5,2294.0 950.0,2290.1 950.5,2293.1 951.0,2290.4 951.5,2293.2 952.0,2288.6 952.5,2293.8 953.0,2295.6 953.5,2293.3 954.0,2291.3 954.5,2294.4 955.0,2292.9 955.5,2292.0 956.0,2294.3 956.5,2292.0 957.0,2293.2 957.5,2294.7 958.0,2290.1 958.5,2291.0 959.0,2295.1 959.5,2295.0 960.0,2292.2 960.5,2290.7 961.0,2289.9 961.5,2293.5 962.0,2290.0 962.5,2295.4 963.0,2289.4 963.5,2295.5 964.0,2289.5 964.5,2292.0 965.0,2289.0 965.5,2293.8 966.0,2289.5 966.5,2289.2 967.0,2291.5 967.5,2292.8 968.0,2293.8 968.5,2291.9 969.0,2294.6 969.5,2295.2 970.0,2291.6 970.5,2290.0 971.0,2289.5 971.5,2293.2 972.0,2290.0 972.5,2294.4 973.0,2289.4 973.5,2288.3 974.0,2291.3 974.5,2293.4 975.0,2290.3 975.5,2295.7 976.0,2292.1 976.5,2295.5 977.0,2289.3 977.5,2290.8 978.0,2295.3 978.5,2292.6 979.0,2292.9 979.5,2293.3 980.0,2293.7 980.5,2294.1 981.0,2294.7 981.5,2295.2 982.0,2295.7 982.5,2296.3 983.0,2296.9 983.5,2297.5 984.0,2298.1 984.5,2298.7 985.0,2299.2 985.5,2299.8 986.0,2300.3 986.5,2300.8 987.0,2301.3 987.5,2301.8 988.0,2302.4 988.5,2302.9 989.0,2303.5 989.5,2304.0 990.0,2304.6 990.5,2305.2 991.0,2305.8 991.5,2306.5 992.0,2307.1 992.5,2307.8 993.0,2308.5 993.5,2309.2 994.0,2310.1 994.5,2311.0 995.0,2312.0 995.5,2313.1 996.0,2314.3 996.5,2315.4 997.0,2316.4 997.5,2317.4 998.0,2318.3 998.5,2319.0 999.0,2319.6 999.5,2320.2 1000.0,2320.7 1000.5,2321.2 1001.0,2321.7 1001.5,2322.1 1002.0,2322.6 1002.5,2323.0 1003.0,2323.5 1003.5,2324.0 1004.0,2324.5 1004.5,2325.0 1005.0,2325.6 1005.5,2326.1 1006.0,2326.7 1006.5,2327.3 1007.0,2327.9 1007.5,2328.5 1008.0,2329.1 1008.5,2329.7 1009.0,2330.4 1009.5,2331.0 1010.0,2331.6 1010.5,2332.2 1011.0,2332.7 1011.5,2333.3 1012.0,2333.9 1012.5,2334.4 1013.0,2335.0 1013.5,2335.6 1014.0,2336.2 1014.5,2336.7 1015.0,2337.3 1015.5,2337.9 1016.0,2338.5 1016.5,2339.0 1017.0,2339.5 1017.5,2340.0 1018.0,2340.5 1018.5,2340.9 1019.0,2341.3 1019.5,2341.7 1020.0,2342.0 1020.5,2342.2 1021.0,2342.5 1021.5,2342.8 1022.0,2343.0 1022.5,2343.3 1023.0,2343.5 1023.5,2343.7 1024.0,2344.0 1024.5,2344.2 1025.0,2344.4 1025.5,2344.6 1026.0,2344.8 1026.5,2345.0 1027.0,2345.2 1027.5,2345.4 1028.0,2345.6 1028.5,2345.7 1029.0,2345.9 1029.5,2346.1 1030.0,2346.2 1030.5,2346.4 1031.0,2346.5 1031.5,2346.6 1032.0,2346.7 1032.5,2346.8 1033.0,2346.9 1033.5,2347.0 1034.0,2347.1 1034.5,2347.2 1035.0,2347.3 1035.5,2347.3 1036.0,2347.4 1036.5,2347.4 1037.0,2347.5 1037.5,2347.5 1038.0,2347.6 1038.5,2347.7 1039.0,2347.7 1039.5,2347.7 1040.0,2347.8 1040.5,2347.8 1041.0,2347.9 1041.5,2347.9 1042.0,2347.9 1042.5,2348.0 1043.0,2348.0 1043.5,2348.0 1044.0,2348.0 1044.5,2348.0 1045.0,2347.4 1045.5,2345.2 1046.0,2342.0 1046.5,2338.1 1047.0,2334.2 1047.5,2330.7 1048.0,2327.9 1048.5,2325.4 1049.0,2323.0 1049.5,2320.5 1050.0,2318.0 1050.5,2315.2 1051.0,2312.0 1051.5,2308.6 1052.0,2305.3 1052.5,2302.2 1053.0,2299.5 1053.5,2297.3 1054.0,2296.0 1054.5,2295.1 1055.0,2294.3 1055.5,2293.6 1056.0,2292.9 1056.5,2292.2 1057.0,2291.7 1057.5,2291.2 1058.0,2290.3 1058.5,2292.4 1059.0,2293.0 1059.5,2293.7 1060.0,2290.1 1060.5,2287.0 1061.0,2288.5 1061.5,2289.9 1062.0,2289.8 1062.5,2290.2 1063.0,2287.6 1063.5,2292.7 1064.0,2291.1 1064.5,2291.5 1065.0,2288.7 1065.5,2287.7 1066.0,2291.9 1066.5,2288.0 1067.0,2290.5 1067.5,2287.3 1068.0,2290.9 1068.5,2293.8 1069.0,2288.5 1069.5,2293.7 1070.0,2287.5 1070.5,2290.2 1071.0,2288.9 1071.5,2287.8 1072.0,2289.4 1072.5,2292.3 1073.0,2292.9 1073.5,2292.1 1074.0,2288.0 1074.5,2289.6 1075.0,2290.6 1075.5,2292.9 1076.0,2294.1 1076.5,2293.2 1077.0,2289.0 1077.5,2288.5 1078.0,2289.9 1078.5,2287.1 1079.0,2289.6 1079.5,2287.2 1080.0,2294.2 1080.5,2293.3 1081.0,2290.6 1081.5,2291.8 1082.0,2290.2 1082.5,2287.8 1083.0,2291.7 1083.5,2290.9 1084.0,2289.4 1084.5,2289.8 1085.0,2294.6 1085.5,2290.8 1086.0,2292.6 1086.5,2294.8 1087.0,2293.5 1087.5,2288.5 1088.0,2290.2 1088.5,2288.1 1089.0,2291.5 1089.5,2287.9 1090.0,2288.2 1090.5,2294.5 1091.0,2292.3 1091.5,2293.4 1092.0,2294.4 1092.5,2290.4 1093.0,2288.7 1093.5,2289.6 1094.0,2288.2 1094.5,2291.8 1095.0,2290.7 1095.5,2292.5 1096.0,2290.3 1096.5,2290.8 1097.0,2290.2 1097.5,2294.2 1098.0,2289.6 1098.5,2294.7 1099.0,2288.7 1099.5,2290.6 1100.0,2294.9 1100.5,2290.6 1101.0,2295.0 1101.5,2292.3 1102.0,2293.0 1102.5,2294.8 1103.0,2294.4 1103.5,2291.2 1104.0,2291.6 1104.5,2288.6 1105.0,2290.1 1105.5,2294.1 1106.0,2290.1 1106.5,2294.2 1107.0,2293.7 1107.5,2292.9 1108.0,2290.6 1108.5,2289.2 1109.0,2291.0 1109.5,2293.0 1110.0,2290.1 1110.5,2294.7 1111.0,2295.1 1111.5,2295.9 1112.0,2291.9 1112.5,2295.6 1113.0,2290.4 1113.5,2295.6 1114.0,2294.1 1114.5,2295.4 1115.0,2297.1 1115.5,2292.4 1116.0,2292.5 1116.5,2296.8 1117.0,2296.1 1117.5,2296.6 1118.0,2290.9 1118.5,2297.5 1119.0,2295.1 1119.5,2296.8 1120.0,2292.7 1120.5,2295.7 1121.0,2292.6 1121.5,2297.1 1122.0,2296.6 1122.5,2295.3 1123.0,2298.4 1123.5,2292.5 1124.0,2295.3 1124.5,2291.1 1125.0,2297.7 1125.5,2294.7 1126.0,2296.8 1126.5,2292.9 1127.0,2292.4 1127.5,2294.9 1128.0,2298.4 1128.5,2294.8 1129.0,2296.9 1129.5,2297.8 1130.0,2293.1 1130.5,2298.5 1131.0,2295.9 1131.5,2296.3 1132.0,2293.7 1132.5,2296.0 1133.0,2295.9 1133.5,2296.4 1134.0,2292.3 1134.5,2299.4 1135.0,2297.7 1135.5,2294.0 1136.0,2299.6 1136.5,2298.2 1137.0,2293.9 1137.5,2292.7 1138.0,2298.7 1138.5,2296.2 1139.0,2297.4 1139.5,2297.1 1140.0,2299.4 1140.5,2298.1 1141.0,2293.3 1141.5,2294.6 1142.0,2298.3 1142.5,2293.9 1143.0,2293.4 1143.5,2292.2 1144.0,2296.4 1144.5,2293.6 1145.0,2294.5 1145.5,2297.1 1146.0,2291.9 1146.5,2299.2 1147.0,2293.4 1147.5,2292.1 1148.0,2293.7 1148.5,2298.2 1149.0,2293.9 1149.5,2294.5 1150.0,2297.0 1150.5,2292.4 1151.0,2292.9 1151.5,2295.0 1152.0,2294.8 1152.5,2295.7 1153.0,2294.6 1153.5,2292.7 1154.0,2292.7 1154.5,2293.4 1155.0,2297.1 1155.5,2290.8 1156.0,2297.7 1156.5,2291.3 1157.0,2295.5 1157.5,2297.5 1158.0,2296.7 1158.5,2296.1 1159.0,2297.0 1159.5,2290.7 1160.0,2294.8 1160.5,2292.1 1161.0,2294.3 1161.5,2295.5 1162.0,2290.1 1162.5,2291.8 1163.0,2294.1 1163.5,2293.0 1164.0,2289.5 1164.5,2291.7 1165.0,2289.3 1165.5,2296.8 1166.0,2289.5 1166.5,2290.0 1167.0,2296.6 1167.5,2290.6 1168.0,2295.3 1168.5,2294.0 1169.0,2294.3 1169.5,2294.8 1170.0,2295.3 1170.5,2295.8 1171.0,2296.3 1171.5,2296.9 1172.0,2297.5 1172.5,2298.1 1173.0,2298.8 1173.5,2299.4 1174.0,2300.0 1174.5,2300.7 1175.0,2301.5 1175.5,2302.3 1176.0,2303.3 1176.5,2304.3 1177.0,2305.4 1177.5,2306.6 1178.0,2307.8 1178.5,2309.1 1179.0,2310.3 1179.5,2311.6 1180.0,2312.9 1180.5,2314.2 1181.0,2315.4 1181.5,2316.6 1182.0,2317.8 1182.5,2319.0 1183.0,2320.1 1183.5,2321.1 1184.0,2322.0 1184.5,2322.9 1185.0,2323.7 1185.5,2324.6 1186.0,2325.4 1186.5,2326.2 1187.0,2327.0 1187.5,2327.8 1188.0,2328.6 1188.5,2329.3 1189.0,2330.0 1189.5,2330.8 1190.0,2331.4 1190.5,2332.1 1191.0,2332.8 1191.5,2333.4 1192.0,2334.0 1192.5,2334.6 1193.0,2335.2 1193.5,2335.8 1194.0,2336.4 1194.5,2337.0 1195.0,2337.5 1195.5,2338.1 1196.0,2338.6 1196.5,2339.1 1197.0,2339.6 1197.5,2340.1 1198.0,2340.6 1198.5,2341.0 1199.0,2341.3 1199.5,2341.7 1200.0,2342.0 1200.5,2342.3 1201.0,2342.6 1201.5,2342.9 1202.0,2343.1 1202.5,2343.4 1203.0,2343.7 1203.5,2344.0 1204.0,2344.2 1204.5,2344.5 1205.0,2344.7 1205.5,2345.0 1206.0,2345.2 1206.5,2345.5 1207.0,2345.7 1207.5,2345.9 1208.0,2346.1 1208.5,2346.4 1209.0,2346.5 1209.5,2346.7 1210.0,2346.9 1210.5,2347.1 1211.0,2347.2 1211.5,2347.4 1212.0,2347.5 1212.5,2347.6 1213.0,2347.7 1213.5,2347.8 1214.0,2347.9 1214.5,2347.9 1215.0,2348.0 1215.5,2348.0 1216.0,2348.0" fill="none" stroke="#ff0000" stroke-width="3.0" stroke-opacity="1.0" stroke-linejoin="round" stroke-linecap="butt"/>
<polyline points="283.0,2277.7 284.2,2278.0 285.4,2277.8 286.6,2277.2 287.8,2277.3 289.0,2278.0 290.2,2277.0 291.4,2277.9 292.6,2277.9 293.8,2277.6 295.0,2277.4 296.2,2277.4 297.4,2277.4 298.6,2277.6 299.8,2277.7 301.0,2277.8 302.2,2278.3 303.4,2278.1 304.6,2278.0 305.8,2278.4 307.0,2277.6 308.2,2277.6 309.4,2278.2 310.6,2277.6 311.8,2277.7 313.0,2278.3 314.2,2278.3 315.4,2279.0 316.6,2278.8 317.8,2278.7 319.0,2278.9 320.2,2278.7 321.4,2278.7 322.6,2279.1 323.8,2280.0 325.0,2279.8 326.2,2280.4 327.4,2280.4 328.6,2281.7 329.8,2281.4 331.0,2282.0 332.2,2283.1 333.4,2283.2 334.6,2284.1 335.8,2284.4 337.0,2285.1 338.2,2284.9 339.4,2286.0 340.6,2286.6 341.8,2287.6 343.0,2287.7 344.2,2288.6 345.4,2288.6 346.6,2289.7 347.8,2290.3 349.0,2290.8 350.2,2292.2 351.4,2292.4 352.6,2293.8 353.8,2294.1 355.0,2295.0 356.2,2296.0 357.4,2297.1 358.6,2297.5 359.8,2298.7 361.0,2299.3 362.2,2300.1 363.4,2300.0 364.6,2299.0 365.8,2291.6 367.0,2287.5 368.2,2283.4 369.4,2282.3 370.6,2280.7 371.8,2279.1 373.0,2279.2 374.2,2278.9 375.4,2278.4 376.6,2277.8 377.8,2277.0 379.0,2276.9 380.2,2277.5 381.4,2276.9 382.6,2276.3 383.8,2276.9 385.0,2276.6 386.2,2276.5 387.4,2276.3 388.6,2276.4 389.8,2276.2 391.0,2276.1 392.2,2277.0 393.4,2276.7 394.6,2276.8 395.8,2276.6 397.0,2277.2 398.2,2276.4 399.4,2276.9 400.6,2276.6 401.8,2276.7 403.0,2277.7 404.2,2277.4 405.4,2277.2 406.6,2277.3 407.8,2277.7 409.0,2277.1 410.2,2277.4 411.4,2277.6 412.6,2277.2 413.8,2277.4 415.0,2277.7 416.2,2277.9 417.4,2277.1 418.6,2278.0 419.8,2277.0 421.0,2277.8 422.2,2277.9 423.4,2277.2 424.6,2277.5 425.8,2278.0 427.0,2277.1 428.2,2277.8 429.4,2278.0 430.6,2277.7 431.8,2278.0 433.0,2277.5 434.2,2277.4 435.4,2277.6 436.6,2277.4 437.8,2277.6 439.0,2278.3 440.2,2277.9 441.4,2277.7 442.6,2277.6 443.8,2278.4 445.0,2277.8 446.2,2278.4 447.4,2277.9 448.6,2277.9 449.8,2278.3 451.0,2278.2 452.2,2278.0 453.4,2277.8 454.6,2278.3 455.8,2277.8 457.0,2278.3 458.2,2277.4 459.4,2277.8 460.6,2277.9 461.8,2278.4 463.0,2277.6 464.2,2278.2 465.4,2278.0 466.6,2278.1 467.8,2278.0 469.0,2278.3 470.2,2277.6 471.4,2277.7 472.6,2277.4 473.8,2277.3 475.0,2277.4 476.2,2278.2 477.4,2278.1 478.6,2277.3 479.8,2277.8 481.0,2277.7 482.2,2277.8 483.4,2277.8 484.6,2277.4 485.8,2278.1 487.0,2277.6 488.2,2277.7 489.4,2277.7 490.6,2277.2 491.8,2277.1 493.0,2277.5 494.2,2277.9 495.4,2277.9 496.6,2277.8 497.8,2277.1 499.0,2278.0 500.2,2277.9 501.4,2278.0 502.6,2277.6 503.8,2278.0 505.0,2277.0 506.2,2277.0 507.4,2277.0 508.6,2277.3 509.8,2277.3 511.0,2277.2 512.2,2277.6 513.4,2277.0 514.6,2277.6 515.8,2277.2 517.0,2277.7 518.2,2277.0 519.4,2277.3 520.6,2278.0 521.8,2277.6 523.0,2277.9 524.2,2277.7 525.4,2277.7 526.6,2277.2 527.8,2277.6 529.0,2277.0 530.2,2277.9 531.4,2278.0 532.6,2277.9 533.8,2277.0 535.0,2277.4 536.2,2277.3 537.4,2277.1 538.6,2277.7 539.8,2277.9 541.0,2277.3 542.2,2277.9 543.4,2277.9 544.6,2277.1 545.8,2277.8 547.0,2278.0 548.2,2277.2 549.4,2277.6 550.6,2277.7 551.8,2277.7 553.0,2277.1 554.2,2277.7 555.4,2277.7 556.6,2277.9 557.8,2277.9 559.0,2277.3 560.2,2277.8 561.4,2277.9 562.6,2278.0 563.8,2277.2 565.0,2277.0 566.2,2277.7 567.4,2277.2 568.6,2277.6 569.8,2278.0 571.0,2277.4 572.2,2277.3 573.4,2277.6 574.6,2278.0 575.8,2277.6 577.0,2278.1 578.2,2278.1 579.4,2279.0 580.6,2279.5 581.8,2279.2 583.0,2279.5 584.2,2280.0 585.4,2279.9 586.6,2280.3 587.8,2280.7 589.0,2281.2 590.2,2281.1 591.4,2282.2 592.6,2282.4 593.8,2282.6 595.0,2282.8 596.2,2284.0 597.4,2283.9 598.6,2284.4 599.8,2285.1 601.0,2285.7 602.2,2287.3 603.4,2287.3 604.6,2288.0 605.8,2289.3 607.0,2289.8 608.2,2290.0 609.4,2291.0 610.6,2292.3 611.8,2292.5 613.0,2293.6 614.2,2293.8 615.4,2295.3 616.6,2296.1 617.8,2297.0 619.0,2297.7 620.2,2298.4 621.4,2299.3 622.6,2301.0 623.8,2302.5 625.0,2303.0 626.2,2304.0 627.4,2305.0 628.6,2305.5 629.8,2301.8 631.0,2294.1 632.2,2287.6 633.4,2284.7 634.6,2282.3 635.8,2280.8 637.0,2279.9 638.2,2278.9 639.4,2278.0 640.6,2277.4 641.8,2276.7 643.0,2276.8 644.2,2276.2 645.4,2276.8 646.6,2276.7 647.8,2276.5 649.0,2276.2 650.2,2276.1 651.4,2276.1 652.6,2275.6 653.8,2276.5 655.0,2276.2 656.2,2276.0 657.4,2276.3 658.6,2276.6 659.8,2276.3 661.0,2277.0 662.2,2277.2 663.4,2276.8 664.6,2276.7 665.8,2277.5 667.0,2277.9 668.2,2277.1 669.4,2277.8 670.6,2277.9 671.8,2278.0 673.0,2277.1 674.2,2277.1 675.4,2278.1 676.6,2277.1 677.8,2277.2 679.0,2277.6 680.2,2277.5 681.4,2277.8 682.6,2277.2 683.8,2278.0 685.0,2277.2 686.2,2277.8 687.4,2277.1 688.6,2277.5 689.8,2277.0 691.0,2277.3 692.2,2277.3 693.4,2277.8 694.6,2277.5 695.8,2277.0 697.0,2278.1 698.2,2278.0 699.4,2278.0 700.6,2277.3 701.8,2277.4 703.0,2277.2 704.2,2277.1 705.4,2277.0 706.6,2277.5 707.8,2277.1 709.0,2277.2 710.2,2277.9 711.4,2277.5 712.6,2277.2 713.8,2277.7 715.0,2277.3 716.2,2277.6 717.4,2277.3 718.6,2277.6 719.8,2277.7 721.0,2277.6 722.2,2277.4 723.4,2277.9 724.6,2277.9 725.8,2277.2 727.0,2277.1 728.2,2277.1 729.4,2278.1 730.6,2278.0 731.8,2277.2 733.0,2278.1 734.2,2277.2 735.4,2277.5 736.6,2277.5 737.8,2278.0 739.0,2277.0 740.2,2277.3 741.4,2277.6 742.6,2277.1 743.8,2277.2 745.0,2277.5 746.2,2278.0 747.4,2277.8 748.6,2277.9 749.8,2277.8 751.0,2277.8 752.2,2277.9 753.4,2277.7 754.6,2277.8 755.8,2277.3 757.0,2277.2 758.2,2277.8 759.4,2277.2 760.6,2278.0 761.8,2277.6 763.0,2277.3 764.2,2278.0 765.4,2277.2 766.6,2277.6 767.8,2277.1 769.0,2278.0 770.2,2277.6 771.4,2277.9 772.6,2277.4 773.8,2278.1 775.0,2278.1 776.2,2278.1 777.4,2278.6 778.6,2278.2 779.8,2278.4 781.0,2278.9 782.2,2279.2 783.4,2278.9 784.6,2279.5 785.8,2279.2 787.0,2279.9 788.2,2280.4 789.4,2280.0 790.6,2281.1 791.8,2280.7 793.0,2282.2 794.2,2282.0 795.4,2282.4 796.6,2283.2 797.8,2283.5 799.0,2284.2 800.2,2284.0 801.4,2285.0 802.6,2285.6 803.8,2286.7 805.0,2286.4 806.2,2287.6 807.4,2288.5 808.6,2289.2 809.8,2289.5 811.0,2290.8 812.2,2291.2 813.4,2291.9 814.6,2293.4 815.8,2293.5 817.0,2294.5 818.2,2295.6 819.4,2296.4 820.6,2297.0 821.8,2298.1 823.0,2298.5 824.2,2299.5 825.4,2300.6 826.6,2301.2 827.8,2302.2 829.0,2303.0 830.2,2304.3 831.4,2305.3 832.6,2306.9 833.8,2307.7 835.0,2308.9 836.2,2310.3 837.4,2310.9 838.6,2311.4 839.8,2312.4 841.0,2312.1 842.2,2308.4 843.4,2298.8 844.6,2293.0 845.8,2289.0 847.0,2285.4 848.2,2283.5 849.4,2282.1 850.6,2280.3 851.8,2279.4 853.0,2278.7 854.2,2278.0 855.4,2277.4 856.6,2276.7 857.8,2276.1 859.0,2276.0 860.2,2275.8 861.4,2275.8 862.6,2276.2 863.8,2275.4 865.0,2275.4 866.2,2275.3 867.4,2275.5 868.6,2275.9 869.8,2275.9 871.0,2275.3 872.2,2275.3 873.4,2276.0 874.6,2275.6 875.8,2275.8 877.0,2275.2 878.2,2276.2 879.4,2275.6 880.6,2275.9 881.8,2275.6 883.0,2275.9 884.2,2276.5 885.4,2276.5 886.6,2276.2 887.8,2276.6 889.0,2276.3 890.2,2276.3 891.4,2276.5 892.6,2276.2 893.8,2276.4 895.0,2276.9 896.2,2277.0 897.4,2276.3 898.6,2277.0 899.8,2277.2 901.0,2276.8 902.2,2276.4 903.4,2277.1 904.6,2276.6 905.8,2277.1 907.0,2276.8 908.2,2277.1 909.4,2276.7 910.6,2277.0 911.8,2277.0 913.0,2277.2 914.2,2276.7 915.4,2277.6 916.6,2276.8 917.8,2276.9 919.0,2276.8 920.2,2276.6 921.4,2277.0 922.6,2277.4 923.8,2277.3 925.0,2276.8 926.2,2276.7 927.4,2277.0 928.6,2277.5 929.8,2277.2 931.0,2277.6 932.2,2277.4 933.4,2277.3 934.6,2277.5 935.8,2277.5 937.0,2277.1 938.2,2277.0 939.4,2277.2 940.6,2277.3 941.8,2276.9 943.0,2277.3 944.2,2277.5 945.4,2277.0 946.6,2277.1 947.8,2277.1 949.0,2277.3 950.2,2278.1 951.4,2277.1 952.6,2277.4 953.8,2277.5 955.0,2278.0 956.2,2277.7 957.4,2278.3 958.6,2278.2 959.8,2278.6 961.0,2279.4 962.2,2278.9 963.4,2279.7 964.6,2279.8 965.8,2280.2 967.0,2281.0 968.2,2280.7 969.4,2282.0 970.6,2282.4 971.8,2282.7 973.0,2282.5 974.2,2283.7 975.4,2284.2 976.6,2284.9 977.8,2284.9 979.0,2286.3 980.2,2286.8 981.4,2286.5 982.6,2287.4 983.8,2287.7 985.0,2289.3 986.2,2290.2 987.4,2291.1 988.6,2291.4 989.8,2292.3 991.0,2293.2 992.2,2293.9 993.4,2295.2 994.6,2295.6 995.8,2296.1 997.0,2297.1 998.2,2297.4 999.4,2299.0 1000.6,2299.8 1001.8,2300.3 1003.0,2301.6 1004.2,2302.4 1005.4,2302.7 1006.6,2303.3 1007.8,2304.3 1009.0,2305.2 1010.2,2306.2 1011.4,2307.3 1012.6,2308.8 1013.8,2309.3 1015.0,2311.2 1016.2,2312.3 1017.4,2313.8 1018.6,2314.7 1019.8,2315.6 1021.0,2317.7 1022.2,2318.3 1023.4,2319.2 1024.6,2320.7 1025.8,2321.3 1027.0,2321.2 1028.2,2321.4 1029.4,2314.6 1030.6,2304.3 1031.8,2294.8 1033.0,2288.1 1034.2,2286.1 1035.4,2283.1 1036.6,2281.7 1037.8,2279.9 1039.0,2279.5 1040.2,2279.2 1041.4,2277.9 1042.6,2277.7 1043.8,2277.9 1045.0,2277.5 1046.2,2276.9 1047.4,2277.0 1048.6,2276.6 1049.8,2276.9 1051.0,2276.0 1052.2,2276.5 1053.4,2276.3 1054.6,2276.5 1055.8,2276.1 1057.0,2276.4 1058.2,2276.4 1059.4,2276.1 1060.6,2275.7 1061.8,2276.7 1063.0,2276.5 1064.2,2275.9 1065.4,2276.5 1066.6,2276.0 1067.8,2276.2 1069.0,2276.7 1070.2,2276.2 1071.4,2276.1 1072.6,2276.1 1073.8,2275.9 1075.0,2276.1 1076.2,2276.2 1077.4,2276.1 1078.6,2276.0 1079.8,2276.4 1081.0,2276.2 1082.2,2276.8 1083.4,2277.0 1084.6,2276.3 1085.8,2276.7 1087.0,2276.7 1088.2,2276.2 1089.4,2276.3 1090.6,2277.2 1091.8,2276.8 1093.0,2277.2 1094.2,2276.4 1095.4,2277.0 1096.6,2277.4 1097.8,2277.4 1099.0,2276.5 1100.2,2277.2 1101.4,2277.0 1102.6,2277.5 1103.8,2276.8 1105.0,2277.1 1106.2,2277.8 1107.4,2277.4 1108.6,2277.5 1109.8,2278.1 1111.0,2277.5 1112.2,2277.2 1113.4,2277.7 1114.6,2277.5 1115.8,2277.7 1117.0,2278.5 1118.2,2279.3 1119.4,2279.3 1120.6,2279.8 1121.8,2279.9 1123.0,2280.7 1124.2,2281.5 1125.4,2281.9 1126.6,2282.7 1127.8,2282.9 1129.0,2283.1 1130.2,2284.1 1131.4,2284.5 1132.6,2284.8 1133.8,2285.9 1135.0,2286.8 1136.2,2286.8 1137.4,2287.9 1138.6,2288.8 1139.8,2289.2 1141.0,2289.8 1142.2,2290.7 1143.4,2291.6 1144.6,2292.6 1145.8,2293.2 1147.0,2293.5 1148.2,2295.1 1149.4,2296.0 1150.6,2296.0 1151.8,2297.0 1153.0,2297.8 1154.2,2299.4 1155.4,2300.3 1156.6,2300.3 1157.8,2301.5 1159.0,2302.3 1160.2,2303.5 1161.4,2305.0 1162.6,2305.0 1163.8,2306.2 1165.0,2307.5 1166.2,2308.6 1167.4,2309.9 1168.6,2310.6 1169.8,2311.4 1171.0,2312.7 1172.2,2314.4 1173.4,2315.2 1174.6,2315.5 1175.8,2317.3 1177.0,2317.9 1178.2,2319.6 1179.4,2319.9 1180.6,2322.0 1181.8,2322.4 1183.0,2323.8 1184.2,2325.1 1185.4,2326.0 1186.6,2326.6 1187.8,2327.4 1189.0,2328.4 1190.2,2328.8 1191.4,2329.5 1192.6,2329.9 1193.8,2330.6 1195.0,2330.9 1196.2,2331.6 1197.4,2331.7 1198.6,2331.9 1199.8,2332.8 1201.0,2333.9 1202.2,2334.0 1203.4,2334.8 1204.6,2335.9 1205.8,2336.1 1207.0,2337.3 1208.2,2337.9 1209.4,2337.8 1210.6,2338.8 1211.8,2338.7 1213.0,2339.1 1214.2,2339.8 1215.4,2340.5 1216.6,2341.3 1217.8,2340.8 1219.0,2341.9 1220.2,2342.0 1221.4,2342.1 1222.6,2343.5 1223.8,2343.7 1225.0,2343.6 1226.2,2345.0 1227.4,2344.6 1228.6,2345.2 1229.8,2346.0 1231.0,2347.3 1232.2,2346.9 1233.4,2348.4 1234.6,2348.6 1235.8,2348.6 1237.0,2349.6 1238.2,2350.0 1239.4,2350.6 1240.6,2351.3 1241.8,2351.7 1243.0,2352.5 1244.2,2352.1 1245.4,2353.2 1246.6,2353.2 1247.8,2354.0 1249.0,2354.4 1250.2,2354.8 1251.4,2354.3 1252.6,2354.7 1253.8,2355.5 1255.0,2355.7 1256.2,2355.3 1257.4,2356.1 1258.6,2355.7 1259.8,2355.9 1261.0,2356.5 1262.2,2356.3 1263.4,2356.4 1264.6,2356.5 1265.8,2356.8 1267.0,2356.6 1268.2,2356.7 1269.4,2357.6 1270.6,2357.5 1271.8,2357.8 1273.0,2358.1 1274.2,2357.6 1275.4,2357.8 1276.6,2358.0 1277.8,2358.3 1279.0,2358.9 1280.2,2358.7 1281.4,2358.8 1282.6,2359.3 1283.8,2359.0 1285.0,2359.1 1286.2,2359.9 1287.4,2360.1 1288.6,2359.8 1289.8,2360.4 1291.0,2359.9 1292.2,2360.4 1293.4,2360.8 1294.6,2360.6 1295.8,2360.9 1297.0,2361.4 1298.2,2361.5 1299.4,2361.2 1300.6,2362.0 1301.8,2361.5 1303.0,2362.6 1304.2,2361.9 1305.4,2362.2 1306.6,2362.3 1307.8,2363.3 1309.0,2362.7 1310.2,2363.2 1311.4,2363.8 1312.6,2364.0 1313.8,2363.1 1315.0,2363.8 1316.2,2364.1 1317.4,2364.4 1318.6,2364.2 1319.8,2364.3 1321.0,2364.1 1322.2,2364.3 1323.4,2365.1 1324.6,2364.7 1325.8,2365.1 1327.0,2365.4 1328.2,2365.3 1329.4,2365.4 1330.6,2366.6 1331.8,2366.2 1333.0,2366.2 1334.2,2366.9 1335.4,2366.4 1336.6,2366.9 1337.8,2367.9 1339.0,2368.1 1340.2,2368.0 1341.4,2367.7 1342.6,2368.2 1343.8,2368.1 1345.0,2368.6 1346.2,2368.6 1347.4,2368.9 1348.6,2369.7 1349.8,2369.3 1351.0,2369.6 1352.2,2370.6 1353.4,2370.1 1354.6,2370.2 1355.8,2370.0 1357.0,2370.9 1358.2,2370.9 1359.4,2370.9 1360.6,2371.0 1361.8,2370.6 1363.0,2370.8 1364.2,2371.3 1365.4,2371.8 1366.6,2371.7 1367.8,2371.6 1369.0,2371.6 1370.2,2371.1 1371.4,2372.2 1372.6,2371.3 1373.8,2371.5 1375.0,2372.2 1376.2,2372.4 1377.4,2372.4 1378.6,2372.1 1379.8,2371.9 1381.0,2371.8 1382.2,2372.7 1383.4,2372.9 1384.6,2372.1 1385.8,2372.9 1387.0,2372.4 1388.2,2372.3 1389.4,2372.5 1390.6,2372.0 1391.8,2372.5 1393.0,2372.2 1394.2,2372.8 1395.4,2372.6 1396.6,2373.0 1397.8,2373.0 1399.0,2372.3 1400.2,2372.3 1401.4,2373.0 1402.6,2372.5 1403.8,2372.0 1405.0,2372.0 1406.2,2373.0 1407.4,2372.5 1408.6,2371.9 1409.8,2372.4 1411.0,2372.3 1412.2,2372.2 1413.4,2372.7 1414.6,2372.7 1415.8,2371.7 1417.0,2371.7 1418.2,2371.9 1419.4,2372.2 1420.6,2371.8 1421.8,2371.8 1423.0,2371.4 1424.2,2370.8 1425.4,2371.3 1426.6,2370.3 1427.8,2370.8 1429.0,2370.1 1430.2,2370.3 1431.4,2370.7 1432.6,2370.1 1433.8,2369.4 1435.0,2369.8 1436.2,2369.9 1437.4,2369.2 1438.6,2369.3 1439.8,2368.9 1441.0,2369.4 1442.2,2369.2 1443.4,2369.2 1444.6,2368.9 1445.8,2369.2 1447.0,2368.6 1448.2,2369.4 1449.4,2369.4 1450.6,2368.8 1451.8,2368.7 1453.0,2369.1 1453.6,2368.4" fill="none" stroke="#111" stroke-width="3.1" stroke-linejoin="round"/>
<polyline points="1453.6,2368.7 1475.8,2369.3" fill="none" stroke="#9c9c9c" stroke-width="3"/>
<rect x="243.8" y="2522.4" width="403.5" height="449.5" rx="8" ry="8" fill="#fff" fill-opacity="0.85" stroke="#dadada" stroke-width="3"/>
<line x1="257.2" y1="2553.5" x2="344.8" y2="2553.5" stroke="#a52a2a" stroke-width="6"/>
<text transform="translate(374.99,2569.50) scale(0.9802,1)" font-family="'DejaVu Sans','Liberation Sans',sans-serif" font-size="41.7" fill="#222" stroke="#222" stroke-width="1.1" stroke-linejoin="round">Arima</text>
<line x1="257.2" y1="2616.6" x2="344.8" y2="2616.6" stroke="#ffff00" stroke-width="6"/>
<text transform="translate(375.27,2632.30) scale(1.0111,1)" font-family="'DejaVu Sans','Liberation Sans',sans-serif" font-size="41.7" fill="#222" stroke="#222" stroke-width="1.1" stroke-linejoin="round">Garch</text>
<line x1="257.2" y1="2679.6" x2="344.8" y2="2679.6" stroke="#0000ff" stroke-width="6"/>
<text transform="translate(374.65,2694.50) scale(0.9957,1)" font-family="'DejaVu Sans','Liberation Sans',sans-serif" font-size="41.7" fill="#222" stroke="#222" stroke-width="1.1" stroke-linejoin="round">DeepAR</text>
<line x1="257.2" y1="2742.5" x2="344.8" y2="2742.5" stroke="#800080" stroke-width="6"/>
<text transform="translate(371.88,2758.00) scale(1.0119,1)" font-family="'DejaVu Sans','Liberation Sans',sans-serif" font-size="41.7" fill="#222" stroke="#222" stroke-width="1.1" stroke-linejoin="round">Deep state</text>
<line x1="257.2" y1="2805.4" x2="344.8" y2="2805.4" stroke="#ffa500" stroke-width="6"/>
<text transform="translate(374.99,2819.20) scale(0.9844,1)" font-family="'DejaVu Sans','Liberation Sans',sans-serif" font-size="41.7" fill="#222" stroke="#222" stroke-width="1.1" stroke-linejoin="round">AT_LSTM</text>
<line x1="257.2" y1="2868.2" x2="344.8" y2="2868.2" stroke="#ff0000" stroke-width="6"/>
<text transform="translate(376.30,2883.80) scale(1.0007,1)" font-family="'DejaVu Sans','Liberation Sans',sans-serif" font-size="41.7" fill="#222" stroke="#222" stroke-width="1.1" stroke-linejoin="round">GLTrans.</text>
<line x1="257.2" y1="2931.1" x2="344.8" y2="2931.1" stroke="#000000" stroke-width="6"/>
<text transform="translate(376.30,2944.90) scale(0.9983,1)" font-family="'DejaVu Sans','Liberation Sans',sans-serif" font-size="41.7" fill="#222" stroke="#222" stroke-width="1.1" stroke-linejoin="round">Grand_Truth</text>
</g>
<text transform="translate(72.24,89.83) scale(0.9544,1)" font-family="'Liberation Serif','Times New Roman',serif" font-size="72.22" fill="#000" stroke="#000" stroke-width="0.52">(a)</text>
<text transform="translate(76.22,1108.3) scale(0.9921,1)" font-family="'Liberation Serif','Times New Roman',serif" font-size="70.00" fill="#000" stroke="#000" stroke-width="0.50">(b)</text>
<text transform="translate(88.28,2179.53) scale(0.9865,1)" font-family="'Liberation Serif','Times New Roman',serif" font-size="68.89" fill="#000" stroke="#000" stroke-width="0.51">(c)</text>
<text transform="translate(616.99,135.2) scale(0.9415,1)" font-family="'Liberation Serif','Times New Roman',serif" font-size="71.08" fill="#000" stroke="#000" stroke-width="0.53">Forecast 1000 points</text>
<text transform="translate(621.21,1154.9) scale(0.9815,1)" font-family="'Liberation Serif','Times New Roman',serif" font-size="67.69" fill="#000" stroke="#000" stroke-width="0.51">Forecast 1100 points</text>
<text transform="translate(626.71,2219.7) scale(0.9598,1)" font-family="'Liberation Serif','Times New Roman',serif" font-size="69.08" fill="#000" stroke="#000" stroke-width="0.52">Forecast 1200 points</text>
<text transform="translate(142.31,203.44) scale(0.9242,1)" font-family="'Liberation Serif','Times New Roman',serif" font-size="56.06" fill="#000" stroke="#000" stroke-width="0.54">3.5</text>
<text transform="translate(142.34,343.49) scale(0.9590,1)" font-family="'Liberation Serif','Times New Roman',serif" font-size="55.37" fill="#000" stroke="#000" stroke-width="0.52">3.0</text>
<text transform="translate(143.57,475.35) scale(0.9246,1)" font-family="'Liberation Serif','Times New Roman',serif" font-size="55.00" fill="#000" stroke="#000" stroke-width="0.54">2.5</text>
<text transform="translate(143.9,627.61) scale(0.9617,1)" font-family="'Liberation Serif','Times New Roman',serif" font-size="54.48" fill="#000" stroke="#000" stroke-width="0.52">2.0</text>
<text transform="translate(150.93,760.17) scale(0.9116,1)" font-family="'Liberation Serif','Times New Roman',serif" font-size="53.28" fill="#000" stroke="#000" stroke-width="0.55">1.5</text>
<text transform="translate(150.74,903.93) scale(0.9457,1)" font-family="'Liberation Serif','Times New Roman',serif" font-size="53.53" fill="#000" stroke="#000" stroke-width="0.53">1.0</text>
<text transform="translate(265.71,965.93) scale(1.0635,1)" font-family="'Liberation Serif','Times New Roman',serif" font-size="53.73" fill="#000" stroke="#000" stroke-width="0.47">0</text>
<text transform="translate(425.44,966.94) scale(0.9576,1)" font-family="'Liberation Serif','Times New Roman',serif" font-size="52.94" fill="#000" stroke="#000" stroke-width="0.52">1000</text>
<text transform="translate(626.72,966.93) scale(0.9693,1)" font-family="'Liberation Serif','Times New Roman',serif" font-size="53.73" fill="#000" stroke="#000" stroke-width="0.52">2000</text>
<text transform="translate(827.41,970.93) scale(0.9627,1)" font-family="'Liberation Serif','Times New Roman',serif" font-size="53.73" fill="#000" stroke="#000" stroke-width="0.52">3000</text>
<text transform="translate(1026.97,961.73) scale(0.9593,1)" font-family="'Liberation Serif','Times New Roman',serif" font-size="53.73" fill="#000" stroke="#000" stroke-width="0.52">4000</text>
<text transform="translate(1227.73,959.73) scale(0.9521,1)" font-family="'Liberation Serif','Times New Roman',serif" font-size="53.73" fill="#000" stroke="#000" stroke-width="0.53">5000</text>
<text transform="translate(1428.75,959.7) scale(0.9312,1)" font-family="'Liberation Serif','Times New Roman',serif" font-size="54.93" fill="#000" stroke="#000" stroke-width="0.54">6000</text>
<text transform="translate(145.44,1224.25) scale(0.9310,1)" font-family="'Liberation Serif','Times New Roman',serif" font-size="55.00" fill="#000" stroke="#000" stroke-width="0.54">3.5</text>
<text transform="translate(145.41,1363.49) scale(0.9372,1)" font-family="'Liberation Serif','Times New Roman',serif" font-size="55.37" fill="#000" stroke="#000" stroke-width="0.53">3.0</text>
<text transform="translate(145.97,1493.75) scale(0.9231,1)" font-family="'Liberation Serif','Times New Roman',serif" font-size="55.00" fill="#000" stroke="#000" stroke-width="0.54">2.5</text>
<text transform="translate(146.23,1644.43) scale(0.9721,1)" font-family="'Liberation Serif','Times New Roman',serif" font-size="53.28" fill="#000" stroke="#000" stroke-width="0.51">2.0</text>
<text transform="translate(153.16,1776.96) scale(0.9047,1)" font-family="'Liberation Serif','Times New Roman',serif" font-size="54.48" fill="#000" stroke="#000" stroke-width="0.55">1.5</text>
<text transform="translate(153.11,1919.23) scale(0.9324,1)" font-family="'Liberation Serif','Times New Roman',serif" font-size="53.53" fill="#000" stroke="#000" stroke-width="0.54">1.0</text>
<text transform="translate(267.62,1981.9) scale(1.0779,1)" font-family="'Liberation Serif','Times New Roman',serif" font-size="55.22" fill="#000" stroke="#000" stroke-width="0.46">0</text>
<text transform="translate(427.43,1982.91) scale(0.9337,1)" font-family="'Liberation Serif','Times New Roman',serif" font-size="54.41" fill="#000" stroke="#000" stroke-width="0.54">1000</text>
<text transform="translate(629,1982.9) scale(0.9054,1)" font-family="'Liberation Serif','Times New Roman',serif" font-size="55.22" fill="#000" stroke="#000" stroke-width="0.55">2000</text>
<text transform="translate(828.43,1985.93) scale(0.9549,1)" font-family="'Liberation Serif','Times New Roman',serif" font-size="53.73" fill="#000" stroke="#000" stroke-width="0.52">3000</text>
<text transform="translate(1027.98,1976.93) scale(0.9497,1)" font-family="'Liberation Serif','Times New Roman',serif" font-size="53.73" fill="#000" stroke="#000" stroke-width="0.53">4000</text>
<text transform="translate(1227.91,1974.96) scale(0.9874,1)" font-family="'Liberation Serif','Times New Roman',serif" font-size="52.24" fill="#000" stroke="#000" stroke-width="0.51">5000</text>
<text transform="translate(1429.96,1974.9) scale(0.9243,1)" font-family="'Liberation Serif','Times New Roman',serif" font-size="55.22" fill="#000" stroke="#000" stroke-width="0.54">6000</text>
<text transform="translate(154.64,2289.64) scale(0.9100,1)" font-family="'Liberation Serif','Times New Roman',serif" font-size="56.36" fill="#000" stroke="#000" stroke-width="0.55">3.5</text>
<text transform="translate(154.39,2430.37) scale(0.9244,1)" font-family="'Liberation Serif','Times New Roman',serif" font-size="56.42" fill="#000" stroke="#000" stroke-width="0.54">3.0</text>
<text transform="translate(154.96,2561.45) scale(0.9277,1)" font-family="'Liberation Serif','Times New Roman',serif" font-size="55.00" fill="#000" stroke="#000" stroke-width="0.54">2.5</text>
<text transform="translate(155.53,2714.51) scale(0.9482,1)" font-family="'Liberation Serif','Times New Roman',serif" font-size="54.63" fill="#000" stroke="#000" stroke-width="0.53">2.0</text>
<text transform="translate(162.64,2847.87) scale(0.9073,1)" font-family="'Liberation Serif','Times New Roman',serif" font-size="53.43" fill="#000" stroke="#000" stroke-width="0.55">1.5</text>
<text transform="translate(162.51,2992.43) scale(0.9298,1)" font-family="'Liberation Serif','Times New Roman',serif" font-size="53.68" fill="#000" stroke="#000" stroke-width="0.54">1.0</text>
<text transform="translate(277.26,3054.91) scale(1.0271,1)" font-family="'Liberation Serif','Times New Roman',serif" font-size="54.48" fill="#000" stroke="#000" stroke-width="0.49">0</text>
<text transform="translate(434.43,3054.94) scale(0.9596,1)" font-family="'Liberation Serif','Times New Roman',serif" font-size="52.94" fill="#000" stroke="#000" stroke-width="0.52">1000</text>
<text transform="translate(635.96,3054.93) scale(0.9499,1)" font-family="'Liberation Serif','Times New Roman',serif" font-size="53.73" fill="#000" stroke="#000" stroke-width="0.53">2000</text>
<text transform="translate(834.26,3059.9) scale(0.9215,1)" font-family="'Liberation Serif','Times New Roman',serif" font-size="55.22" fill="#000" stroke="#000" stroke-width="0.54">3000</text>
<text transform="translate(1032.99,3050.89) scale(0.9098,1)" font-family="'Liberation Serif','Times New Roman',serif" font-size="55.52" fill="#000" stroke="#000" stroke-width="0.55">4000</text>
<text transform="translate(1231.77,3047.7) scale(0.9199,1)" font-family="'Liberation Serif','Times New Roman',serif" font-size="54.93" fill="#000" stroke="#000" stroke-width="0.54">5000</text>
<text transform="translate(1431.98,3047.7) scale(0.9179,1)" font-family="'Liberation Serif','Times New Roman',serif" font-size="54.93" fill="#000" stroke="#000" stroke-width="0.54">6000</text>
<text transform="translate(771.39,1037.6) scale(0.9340,1)" font-family="'Liberation Serif','Times New Roman',serif" font-size="54.15" fill="#000" stroke="#000" stroke-width="0.54">Time (min)</text>
<text transform="translate(772.59,2052) scale(0.9385,1)" font-family="'Liberation Serif','Times New Roman',serif" font-size="53.85" fill="#000" stroke="#000" stroke-width="0.53">Time (min)</text>
<text transform="translate(777.99,3125.6) scale(0.9315,1)" font-family="'Liberation Serif','Times New Roman',serif" font-size="54.15" fill="#000" stroke="#000" stroke-width="0.54">Time (min)</text>
<text transform="translate(124.5,617.7) rotate(-90) scale(0.9191,1)" font-family="'Liberation Serif','Times New Roman',serif" font-size="54.31" fill="#000" stroke="#000" stroke-width="0.50">Voltage (V)</text>
<text transform="translate(126.5,1635.7) rotate(-90) scale(0.9262,1)" font-family="'Liberation Serif','Times New Roman',serif" font-size="53.54" fill="#000" stroke="#000" stroke-width="0.50">Voltage (V)</text>
<text transform="translate(136,2704.7) rotate(-90) scale(0.9434,1)" font-family="'Liberation Serif','Times New Roman',serif" font-size="52.77" fill="#000" stroke="#000" stroke-width="0.50">Voltage (V)</text>
</g>
</svg>
</body></html>
